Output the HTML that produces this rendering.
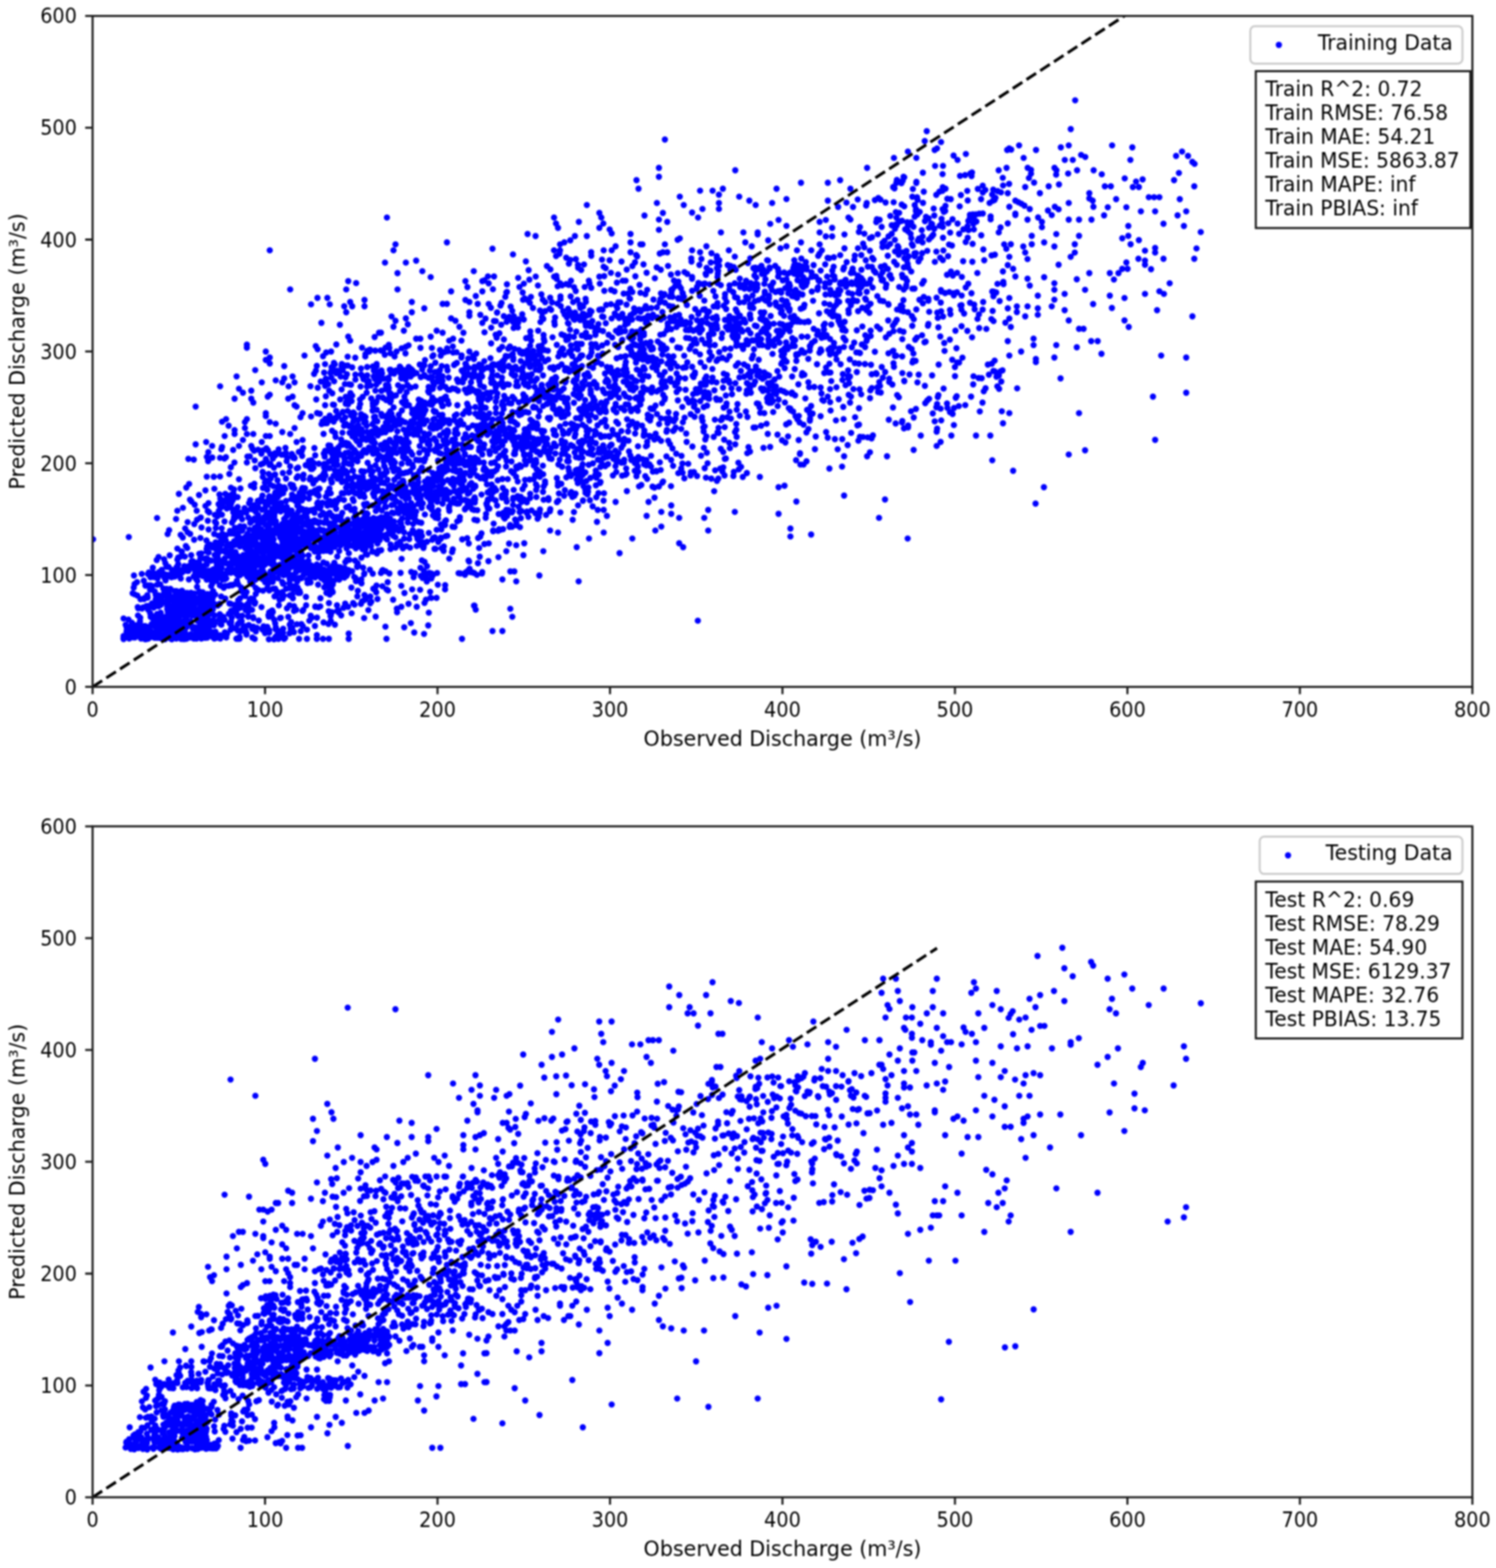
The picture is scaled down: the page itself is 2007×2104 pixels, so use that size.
<!DOCTYPE html>
<html lang="en"><head><meta charset="utf-8"><title>Observed vs Predicted Discharge</title>
<style>html,body{margin:0;padding:0;background:#fff;}body{width:2007px;height:2104px;overflow:hidden;}svg{display:block;filter:blur(0.8px);}text{font-family:"DejaVu Sans","Liberation Sans",sans-serif;font-size:27.65px;fill:#000;}</style></head><body>
<svg width="2007" height="2104" viewBox="0 0 2007 2104">
<defs>
<clipPath id="c0"><rect x="124.20" y="21.40" width="1851.10" height="900.30"/></clipPath>
<clipPath id="c1"><rect x="124.20" y="1108.80" width="1851.10" height="900.30"/></clipPath>
</defs>
<rect width="2007" height="2104" fill="#fff"/>
<g>
<g clip-path="url(#c0)" fill="#0000ff">
<path d="M1442.4 134.6h0M1436.5 173.3h0M1243.3 176h0M892 187.2h0M1240.6 189.3h0M1262.5 190.6h0M1367.2 195.1h0M1433.8 195.1h0M1492 195.1h0M1423.2 197.8h0M1519.1 197.8h0M1257.1 199.1h0M1353.9 199.1h0M1356.6 200.7h0M1253.9 201.3h0M1351.2 201.3h0M1389.9 201.3h0M1218 203.4h0M1585.8 203.4h0M1295.8 206.6h0M1450.4 207.9h0M1279.3 208.7h0M1577.8 209.3h0M1593.8 209.3h0M1456 210.6h0M1199.3 211.9h0M1229.4 211.9h0M1373.3 211.9h0M1284.6 214.6h0M1428.5 214.6h0M1439.2 214.6h0M1516.5 214.6h0M1599.6 217.3h0M1602.6 219.9h0M1254.5 222.6h0M1265.1 222.6h0M884 225.3h0M1163.3 225.3h0M1350.4 225.3h0M1378.7 225.3h0M1414.7 225.3h0M1383.2 227.9h0M986.4 228.5h0M1339.8 228.5h0M1417.3 228.5h0M1445 228.5h0M1467.2 228.5h0M1304 231.5h0M1238.1 231.7h0M1581.6 232.1h0M1301.9 232.8h0M1433 232.9h0M1383.2 233.1h0M1264.5 233.6h0M1478.1 233.9h0M1416.9 234.4h0M1294.8 235h0M1288 236h0M1303.4 236.2h0M884 237.3h0M1212.2 237.3h0M1213.1 237.9h0M1345.3 238.6h0M1380.4 238.9h0M1508.9 239.4h0M1532.9 240.7h0M1203.2 241.4h0M1575.1 241.8h0M853.9 241.8h0M1127.1 241.8h0M1211.1 242.5h0M1524.1 243.6h0M1229.4 244h0M1387.3 245h0M1074.6 245.3h0M1110.6 245.3h0M1202.5 245.5h0M1229.3 245.5h0M1209.4 245.9h0M1353.8 246.8h0M1420.7 247.5h0M1345.7 248.9h0M1318.4 249.1h0M1406.9 250h0M1482.2 250h0M1490.3 250h0M1602.2 250h0M1198.3 251h0M1375.4 251h0M1519.8 251h0M1527.9 251h0M1264.8 251.3h0M1198.3 251.4h0M1200 252.8h0M856.6 253.3h0M969.8 253.3h0M1041.8 253.3h0M1140.9 253.3h0M1268.5 253.3h0M1311.8 253.5h0M1224.7 253.6h0M1332.5 254.5h0M1321.9 254.9h0M939.2 255.9h0M956 255.9h0M1264.4 256h0M1297.7 256.1h0M1338.5 256.5h0M1260.3 257.3h0M1239.3 257.3h0M1342.9 258.1h0M1318.5 258.2h0M1352 259.2h0M1395.1 259.2h0M1461.4 259.2h0M1331.1 261h0M964.5 261.2h0M1256.1 261.5h0M1289.1 261.8h0M912 263.9h0M991.7 263.9h0M1224 264h0M1541.2 264.6h0M1548.3 264.6h0M1555.4 264.6h0M1230.3 264.8h0M1230 265.2h0M1335.5 265.4h0M1178.4 265.6h0M1461.4 266.3h0M1270.9 266.7h0M1055.1 267.1h0M1497.4 267.3h0M1582.8 267.3h0M1275.5 267.3h0M1316.2 267.3h0M1150.7 267.6h0M1181.2 267.9h0M1231 268.2h0M1334.3 268.2h0M1173.7 268.5h0M1298.3 269h0M1005.3 269.2h0M1110.6 269.2h0M1332.2 269.3h0M1362.2 269.3h0M1465.9 269.3h0M1366.3 271.4h0M1198.9 271.4h0M1188.1 271.7h0M1135.6 271.9h0M1238.3 272.3h0M1433.8 272.4h0M1327.6 272.4h0M881.3 272.4h0M964.5 272.4h0M1035.9 272.4h0M1162.8 272.5h0M1370.3 273.4h0M1209.7 274.5h0M787.3 275.1h0M917.3 275.1h0M1013.8 275.1h0M1227.2 275.2h0M1162 275.8h0M1374.4 276h0M1268.4 276.2h0M1213.1 276.9h0M1287.5 276.9h0M1354.1 277.5h0M1415.1 277.5h0M1466.9 277.5h0M1124.4 277.8h0M1144.4 277.8h0M1486.2 278.1h0M1511.1 278.1h0M1252.6 279.9h0M942.4 280.4h0M964.5 280.4h0M1381.5 280.5h0M1264.5 280.6h0M1229 280.8h0M1420.2 280.9h0M1228.7 282.2h0M1405.9 282.5h0M1268.1 283.1h0M1530.6 283.6h0M1549.7 283.6h0M1591.4 283.6h0M1228.8 283.6h0M1233.9 284.4h0M1266.3 284.4h0M1201.8 284.6h0M928.5 285.2h0M1206.3 285.6h0M804.1 285.8h0M889.3 285.8h0M1318.5 286.5h0M1362.2 286.6h0M1313.9 286.7h0M1309.3 287.7h0M1305.1 287.7h0M1230.7 287.8h0M1301.2 288.1h0M1362.2 288.6h0M1411 288.6h0M1481.2 289h0M1579.8 289h0M1253.4 289.2h0M864.6 289.2h0M1194.4 289.7h0M1329 290.5h0M1227.1 290.8h0M1242.3 291h0M1392.7 291.7h0M1301.3 291.9h0M519.1 291.9h0M743.3 291.9h0M806.7 291.9h0M936.5 291.9h0M1138.3 291.9h0M1202.6 292.1h0M1245.8 293h0M1263.2 293.6h0M1277.9 294.2h0M1176.4 294.3h0M1329 294.4h0M884 294.6h0M1140.9 294.6h0M1378.5 294.7h0M1433.8 294.7h0M1447.6 294.7h0M1464.3 294.7h0M1180.1 295h0M1044.5 295.1h0M1107.9 295.1h0M1307.4 295.4h0M1210.1 296.3h0M1299.1 296.5h0M1240.9 296.7h0M1208.1 296.9h0M1309.9 297.2h0M776.6 297.8h0M895.2 297.8h0M1099.6 297.8h0M1397.8 297.8h0M1175.6 298h0M1217.1 298.2h0M1205.3 298.4h0M1222.4 298.4h0M1263.8 298.9h0M1272.2 299.6h0M1352 299.8h0M745.9 299.9h0M809.4 299.9h0M1249.4 300h0M1284.7 300h0M1305.8 300.2h0M1560.9 300.2h0M1033.3 300.4h0M1250.4 300.7h0M1201.5 301.4h0M1196.3 302.3h0M1202.9 302.5h0M1260.6 302.9h0M1218.1 303h0M1055.1 303.1h0M1513.7 303.3h0M1588.3 303.3h0M1298 303.7h0M1225.5 304.3h0M1182.8 304.5h0M1264.8 304.6h0M1153.7 304.7h0M1397.8 304.9h0M1342.3 305.2h0M1246.3 305.6h0M748.6 305.8h0M804.1 305.8h0M1116.4 305.8h0M1253.5 306.8h0M1253.3 307.1h0M1200.7 307.1h0M1292.4 307.7h0M1214.4 307.7h0M1306.5 307.9h0M817.9 307.9h0M884 308.4h0M1299.3 308.9h0M1236.6 308.9h0M1218.1 310.3h0M1152.3 311.2h0M1610.9 311.4h0M1339.9 311.9h0M967.2 311.9h0M997.3 311.9h0M1016.5 311.9h0M1099.6 311.9h0M1274.7 312.1h0M820.6 313.2h0M1159.6 313.6h0M1196.3 313.7h0M1286.8 313.7h0M1221.6 313.7h0M707.8 314h0M845.9 314h0M1417.1 314.1h0M1177.6 314.4h0M1016.5 314.6h0M1132.9 314.6h0M1252 315h0M1316.4 315.7h0M1384.2 316.5h0M1447.6 316.5h0M1513.7 316.5h0M718.5 316.7h0M771.3 316.7h0M787.3 316.7h0M1237.7 317.2h0M1192 317.2h0M1107.9 317.2h0M1116.4 317.2h0M1249.7 317.7h0M1169.8 318.2h0M1265.1 319h0M1298.3 319h0M1222.6 319.6h0M1166.9 319.6h0M1505.6 319.8h0M912 319.9h0M1232.7 320.2h0M1246.2 321.4h0M909.1 321.7h0M1200.5 321.9h0M1527.9 322.2h0M765.1 322.5h0M1030.6 322.5h0M1231.3 323h0M1186.7 323.1h0M1295.6 324.7h0M599.6 325.2h0M757.1 325.2h0M845.9 325.2h0M999.9 325.2h0M1074.6 325.2h0M1400.8 325.2h0M1237.7 325.4h0M1183.9 325.9h0M1157.9 327h0M1304.8 327.3h0M1194.2 327.4h0M1223.3 327.6h0M1356.1 327.7h0M1384.2 327.7h0M1441.9 327.7h0M1516.8 327.7h0M530.6 327.9h0M751.3 327.9h0M859.2 327.9h0M861.9 327.9h0M892 327.9h0M1099.6 327.9h0M1347.2 327.9h0M1273.2 328.1h0M1277.1 329.5h0M1224.6 329.8h0M1204.3 330.3h0M825.9 330.5h0M947.7 330.5h0M1008.5 330.5h0M1055.1 330.5h0M1190.6 330.7h0M1372.8 330.7h0M1414.5 330.7h0M1183.9 331.5h0M1159.6 331.9h0M1205.3 332h0M1549.7 332.8h0M1151 333.1h0M1047.1 333.2h0M1132.9 333.2h0M1605.2 333.4h0M660.7 333.7h0M1350.1 333.9h0M1319.2 334.8h0M361.9 335.9h0M527.9 335.9h0M743.3 335.9h0M751.3 335.9h0M809.9 335.9h0M820.6 335.9h0M928.5 335.9h0M977.8 335.9h0M1069.2 335.9h0M1088.4 335.9h0M1102.6 335.9h0M1265.6 336.1h0M1536.1 336.4h0M1167 336.5h0M1244 336.6h0" stroke="#0000ff" stroke-width="8.40" stroke-linecap="round" fill="none"/>
<path d="M1216.1 336.8h0M1200.8 337.4h0M1256.2 337.6h0M1213 338.4h0M1207.9 338.5h0M793.1 338.5h0M845.9 338.5h0M889.3 338.5h0M895.2 338.5h0M939.2 338.5h0M1375.4 338.9h0M1441.9 338.9h0M1549.7 338.9h0M954.5 339.7h0M1228.7 339.8h0M1237.2 339.8h0M1226.9 339.9h0M885.1 340.2h0M750.5 340.5h0M1099.4 340.5h0M688.2 341.4h0M1334.7 341.7h0M1205.7 341.9h0M1155.5 342.2h0M853.5 342.3h0M1127.2 342.4h0M1330.3 342.7h0M1146.8 342.9h0M1191 343.2h0M793.2 343.3h0M1097.7 343.4h0M961.7 343.6h0M746 343.6h0M1227.1 343.8h0M1271.9 343.8h0M1219 344h0M854.8 344h0M985.8 344.4h0M1354.1 344.6h0M1436.4 344.6h0M1118.7 345.2h0M759.6 345.7h0M1261.3 345.8h0M1170.1 345.9h0M961.7 345.9h0M1110.3 346h0M1112.4 346.5h0M1213.3 346.5h0M1006.5 346.6h0M1234.9 346.6h0M927.4 346.8h0M1075 347h0M1527.3 347.2h0M1560.9 347.2h0M1602.2 347.2h0M941 347.5h0M1378.5 347.6h0M772.5 347.7h0M1171.9 348.1h0M807.6 348.4h0M765 348.7h0M1146.2 348.8h0M1264.9 349h0M1065.6 349.1h0M1029.2 349.1h0M1161.5 349.2h0M1320.4 349.3h0M965 349.3h0M1216.5 349.3h0M817.8 349.3h0M1030.4 349.6h0M1536.1 349.6h0M558.3 349.7h0M1292.1 350.5h0M705.5 350.7h0M1232.3 350.8h0M833.8 351h0M927.7 351.1h0M1304.5 351.2h0M1199.6 351.3h0M1254.2 351.4h0M1081.1 351.7h0M1135.9 351.8h0M961 351.9h0M851.9 352h0M953.5 352.2h0M1511.1 352.3h0M516.5 352.4h0M544.5 352.4h0M1003.4 353h0M763.2 353.7h0M1066.8 354.3h0M1217.7 354.3h0M863.3 354.7h0M1107.1 354.8h0M783.5 354.9h0M1420.2 355.3h0M1536.1 355.3h0M1203.1 355.4h0M775.4 355.5h0M938.3 355.5h0M976.3 355.7h0M1352 355.7h0M1091.5 355.8h0M1071.7 355.9h0M1065.5 355.9h0M1186.8 356.4h0M964.8 356.6h0M1021.5 356.6h0M1040 356.8h0M896.2 356.9h0M980.1 357h0M733.7 357h0M848.4 357h0M1075.1 357.4h0M1164.3 357.8h0M1118.4 357.9h0M809.8 357.9h0M1069.4 358h0M1181.8 358h0M1169.7 358.2h0M1082 358.2h0M984.4 358.5h0M983.7 358.6h0M1212.6 358.7h0M881.1 358.7h0M1032.4 358.9h0M1132.3 358.9h0M1218.5 359h0M775.6 359.3h0M1013.3 359.3h0M1068.4 359.4h0M948 359.4h0M1017.8 359.6h0M961.9 359.7h0M1010.7 359.8h0M1064.3 359.8h0M812.6 359.9h0M981.2 360h0M1017.4 360.1h0M1071.4 360.2h0M1075.6 360.3h0M1143.9 360.4h0M1032.6 360.4h0M1189.7 360.5h0M1043.7 360.6h0M1359.2 360.8h0M1505.6 360.8h0M1512.7 360.8h0M1191.2 360.9h0M1017.4 361.1h0M1544.2 361.2h0M1023.7 361.5h0M1131.4 361.5h0M738.4 361.5h0M1082.1 361.6h0M840.8 361.7h0M987 362h0M1155.7 362h0M886.5 362h0M979.9 362.3h0M779.7 362.4h0M709.2 362.5h0M1013.5 362.7h0M1101 363.1h0M953.2 363.2h0M1116.6 363.3h0M1172.4 363.3h0M963.4 363.5h0M1143 363.6h0M566.6 363.9h0M635.6 363.9h0M1024.3 364.1h0M1075 364.2h0M1345.5 364.3h0M1044.3 364.3h0M1222.5 364.4h0M1028.9 364.4h0M1275.8 364.5h0M918.3 365.1h0M1183.9 365.2h0M1088.7 365.5h0M1060.1 365.6h0M1052 365.7h0M1174.6 365.8h0M1068.4 365.8h0M1144.7 365.8h0M1067 366h0M867.5 366h0M819.6 366.1h0M1284.1 366.1h0M1311.2 366.4h0M1141.6 366.4h0M1461.4 366.5h0M1488.9 366.5h0M1500.5 366.5h0M533.3 366.5h0M909.3 366.6h0M1065.5 367.2h0M946.7 367.3h0M1056.7 367.4h0M963 367.4h0M921.9 367.5h0M1044.9 367.5h0M1022.2 367.6h0M1025.4 367.9h0M829.2 368.4h0M900.1 368.5h0M1210.2 368.6h0M1270.5 368.7h0M947.2 368.8h0M1074.6 368.9h0M1194.2 369h0M1069.7 369.1h0M1150.8 369.7h0M1193.3 369.8h0M1012.2 369.8h0M1117.3 369.8h0M1278.3 369.8h0M1181.3 370.2h0M746.4 370.2h0M810.6 370.5h0M852.4 370.7h0M1152 370.8h0M1092.5 370.9h0M654.6 370.9h0M1119.3 370.9h0M662.8 371h0M1362.2 371h0M1109.6 371.1h0M718.7 371.1h0M1044 371.2h0M743.4 371.2h0M1094.6 371.3h0M804.1 371.3h0M1088.8 371.5h0M1290.4 371.6h0M928.5 371.6h0M962.6 371.8h0M577.8 371.9h0M1400.8 372h0M1210.9 372h0M1077.7 372.1h0M1014.6 372.4h0M695.2 372.9h0M1155.5 373.2h0M878.5 373.4h0M1214.8 373.5h0M1196.1 373.9h0M992.5 373.9h0M928.4 374h0M1378.5 374h0M747 374.4h0M1055.1 374.6h0M1444.6 374.7h0M1026.9 374.8h0M1168 374.9h0M1494.4 375.1h0M1119.9 375.1h0M710.2 375.2h0M1134.5 375.5h0M1184.6 375.5h0M1149.8 375.7h0M1184.4 375.7h0M1077.8 375.8h0M1099.1 376h0M1069.9 376h0M1082.8 376.1h0M1157.7 376.1h0M1133.9 376.1h0M1182.8 376.1h0M649.8 376.2h0M1050.1 376.2h0M1183.6 376.3h0M1076.7 376.5h0M904.2 376.5h0M1098.2 376.5h0M839.3 376.6h0M835.4 376.6h0M790 376.6h0M1001 376.7h0M766 376.7h0M1216.8 377h0M1239.4 377h0M467.2 377.2h0M624.4 377.2h0M647.1 377.2h0M1099.3 377.3h0M910.1 378h0M1346 378.2h0M1131.6 378.2h0M1113.4 378.2h0M1076 378.6h0M1152.4 378.7h0M1081.7 378.7h0M1142.4 378.9h0M1127.6 379h0M1074.9 379.2h0M1037.2 379.2h0M827.6 379.3h0M1082.5 379.3h0M1112.9 379.5h0M937 379.6h0M477.8 379.9h0M1007.2 380h0M1166.5 380h0M962.8 380.1h0M1414.5 380.1h0M1569.2 380.1h0M790.8 380.2h0M655.6 380.2h0M1107.1 380.2h0M985.7 380.3h0M751.6 380.3h0M945.6 380.4h0M1014.2 380.4h0M1237.2 380.6h0M702.8 380.6h0M804.7 380.6h0M938.5 380.7h0M1163.2 380.7h0M1126.9 380.7h0M1299 380.8h0M1057.6 380.8h0M1058.8 380.8h0M1025.4 380.9h0M1338.2 380.9h0M999.5 380.9h0M1137.8 381.1h0M759.6 381.1h0M1143.4 381.1h0M943.3 381.2h0M1132.4 381.2h0M1346.3 381.3h0M1128.4 381.3h0M680.1 381.5h0M952.1 381.6h0M992.5 381.7h0M1016 381.8h0M1158.1 381.8h0M1189.1 381.8h0M944 381.8h0M1150 382h0M999.7 382.1h0M1057.6 382.2h0M858 382.2h0M763.1 382.2h0M992.5 382.5h0M967 382.6h0M1013 382.6h0M754 382.7h0M1081.1 382.8h0M1215.8 382.8h0M1076.1 382.9h0M978.7 383h0M721.7 383.1h0M1381.5 383.2h0M1075.7 383.3h0M1008 383.5h0M1034.7 383.6h0M1059.7 383.7h0M1033.4 383.8h0M911.4 383.9h0M905.7 384.1h0M748.1 384.1h0M1135 384.7h0M935.2 384.8h0M1206.3 385.1h0M696.9 385.1h0M784.4 385.1h0M1077.5 385.2h0M993 385.2h0M627.1 385.2h0M1215.4 385.3h0M1155.3 385.4h0M770.1 385.4h0M1106.8 385.4h0M1097.5 385.5h0M1295.6 385.8h0M1170.7 385.9h0M1188.4 386.1h0M793.2 386.2h0M1015.9 386.4h0M1053.4 386.6h0M1096.8 386.7h0M913.5 386.9h0M1226.9 387.2h0M998.7 387.4h0M845.7 387.4h0M1224 387.4h0M934.6 387.6h0M902.4 387.8h0M1005.5 387.8h0M661.3 388.1h0M389.3 388.4h0M464.5 388.4h0M533.3 388.4h0M1212.4 388.6h0M978.6 388.7h0M1096.8 388.7h0" stroke="#0000ff" stroke-width="8.40" stroke-linecap="round" fill="none"/>
<path d="M1059.3 388.7h0M1124.8 388.8h0M1067.4 388.9h0M900.6 388.9h0M1414.5 388.9h0M1455.7 388.9h0M868.3 388.9h0M1113.9 388.9h0M819.8 389h0M1152.5 389.1h0M1035.5 389.1h0M1262.3 389.2h0M1014.7 389.2h0M1013.1 389.3h0M1127.4 389.7h0M928.5 390.1h0M1046.9 390.2h0M928.6 390.2h0M810.7 390.3h0M957 390.4h0M772.4 390.5h0M1043.9 390.7h0M1555.4 390.9h0M824.4 391h0M605.2 391h0M647.1 391h0M1331.2 391.2h0M1089.1 391.2h0M1026.1 391.4h0M1262.6 391.4h0M1065.7 391.4h0M1333.3 391.5h0M1162.8 391.5h0M983.2 391.6h0M680.1 391.7h0M848.4 391.9h0M1040.5 391.9h0M1273.6 391.9h0M983.8 392.2h0M1283.9 392.3h0M1336.5 392.5h0M701.2 392.5h0M679.3 392.5h0M1333 392.6h0M1048.1 392.7h0M900.8 392.8h0M1138.2 392.9h0M859.2 392.9h0M1151.3 393h0M915.6 393h0M1267.9 393.3h0M1279.6 393.5h0M1303.3 393.5h0M1071.7 393.5h0M886.7 393.6h0M1057.5 393.6h0M1118.7 393.6h0M916 393.7h0M1153.3 393.9h0M1026.1 393.9h0M842.4 393.9h0M836.7 394h0M1143.3 394.4h0M1428.3 394.4h0M1536.1 394.4h0M1561.5 394.4h0M887.5 394.6h0M891.4 394.6h0M972.7 394.8h0M865.8 394.8h0M726.3 395h0M1114.1 395h0M1125.2 395.1h0M1076.5 395.2h0M1107.5 395.2h0M1120.6 396.2h0M1279.6 396.2h0M1009.6 396.4h0M1290.2 396.6h0M1031.7 396.7h0M890 396.8h0M1392.3 396.8h0M1488.9 396.8h0M938.7 397h0M638.3 397.2h0M1062.6 397.2h0M1069.7 397.3h0M1177 397.4h0M1332.7 397.5h0M1065.6 397.7h0M751.9 397.7h0M765.6 397.7h0M959.9 397.8h0M917.1 398.1h0M917.5 398.1h0M898.3 398.1h0M917.4 398.2h0M677.9 398.4h0M1239.3 398.4h0M902.3 398.4h0M712.3 398.4h0M1001.1 398.5h0M986.1 398.7h0M1256.5 399.5h0M738.1 399.5h0M972.5 399.6h0M989.2 399.8h0M425.9 399.8h0M439.2 399.8h0M1354.1 399.9h0M1508.6 399.9h0M910.2 399.9h0M1069.3 399.9h0M1022.9 400.1h0M844.5 400.3h0M704 400.5h0M910.1 400.6h0M1031.6 400.6h0M1160.7 400.6h0M785.6 400.9h0M845.3 400.9h0M1245.5 401h0M1003.8 401.1h0M914.4 401.2h0M751.9 401.4h0M886 401.4h0M876.7 402h0M728.2 402.1h0M1414.5 402.1h0M1144.4 402.2h0M1233.5 402.2h0M1161.8 402.2h0M708.4 402.2h0M701.7 402.3h0M1049 402.4h0M1025.9 402.4h0M489 402.5h0M624.4 402.5h0M707.7 402.5h0M774.6 402.5h0M1017.7 402.6h0M1212 402.8h0M1180.8 403.2h0M944.9 403.4h0M1245.5 403.5h0M1027.6 403.6h0M1090.8 403.6h0M1137.9 403.6h0M1123.6 403.7h0M1145.5 403.8h0M1149.8 403.9h0M1341.1 404h0M1185 404.1h0M1055.2 404.2h0M1012.6 404.3h0M974.7 405.1h0M1125.9 405.1h0M786 405.1h0M469.8 405.2h0M552.5 405.2h0M629.7 405.2h0M1319 405.3h0M998.1 405.4h0M768.9 405.4h0M731.4 405.5h0M884.9 405.7h0M829.5 405.7h0M740.6 405.7h0M832.3 405.8h0M991.8 405.9h0M1262.1 406h0M1040.7 406h0M1301.4 406.2h0M892 406.3h0M710.8 406.4h0M672.8 406.5h0M962.5 406.7h0M1106.1 407.1h0M1238.1 407.1h0M747.9 407.4h0M1167.9 407.6h0M593.8 407.8h0M599.6 407.8h0M640.9 407.8h0M655.6 407.9h0M1191.7 408h0M1466.5 408h0M819.6 408.1h0M1032.6 408.2h0M417.3 408.4h0M442.4 408.4h0M1057.1 408.6h0M1006.2 408.6h0M1113.1 408.7h0M840.6 408.8h0M1306.9 408.8h0M778.3 408.9h0M777.7 408.9h0M1192 408.9h0M1121.9 408.9h0M1008.4 408.9h0M1079.2 409h0M921.5 409.2h0M813.3 409.3h0M1052.9 409.4h0M1290 409.5h0M1141.5 409.5h0M1041.4 409.7h0M1288.4 409.9h0M1208.5 410h0M671.4 410h0M826.8 410.2h0M971 410.3h0M897.7 410.5h0M866.3 410.8h0M752.3 410.8h0M461.8 411h0M472.5 411h0M489 411h0M1364.2 411.1h0M1378.5 411.1h0M1411 411.1h0M1210.5 411.1h0M957.4 411.2h0M782.3 411.3h0M1164.2 411.4h0M685.1 411.4h0M902.7 411.5h0M962.6 411.5h0M1047.4 411.6h0M900.8 411.8h0M1119.2 411.8h0M1045 412.3h0M1078.4 412.3h0M881.3 412.5h0M1006.4 412.6h0M658.6 413h0M1156.8 413h0M1056.9 413.2h0M1076.8 413.3h0M778.6 413.3h0M1491.7 413.3h0M715 413.3h0M1010.6 413.4h0M873.7 413.4h0M850.7 413.6h0M828.3 413.6h0M569.2 413.7h0M1352 413.7h0M1392.3 413.7h0M866.1 413.7h0M868.6 414.1h0M737.5 414.2h0M762.3 414.2h0M1074.2 414.3h0M864.2 414.4h0M974.2 414.8h0M932.7 414.8h0M1059.3 414.8h0M945.5 414.9h0M1307.6 415h0M806.7 415.1h0M1229.3 415.2h0M987.1 415.3h0M857.5 415.4h0M1203.5 415.4h0M943.4 415.5h0M1318.3 415.5h0M808.3 415.6h0M1289.9 415.6h0M804 415.7h0M739.4 415.9h0M1138.3 415.9h0M1274.5 416h0M1162.6 416.2h0M1428.3 416.3h0M1552.3 416.3h0M1208.6 416.6h0M724.5 416.7h0M791.5 416.8h0M1117.3 416.9h0M687.2 417.1h0M1048.8 417.3h0M1059 417.3h0M1331.7 417.3h0M1151.2 417.5h0M731.4 417.5h0M755.5 417.5h0M1109.4 417.6h0M1212.1 417.7h0M1262.6 417.8h0M793.5 417.9h0M951.2 418.1h0M764.2 418.2h0M859.3 418.3h0M1246.6 418.4h0M988.7 418.6h0M1115.1 418.6h0M888.6 418.7h0M1364.2 418.8h0M851.7 419h0M1218 419h0M464.5 419h0M552.5 419h0M629.7 419h0M1025.3 419.1h0M667 419.2h0M1020.6 419.3h0M937.2 419.4h0M1257.4 419.5h0M666.8 419.5h0M771.5 419.5h0M1166.4 419.8h0M727.4 420h0M1047.8 420h0M949.1 420.2h0M1138.6 420.2h0M849.4 420.5h0M1098.8 420.5h0M824.7 420.6h0M1293.4 420.8h0M1113.5 421.2h0M783 421.3h0M781.8 421.3h0M834.9 421.3h0M936.9 421.4h0M1275.1 421.6h0M700.6 421.7h0M1006.2 421.8h0M1313.3 421.9h0M1023.3 422h0M757.5 422h0M791.1 422.2h0M876 422.3h0M1392.3 422.4h0M911 422.5h0M644.4 422.5h0M766.7 422.7h0M826.4 422.9h0M783 423h0M845.8 423h0M1022.8 423.3h0M787.7 423.3h0M1006.1 423.4h0M992.6 423.5h0M869.4 423.7h0M1051.8 423.7h0M1121.3 423.8h0M629.7 423.8h0M1065.3 423.9h0M905.8 423.9h0M1033.9 424h0M675.9 424.2h0M828.2 424.2h0M785.5 424.2h0M1223.4 424.3h0M978.6 424.3h0M774.7 424.4h0M689.4 424.4h0M1117.1 424.5h0M1375.4 424.5h0M1599.7 424.5h0M525.3 424.6h0M961.1 424.7h0M807.8 424.7h0M1124.9 424.8h0M1265.2 424.8h0M683.3 425.1h0M991.1 425.2h0M809.5 425.3h0M870.9 425.3h0M927.8 425.5h0M948 425.7h0M1060.5 425.7h0M727.2 425.7h0M760.5 425.8h0M744.7 425.9h0M882.2 425.9h0M899.1 426h0M771.9 426h0M890.6 426.4h0M844.3 426.4h0M780.8 426.5h0M1258.1 426.6h0M956 426.7h0M874.7 426.8h0M856.3 426.9h0M830.6 426.9h0M769.1 427.2h0M864.2 427.2h0M544.5 427.3h0M605.2 427.3h0M984.6 427.3h0M820.5 427.4h0M838.1 427.5h0M1354.1 427.5h0M651.4 427.5h0M977.8 427.7h0M859.9 427.7h0M1007 427.8h0" stroke="#0000ff" stroke-width="8.40" stroke-linecap="round" fill="none"/>
<path d="M1125.2 427.8h0M1020.1 427.8h0M1311.4 427.9h0M728.9 428h0M1330 428.1h0M962 428.2h0M695.9 428.4h0M913.2 428.4h0M1225.9 428.4h0M1069.3 428.5h0M681 428.6h0M1022.1 428.6h0M702.7 428.7h0M998.1 428.8h0M848 428.8h0M782.7 428.9h0M886.5 428.9h0M770.7 429h0M972.6 429.2h0M692.4 429.2h0M1203.1 429.2h0M686.5 429.3h0M778.3 429.5h0M986.4 429.6h0M935.1 429.6h0M1023.4 429.6h0M1027.3 429.8h0M1125.3 429.9h0M1433.8 430h0M1508.6 430h0M1191.6 430h0M941.7 430.2h0M1124.8 430.3h0M839.1 430.5h0M530.6 430.5h0M611.1 430.5h0M794.6 430.7h0M662.7 430.7h0M903.4 430.8h0M1332.9 430.9h0M665.1 430.9h0M906.2 431h0M899.7 431.1h0M1084.2 431.1h0M1028.4 431.2h0M1069.5 431.5h0M1133.2 431.7h0M679.7 431.8h0M1073.7 431.8h0M743.7 431.8h0M688.1 431.9h0M1084.9 431.9h0M920 432h0M1064 432.1h0M725.1 432.1h0M987.2 432.2h0M868.1 432.3h0M1079.4 432.4h0M941.7 432.7h0M999.8 432.7h0M978.6 432.8h0M921.4 432.8h0M695.2 432.8h0M840.3 432.9h0M1348.8 433h0M1127.1 433h0M1200.8 433h0M431.2 433.2h0M647.1 433.2h0M785.3 433.2h0M925.9 433.2h0M948.7 433.4h0M866.5 433.4h0M788.3 433.5h0M1126.4 433.5h0M1030.5 433.6h0M761.9 433.6h0M992.5 433.7h0M812.7 433.7h0M842.4 433.7h0M895.8 433.9h0M919.7 433.9h0M1027.9 434.1h0M960.5 434.2h0M762.7 434.3h0M1046.3 434.4h0M1106.6 434.4h0M1038 434.4h0M916.3 434.7h0M1245.5 434.7h0M939.4 434.9h0M802.8 434.9h0M912 435h0M1049.6 435.2h0M547.1 435.3h0M919.3 435.3h0M958.7 435.5h0M1115.2 435.5h0M1060.3 435.5h0M744.2 435.7h0M672.4 435.7h0M456 435.8h0M990.5 435.9h0M838.7 436.1h0M953.7 436.2h0M1127.9 436.5h0M1056.1 436.7h0M1105 436.7h0M1012.7 436.9h0M1197.9 436.9h0M953.6 437.1h0M1060.3 437.1h0M1244.9 437.1h0M961.6 437.2h0M785.9 437.2h0M793.5 437.3h0M1223.9 437.3h0M793.6 437.7h0M690.6 437.8h0M791.8 437.8h0M1290 437.8h0M1015.1 437.8h0M896 438h0M1052.3 438h0M1156.9 438.1h0M939.1 438.1h0M1176.7 438.1h0M982.7 438.4h0M527.9 438.5h0M616.4 438.5h0M1031.2 438.5h0M974.1 438.7h0M907.6 438.7h0M1356.1 438.7h0M1514.3 438.7h0M939.9 438.9h0M982.1 438.9h0M1258.9 439.2h0M1030.6 439.3h0M694.8 439.4h0M659 439.6h0M978.8 439.9h0M937 440h0M831.7 440.1h0M689 440.1h0M798.8 440.2h0M1131.4 440.2h0M1313.7 440.3h0M989.1 440.3h0M1028.8 440.3h0M983.6 440.4h0M987.7 440.7h0M925.7 440.9h0M1024.5 441.1h0M962.2 441.1h0M1447.6 441.2h0M1453.7 441.2h0M1091.6 441.2h0M1054 441.3h0M1323.3 441.4h0M1180.6 441.5h0M900.5 441.8h0M860.2 442h0M994.3 442.1h0M1105.4 442.2h0M934.2 442.2h0M976.6 442.2h0M941.8 442.3h0M764.7 442.4h0M1003.6 442.7h0M954.7 442.8h0M803.5 442.8h0M894.7 442.9h0M920.3 442.9h0M1130 442.9h0M924.1 443h0M987.2 443.2h0M1149.5 443.3h0M1045.8 443.4h0M1207.2 443.6h0M1281.8 443.7h0M930.1 443.7h0M722 443.7h0M1168 443.8h0M541.8 443.8h0M585.8 443.8h0M1042.2 443.9h0M826.4 443.9h0M1134.4 443.9h0M1297.8 444h0M987.8 444.1h0M838.6 444.2h0M1097 444.3h0M808.9 444.3h0M1198.7 444.4h0M995.3 444.5h0M1059.5 444.5h0M996 444.8h0M711.4 444.8h0M1021.7 444.8h0M1026.9 444.8h0M847.9 444.8h0M773.2 445h0M798.5 445.2h0M1212.1 445.3h0M853.8 445.4h0M833.2 445.5h0M1021.4 445.5h0M983.4 445.7h0M650 445.9h0M1049.9 446h0M938.8 446.2h0M1028.3 446.3h0M508.5 446.5h0M511.1 446.5h0M593.8 446.5h0M621.7 446.5h0M786.1 446.5h0M863.7 446.6h0M829.7 446.8h0M1028.3 447h0M1006.8 447.2h0M670 447.2h0M968.9 447.4h0M957.2 447.9h0M1193 448h0M890.4 448.2h0M1103.8 448.6h0M753.4 448.7h0M951.1 449h0M664.9 449.1h0M885.9 449.1h0M798.9 449.2h0M1104 449.2h0M816.5 449.3h0M1096.3 449.4h0M1045.1 449.4h0M1047.6 449.5h0M729.2 449.5h0M984.3 449.7h0M1108.9 449.8h0M845.8 449.8h0M863.9 449.8h0M1237 449.9h0M1160.9 449.9h0M858.4 450.1h0M1031.3 450.2h0M1016.6 450.3h0M757 450.3h0M780.5 450.3h0M1107.3 450.5h0M711.5 450.7h0M982.6 450.8h0M1168.1 450.9h0M989.9 451h0M763.8 451.1h0M1045.1 451.4h0M1261.5 451.5h0M467.2 451.8h0M577.8 451.8h0M1075.5 451.8h0M1083.3 451.9h0M1106.7 452.1h0M769.9 452.1h0M849.3 452.2h0M502.6 452.3h0M843.8 452.4h0M791.2 452.4h0M786.3 452.5h0M989.8 452.5h0M1304.1 452.6h0M741.3 452.6h0M951.2 452.7h0M1188.4 452.8h0M1044 452.8h0M821.3 452.9h0M1230.1 452.9h0M983.9 453.1h0M1131.6 453.2h0M1102.2 453.2h0M666.3 453.3h0M845.2 453.3h0M920.5 453.4h0M849.6 453.4h0M846.7 453.5h0M968.1 453.6h0M1062.9 453.7h0M1017.3 453.7h0M705.9 453.8h0M924.7 453.9h0M1386.6 454.4h0M558.3 454.5h0M563.9 454.5h0M607.9 454.5h0M729.5 454.7h0M1113.6 454.9h0M1021.2 455.1h0M1210.5 455.1h0M932.5 455.2h0M1030.9 455.2h0M1040 455.4h0M762.2 455.4h0M847.4 455.5h0M858.9 455.5h0M676 455.5h0M941.5 455.6h0M1227.9 455.7h0M1163 455.8h0M1274.3 455.8h0M834.8 455.9h0M1066.8 456.3h0M901.8 456.4h0M759.8 456.4h0M1001.7 456.5h0M1008.9 456.7h0M1134.3 456.7h0M1011.3 456.8h0M712.7 457h0M469.8 457.1h0M602.6 457.1h0M619.1 457.1h0M1093.1 457.4h0M951.7 457.4h0M1162.5 457.5h0M834.3 457.6h0M930.7 457.7h0M1352 457.8h0M1463.9 457.8h0M1472.6 457.8h0M730.4 458h0M1017.6 458h0M882.4 458.1h0M987.9 458.2h0M1036.9 458.4h0M1035.2 458.4h0M1241.8 458.5h0M1031.3 458.7h0M872.7 458.9h0M1240.3 459.3h0M1054.6 459.5h0M1146 459.8h0M1045.8 459.9h0M814.5 460h0M1089.2 460.2h0M1118.8 460.2h0M1266.8 460.2h0M866.5 460.3h0M1064 460.5h0M658.9 460.7h0M934.4 460.8h0M945.9 461h0M1020.1 461.1h0M860.9 461.3h0M773.2 461.3h0M1017.6 461.4h0M886.2 461.4h0M777.4 461.5h0M780.4 461.5h0M793.3 461.6h0M850.7 461.8h0M799 461.9h0M793.7 462h0M1003.5 462.1h0M451.2 462.2h0M1156.2 462.2h0M1031.7 462.4h0M331.2 462.5h0M521.6 462.6h0M747 462.7h0M825.3 462.8h0M852 462.8h0M998.9 462.9h0M959 463h0M1018.3 463h0M1386.6 463.1h0M1417.1 463.1h0M1022.8 463.1h0M853.8 463.2h0M548.1 463.4h0M765.9 463.5h0M889.5 463.5h0M807.9 463.5h0M1038.6 463.7h0M952.2 463.8h0M993.8 463.8h0M711.2 463.9h0M927.5 463.9h0M726.5 464h0M987.7 464h0M1055.7 464.2h0M871 464.2h0M1086.6 464.3h0M1066.2 464.4h0M423.6 464.4h0M846.9 464.5h0M1062.2 464.6h0M1029.4 464.8h0M722.6 464.8h0M684.1 464.9h0M607.5 464.9h0" stroke="#0000ff" stroke-width="8.40" stroke-linecap="round" fill="none"/>
<path d="M1086.8 465.3h0M673.7 465.4h0M1118.9 465.5h0M1219.1 465.5h0M544.3 465.5h0M1030.5 465.6h0M1132.2 465.6h0M1160.6 465.7h0M829.4 465.8h0M1142.8 466h0M1444.6 466h0M862 466.2h0M908.6 466.2h0M875.2 466.2h0M859 466.3h0M517.2 466.4h0M331.2 466.5h0M485.7 466.5h0M802 466.6h0M842.8 466.6h0M564.1 466.7h0M911.4 466.9h0M579.4 466.9h0M683.1 467h0M1114.3 467h0M522.3 467h0M912.3 467h0M1053 467.3h0M1283.2 467.3h0M538.8 467.4h0M754.4 467.4h0M599.8 467.5h0M793.7 467.5h0M1126.2 467.6h0M773.4 467.7h0M980.1 467.7h0M894.2 467.8h0M681.9 467.8h0M886.8 468h0M690.3 468.1h0M925.2 468.2h0M1223 468.2h0M996.9 468.2h0M875.9 468.3h0M972.3 468.3h0M755.4 468.3h0M1056.7 468.5h0M1011.5 468.6h0M426.1 468.6h0M775.2 468.7h0M1101 468.8h0M669.9 469h0M892.2 469.1h0M873.6 469.1h0M1051.1 469.2h0M496.4 469.2h0M863.6 469.2h0M1111.5 469.3h0M727.6 469.6h0M696.3 469.6h0M730.6 469.6h0M1115.7 469.8h0M590.3 469.8h0M723.5 469.9h0M1075.5 469.9h0M752.9 470h0M766.2 470h0M510.7 470.2h0M707.4 470.2h0M503.4 470.5h0M1086.4 470.5h0M735 470.6h0M1198.5 470.6h0M492.9 470.8h0M1101.9 470.8h0M1267.2 470.9h0M599.5 470.9h0M715.4 470.9h0M1048.2 471h0M846.9 471h0M513.7 471h0M764.7 471.1h0M1197.6 471.1h0M600.9 471.3h0M933 471.5h0M1125.2 471.6h0M1369.9 471.7h0M444.2 471.7h0M629.7 471.7h0M1113.3 471.7h0M532 471.8h0M356.6 471.8h0M495.5 471.9h0M847.1 471.9h0M1173.7 472h0M699.6 472.1h0M763.4 472.1h0M712.9 472.2h0M952 472.2h0M701.7 472.3h0M596.3 472.5h0M964.9 472.5h0M698.4 472.5h0M612.5 472.6h0M860.7 472.6h0M793.6 472.7h0M712.2 472.8h0M858.2 472.8h0M1148.9 472.9h0M437.6 473h0M1152.5 473.1h0M750.8 473.1h0M607.9 473.1h0M1099.4 473.2h0M697.9 473.2h0M1079.3 473.3h0M1078.3 473.4h0M1153.7 473.8h0M523.9 474h0M1191.9 474.1h0M544 474.2h0M765.1 474.2h0M1225.4 474.4h0M638.9 474.5h0M808.6 474.5h0M1477.7 474.7h0M1051.9 474.8h0M700.6 474.9h0M687.9 474.9h0M1036.4 474.9h0M724.2 475h0M1071.3 475h0M1069.8 475.1h0M490.3 475.3h0M706.3 475.3h0M864.8 475.4h0M1121.1 475.5h0M1068.2 475.5h0M1113.5 475.6h0M939.1 475.6h0M888.5 475.8h0M516.2 476h0M851.5 476.3h0M847.2 476.3h0M757 476.4h0M719.7 476.6h0M581.4 476.7h0M850.9 476.7h0M686.3 476.7h0M1010.3 476.9h0M779.9 476.9h0M619.3 477h0M781.1 477h0M792.1 477.1h0M408.5 477.1h0M1354.1 477.1h0M1557.8 477.1h0M1068.4 477.2h0M1202.4 477.2h0M779.1 477.3h0M591.3 477.3h0M917.9 477.4h0M802.3 477.5h0M634.8 477.5h0M978.8 477.5h0M1048.7 477.6h0M804.6 477.6h0M896.3 477.6h0M767.7 477.7h0M678.4 477.7h0M1200.6 477.8h0M839.5 477.9h0M433.4 478h0M954.9 478.1h0M680.9 478.1h0M903.5 478.1h0M838.5 478.2h0M580.1 478.3h0M1210.4 478.3h0M529.4 478.4h0M749.1 478.4h0M490.1 478.4h0M466.4 478.6h0M713.5 478.6h0M634.6 478.8h0M832.7 479h0M790.1 479.1h0M854.5 479.4h0M875.5 479.5h0M1414.5 479.8h0M1591.4 479.8h0M361.9 479.8h0M862.4 479.8h0M870.2 479.8h0M619 479.8h0M1291.2 479.9h0M851.8 479.9h0M726.9 480h0M476.6 480h0M688.6 480.1h0M708.7 480.2h0M868 480.3h0M969.1 480.3h0M658 480.6h0M777.3 480.7h0M713.6 480.8h0M717.3 480.8h0M827.3 480.8h0M1008.7 481h0M628.2 481.1h0M858.5 481.1h0M1084.4 481.5h0M708.5 481.5h0M635.8 481.8h0M1389.7 481.8h0M1052.2 481.9h0M963.4 482h0M1140.1 482.2h0M880.6 482.3h0M735.5 482.4h0M1122.3 482.4h0M862.4 482.6h0M974.9 482.6h0M951.5 482.7h0M1277.5 482.7h0M1017.9 482.7h0M676.5 482.8h0M356.6 483h0M570.2 483.1h0M688.6 483.1h0M898.6 483.1h0M772.8 483.6h0M1225.1 483.7h0M1334.4 483.9h0M1068.4 484.2h0M1228.3 484.3h0M961.3 484.4h0M698.7 484.5h0M649.7 484.6h0M875.9 484.7h0M718.7 484.7h0M731.2 484.9h0M869.2 484.9h0M887.3 484.9h0M722.4 485.1h0M1055.2 485.4h0M673.6 485.5h0M901.9 485.6h0M801.7 485.7h0M839.6 485.8h0M1389.7 485.9h0M922.1 486.3h0M1284.2 486.4h0M1224.1 486.4h0M939.9 486.4h0M1286.7 486.5h0M1049.3 486.5h0M853.2 486.5h0M584.1 486.7h0M897.3 486.8h0M448 486.9h0M798.9 486.9h0M709.9 487h0M612.9 487h0M1146.7 487.2h0M904.4 487.2h0M674.8 487.3h0M990.3 487.4h0M706.3 487.4h0M1198.7 487.4h0M704.4 487.6h0M361.9 487.8h0M1330.7 488h0M1152.3 488h0M895.4 488h0M624.4 488.1h0M1112.7 488.1h0M669.7 488.2h0M879.3 488.2h0M1048.2 488.4h0M458.6 488.5h0M505.3 488.5h0M1160.4 488.5h0M610.5 488.5h0M625.2 488.6h0M436.1 488.6h0M661.9 488.6h0M806.9 488.6h0M568.6 488.7h0M717.9 488.8h0M1127.7 488.8h0M1096.1 488.8h0M877.9 488.9h0M449.2 488.9h0M768 488.9h0M998.2 489h0M753.4 489h0M716.4 489.1h0M660.7 489.1h0M642.9 489.2h0M1259.3 489.3h0M1325.3 489.3h0M563.1 489.3h0M1168.5 489.5h0M665.5 489.7h0M609.2 489.7h0M660.2 489.8h0M838.8 490.1h0M712.2 490.1h0M569.2 490.3h0M882.4 490.4h0M724.8 490.4h0M466.4 490.5h0M462.7 490.7h0M645.7 490.8h0M987.3 490.9h0M671.2 491h0M682.5 491h0M425 491h0M790.6 491h0M780.7 491.1h0M592.6 491.1h0M458.3 491.2h0M381.3 491.3h0M772.1 491.4h0M505.2 491.4h0M577.9 491.5h0M659.7 491.7h0M710.5 491.7h0M1003 491.7h0M1014.1 491.8h0M500.3 491.8h0M682.3 491.8h0M908.7 491.9h0M536.4 492h0M599.5 492.1h0M636.5 492.1h0M919.5 492.3h0M748.9 492.3h0M928.6 492.3h0M1199.3 492.3h0M691.7 492.3h0M945.3 492.4h0M548.3 492.4h0M1182.9 492.5h0M1281.1 492.5h0M492.6 492.5h0M814.3 492.5h0M711.2 492.6h0M676 492.7h0M742.3 492.8h0M444.7 492.8h0M863.4 492.8h0M875.1 492.9h0M659.5 493h0M472.5 493h0M920 493.1h0M656.9 493.1h0M701.3 493.1h0M1108.2 493.1h0M653.7 493.3h0M537.3 493.3h0M819.2 493.3h0M643.9 493.4h0M446 493.4h0M738.2 493.4h0M774.7 493.5h0M916.3 493.5h0M795.6 493.6h0M724.5 493.6h0M899.6 493.6h0M671.9 493.7h0M628.6 493.7h0M1052.7 494h0M687.9 494h0M816.7 494h0M758.7 494h0M624.4 494.2h0M899.9 494.2h0M725.3 494.2h0M484.3 494.5h0M777.3 494.5h0M670.8 494.6h0M761.6 494.7h0M955.7 495.1h0M549.5 495.2h0M816.2 495.2h0M1066.2 495.3h0M840 495.3h0M551.5 495.3h0M864.9 495.6h0M743 495.8h0M837.3 495.8h0M694.4 495.8h0M648.3 495.8h0M854.3 495.9h0M566.4 495.9h0M636.4 495.9h0M687.2 496h0M538.1 496h0" stroke="#0000ff" stroke-width="8.40" stroke-linecap="round" fill="none"/>
<path d="M718.7 496.1h0M699 496.1h0M524 496.1h0M769.7 496.2h0M523 496.3h0M501.9 496.3h0M646 496.5h0M836.2 496.6h0M457.4 496.6h0M342.4 496.6h0M880.9 496.7h0M542.3 496.7h0M590.2 496.8h0M1013.1 496.8h0M447.7 496.8h0M459.8 496.9h0M723.4 496.9h0M828.5 496.9h0M1137.8 497h0M1344.9 497h0M687.2 497h0M1014.5 497h0M600.4 497h0M531 497.1h0M511.7 497.1h0M758.1 497.1h0M766.4 497.2h0M539.9 497.2h0M501.5 497.2h0M619.4 497.3h0M452.1 497.4h0M589.2 497.4h0M675 497.4h0M423.7 497.5h0M576.7 497.5h0M553.8 497.5h0M858.3 497.6h0M816.9 497.7h0M993.9 497.8h0M548.6 497.8h0M1332.7 497.8h0M1018.5 497.9h0M660.3 497.9h0M1043 497.9h0M1342.3 498.1h0M1334.3 498.2h0M1006.5 498.3h0M763.6 498.7h0M454.7 498.7h0M443.9 498.9h0M822.4 498.9h0M858.9 499h0M507.5 499.1h0M891.8 499.1h0M583.5 499.2h0M1187.5 499.2h0M1149.5 499.3h0M528.1 499.4h0M701.1 499.5h0M1025.3 499.6h0M621.5 499.6h0M1111.6 499.7h0M932.3 499.8h0M841 499.9h0M1114.1 499.9h0M1007.5 500h0M434.9 500h0M841.1 500h0M1025.6 500.1h0M1017.9 500.1h0M774.7 500.2h0M1340.3 500.4h0M554.7 500.4h0M1105.8 500.5h0M635.8 500.5h0M537.2 500.5h0M558.8 500.6h0M1210.6 500.6h0M1076.4 500.6h0M1175.3 500.6h0M443.3 500.6h0M524.8 500.7h0M788.4 500.8h0M588.7 500.8h0M451.1 500.9h0M821.1 500.9h0M512.5 501h0M528.8 501.2h0M539.4 501.2h0M907.8 501.3h0M811.6 501.3h0M971 501.4h0M539.1 501.6h0M628.1 501.6h0M686.4 501.7h0M1176 501.7h0M421.4 501.8h0M1130.7 502h0M932.2 502.1h0M541 502.1h0M554.5 502.1h0M645.2 502.1h0M713.2 502.2h0M465.4 502.3h0M1169.5 502.3h0M484.5 502.4h0M1220.2 502.5h0M858.9 502.7h0M1003.5 502.7h0M476.8 502.7h0M1232.5 502.7h0M544.2 502.7h0M1326.7 502.8h0M1079.1 502.9h0M1029.9 503h0M830.7 503h0M784.1 503.1h0M975.2 503.1h0M837.4 503.2h0M569.2 503.2h0M885.1 503.3h0M829.4 503.3h0M708 503.4h0M492.6 503.6h0M667.2 503.6h0M1075.8 503.7h0M625.7 503.7h0M506.5 503.7h0M1250.5 503.8h0M728.5 503.8h0M691.3 503.8h0M625.7 503.8h0M660.3 503.8h0M1015.8 503.9h0M1031.8 504h0M888.3 504h0M1340 504h0M638.3 504h0M865.5 504.2h0M929.3 504.2h0M774.3 504.4h0M544.8 504.4h0M689.6 504.4h0M700.7 504.6h0M1281.2 504.8h0M1137.5 504.8h0M570.7 504.9h0M1306 504.9h0M790.5 505h0M593.7 505h0M486.9 505h0M870 505.1h0M317.4 505.1h0M392.5 505.1h0M623 505.2h0M457 505.2h0M840.8 505.2h0M550.9 505.2h0M1062.7 505.3h0M501.3 505.3h0M1140.3 505.3h0M646.8 505.3h0M947.6 505.3h0M486.7 505.4h0M632.8 505.4h0M1045.4 505.4h0M998.3 505.5h0M705.9 505.5h0M1336.9 505.5h0M635.1 505.6h0M544.1 505.6h0M592.1 505.6h0M579.6 505.6h0M930.5 506h0M745.4 506h0M824.2 506h0M564.5 506h0M1019.9 506.1h0M1026.1 506.1h0M463.6 506.2h0M847.2 506.3h0M577.1 506.3h0M1006.6 506.3h0M512 506.5h0M992 506.5h0M587.3 506.6h0M538.3 506.6h0M955.9 506.7h0M444.5 506.7h0M601.9 506.8h0M1184.4 506.8h0M699.7 506.8h0M673.4 506.8h0M746.1 506.9h0M911.6 507h0M521 507h0M575.1 507.1h0M505.8 507.2h0M711.2 507.2h0M704 507.3h0M1312.9 507.3h0M1317 507.5h0M1138.5 507.6h0M1422.8 507.7h0M658.8 507.7h0M919.2 507.7h0M381.3 507.8h0M538.4 507.8h0M622 507.8h0M623.2 507.9h0M1138.1 507.9h0M899.3 508h0M519.3 508h0M514.6 508.1h0M1193 508.1h0M899.3 508.1h0M437.1 508.2h0M720.2 508.3h0M1023.1 508.3h0M909.8 508.4h0M945.6 508.7h0M975.1 508.8h0M487.7 508.9h0M503.3 508.9h0M660.2 509h0M740.6 509h0M503.7 509.1h0M642.7 509.1h0M613.2 509.2h0M814.1 509.2h0M521.6 509.3h0M773.5 509.3h0M1039.1 509.3h0M544.2 509.3h0M476.8 509.4h0M825.4 509.5h0M909.8 509.6h0M1130.2 509.9h0M770.4 510.1h0M861.7 510.3h0M852 510.4h0M369.9 510.4h0M975.9 510.5h0M784.4 510.6h0M977.8 510.6h0M593.6 510.9h0M970.7 510.9h0M1213.1 510.9h0M815.7 511h0M744.8 511h0M717.7 511.1h0M620.2 511.3h0M712.4 511.3h0M1115.2 511.4h0M853.9 511.5h0M437.4 511.5h0M888.1 511.5h0M494.7 511.5h0M948.3 511.6h0M507.7 511.6h0M1213.2 511.6h0M759.1 511.6h0M448.3 511.6h0M892.4 511.7h0M643.2 511.7h0M614.5 511.8h0M693.3 511.9h0M756.8 511.9h0M430.3 512h0M1013 512h0M1343.3 512h0M580.8 512h0M739.3 512.1h0M586.7 512.1h0M816.3 512.1h0M769.4 512.1h0M836.6 512.1h0M899.9 512.1h0M841 512.2h0M812.3 512.3h0M508.5 512.4h0M954.8 512.4h0M797.1 512.4h0M614.6 512.5h0M660.4 512.6h0M673.3 512.6h0M1179.6 512.6h0M1192.9 512.6h0M492.8 512.7h0M659.4 512.8h0M435.9 512.9h0M1084.5 512.9h0M620.8 513h0M758.3 513h0M631.9 513h0M961.2 513.1h0M1230.8 513.1h0M351.2 513.1h0M378.7 513.1h0M395.2 513.1h0M907.7 513.2h0M1034.9 513.2h0M978.7 513.6h0M659.2 513.7h0M662.9 513.7h0M908.8 513.9h0M702.6 513.9h0M740.2 513.9h0M781 514h0M1002 514h0M1030.2 514.2h0M986.6 514.2h0M1139.2 514.3h0M887.5 514.3h0M592.8 514.4h0M940.2 514.8h0M906.1 514.8h0M795.6 514.9h0M846.1 515.1h0M670.6 515.2h0M706.9 515.2h0M462.7 515.4h0M440.4 515.5h0M468.2 515.6h0M1305.6 515.7h0M1071.1 515.7h0M680.5 515.7h0M1004.2 515.8h0M1011.2 516h0M1197.2 516h0M746 516.1h0M800.2 516.1h0M504.9 516.1h0M682.7 516.1h0M825.1 516.2h0M944.7 516.2h0M790.4 516.3h0M470.9 516.3h0M946.9 516.3h0M735.6 516.3h0M726.8 516.4h0M546.6 516.5h0M704.6 516.6h0M847.6 516.7h0M582 516.7h0M841.9 516.7h0M644.2 516.8h0M517.8 516.8h0M520.7 516.9h0M534.1 516.9h0M1134.4 516.9h0M772.9 517h0M520 517.3h0M905.9 517.4h0M497.5 517.4h0M547.2 517.5h0M745.6 517.5h0M744.7 517.7h0M692.4 517.7h0M824.3 517.7h0M436.2 517.8h0M1240.8 517.8h0M783.1 517.8h0M1180.6 517.9h0M726.5 518.1h0M695 518.1h0M416.5 518.2h0M1038.6 518.3h0M1032.7 518.4h0M1338 518.4h0M844.7 518.4h0M817.1 518.4h0M295.3 518.4h0M387.2 518.4h0M1040.9 518.5h0M557.5 518.6h0M483.7 518.6h0M709.1 518.8h0M492.4 518.8h0M818.2 518.9h0M717.2 519.1h0M597.6 519.2h0M664.9 519.3h0M575.1 519.3h0M893.2 519.3h0M675.3 519.3h0M1092.4 519.3h0M540.1 519.4h0M1085.5 519.5h0M649.2 519.5h0M1122.2 519.6h0M1177.1 519.8h0M862.8 519.8h0M550 519.8h0M874.9 519.9h0M665.3 519.9h0M1100.9 520h0M629.8 520.2h0M800.8 520.2h0M426.3 520.3h0" stroke="#0000ff" stroke-width="8.40" stroke-linecap="round" fill="none"/>
<path d="M970 520.3h0M737.5 520.3h0M853.1 520.3h0M590.3 520.4h0M551.3 520.4h0M847.6 520.5h0M521.6 520.6h0M1169.6 520.6h0M1322.2 521h0M538.8 521.1h0M1364.6 521.1h0M981.4 521.1h0M777.2 521.2h0M1006.1 521.2h0M1021.1 521.3h0M938.6 521.3h0M607 521.3h0M828.6 521.4h0M1265.9 521.4h0M756.2 521.4h0M887.6 521.5h0M781.1 521.5h0M632.8 521.6h0M745.8 521.6h0M320.6 521.6h0M1340.4 521.7h0M580.7 521.7h0M1024.7 521.8h0M632.5 521.9h0M991.3 521.9h0M611.1 522h0M739 522h0M1113.6 522.1h0M771.8 522.1h0M911.2 522.1h0M1144.9 522.1h0M845.4 522.3h0M933.6 522.3h0M827.5 522.4h0M516.9 522.4h0M1153.2 522.5h0M1023.3 522.6h0M458.3 522.6h0M728.5 522.7h0M868 522.8h0M829.6 522.8h0M623.6 522.8h0M808.7 522.8h0M601 522.9h0M792.3 522.9h0M742.4 522.9h0M919.8 523h0M603.6 523.1h0M883.9 523.4h0M1039.6 523.6h0M824.2 523.7h0M726.8 523.7h0M1023.3 523.7h0M958.4 523.7h0M1047.4 523.7h0M849.5 523.8h0M1167.6 523.9h0M721.4 523.9h0M1002.1 524h0M503.6 524.1h0M1030 524.2h0M636 524.2h0M753 524.2h0M614.4 524.3h0M441.6 524.3h0M337.1 524.3h0M1037.9 524.4h0M1023.5 524.5h0M511.7 524.5h0M536.6 524.6h0M874.5 524.9h0M664.5 524.9h0M640.1 525h0M1319.8 525.1h0M574.5 525.2h0M1051.6 525.3h0M881.2 525.3h0M630 525.5h0M642.6 525.5h0M720.5 525.6h0M945.6 525.7h0M938.5 525.7h0M809.8 525.8h0M907.8 526h0M1178 526h0M792.6 526h0M545.6 526.3h0M522.3 526.4h0M874 526.5h0M731 526.5h0M826.6 526.6h0M1062.5 526.6h0M658.6 526.7h0M575.5 526.7h0M730.9 526.8h0M1181.6 526.8h0M1007.3 527h0M1591.4 527h0M325.9 527h0M626.2 527h0M491.9 527h0M653.4 527h0M950.3 527.1h0M1054.8 527.1h0M859.9 527.3h0M935.2 527.4h0M470.1 527.4h0M862 527.4h0M777.4 527.5h0M639.7 527.6h0M949.3 527.6h0M818 527.7h0M811.8 527.7h0M445.8 527.8h0M1102.1 528h0M667.3 528.1h0M522.5 528.2h0M734.2 528.3h0M837.1 528.3h0M1062 528.3h0M1001.4 528.4h0M524.4 528.5h0M724.9 528.6h0M1041.2 528.7h0M792.5 528.7h0M749.2 528.8h0M769.5 528.8h0M929.9 528.9h0M945 529h0M982 529h0M1155.4 529.1h0M649 529.1h0M825.5 529.3h0M702.1 529.3h0M951.2 529.4h0M720.8 529.5h0M361.9 529.6h0M655.9 529.6h0M1138.6 529.7h0M889.6 529.7h0M748.3 529.9h0M1203.6 530.1h0M1258.9 530.3h0M531.2 530.5h0M1066.7 530.5h0M735 530.6h0M973.8 530.7h0M648.3 530.8h0M779.2 530.9h0M472.5 530.9h0M1033.8 531.2h0M676.4 531.3h0M773.7 531.4h0M527.7 531.5h0M718.3 531.5h0M1283.5 531.6h0M738.1 531.7h0M437.2 531.8h0M839.5 531.9h0M859.5 532h0M724.4 532h0M1141.7 532.1h0M819.9 532.2h0M598.1 532.2h0M542.6 532.2h0M1546.8 532.3h0M1302.8 532.3h0M359.2 532.3h0M392.5 532.3h0M1110.5 532.3h0M687.6 532.5h0M522.8 532.5h0M463.8 532.5h0M746.7 532.5h0M736.1 532.5h0M486.6 532.5h0M467.5 532.6h0M705.1 532.6h0M1030.1 532.6h0M944.4 532.7h0M703.1 532.7h0M1258.1 532.8h0M507.8 532.9h0M741.5 532.9h0M666.4 533h0M818.8 533.1h0M1205.9 533.1h0M730.8 533.2h0M465.1 533.2h0M854.5 533.2h0M860.3 533.3h0M795.8 533.4h0M645.6 533.4h0M756.3 533.5h0M580.1 533.5h0M513.5 533.5h0M1282.2 533.7h0M752.7 533.7h0M892 533.8h0M830.4 533.8h0M642.4 533.9h0M657.7 533.9h0M595.9 534h0M514 534.1h0M844.5 534.1h0M1167.2 534.2h0M852.7 534.3h0M776.8 534.3h0M950.1 534.5h0M761.7 534.5h0M1029.1 534.5h0M1080.4 534.6h0M960.7 534.7h0M498.1 534.8h0M597 534.9h0M314.7 535h0M337.1 535h0M386.7 535h0M1035.1 535h0M677.8 535.1h0M1246.5 535.1h0M951.4 535.1h0M921.2 535.3h0M690.1 535.4h0M736.5 535.6h0M713.2 535.6h0M680.3 535.6h0M716.6 535.6h0M1125.2 535.7h0M591.2 536h0M456.4 536h0M424.3 536h0M483 536.1h0M891.6 536.1h0M860.9 536.2h0M654.4 536.2h0M1044.6 536.3h0M561.8 536.3h0M646.4 536.3h0M961.5 536.5h0M745.1 536.5h0M966.2 536.5h0M469.1 536.6h0M520.7 536.6h0M1103.2 536.6h0M518 536.8h0M642.6 536.9h0M785 536.9h0M929.1 537.3h0M909.4 537.3h0M797.8 537.5h0M701.7 537.5h0M1244 537.5h0M584.4 537.8h0M584.3 537.8h0M600.5 537.8h0M524.3 537.8h0M1104.9 537.9h0M565.3 538h0M544.4 538.1h0M939.5 538.2h0M813.5 538.2h0M738.2 538.2h0M1036.9 538.2h0M471.7 538.3h0M723.1 538.3h0M708.1 538.3h0M931.4 538.5h0M796 538.6h0M704.3 538.7h0M505.2 538.8h0M665.2 538.8h0M858.2 538.9h0M580.5 539h0M577.7 539.2h0M566 539.2h0M674.2 539.3h0M1029.8 539.3h0M464.5 539.4h0M539.3 539.6h0M1113.7 539.6h0M758 539.8h0M523.5 539.8h0M813.6 539.9h0M696.1 539.9h0M924.1 540h0M1053 540.1h0M1034.9 540.2h0M569.9 540.3h0M339.8 540.3h0M1140.4 540.3h0M1318.1 540.3h0M565.2 540.4h0M806.5 540.4h0M770 540.5h0M591.9 540.5h0M1031.9 540.6h0M682.9 540.7h0M504.2 540.8h0M682.9 540.9h0M1241.3 541h0M888.2 541.1h0M500.1 541.1h0M580.5 541.3h0M1015.4 541.4h0M686 541.4h0M645 541.5h0M974.7 541.5h0M1270.5 541.5h0M626.7 541.6h0M463.8 541.7h0M541.6 541.7h0M760.8 541.8h0M733.5 541.9h0M1017.5 541.9h0M826 541.9h0M734.2 542h0M483.2 542.1h0M1257.2 542.1h0M601.9 542.1h0M575.7 542.2h0M811.9 542.3h0M989.4 542.3h0M467 542.5h0M839.4 542.7h0M673.4 542.9h0M859.2 542.9h0M446.6 542.9h0M842.9 542.9h0M579.3 543h0M791.5 543.1h0M673.3 543.1h0M448.1 543.2h0M561.9 543.2h0M931.6 543.5h0M1295 543.6h0M613.6 543.7h0M436.2 543.8h0M395.2 543.8h0M548.6 543.8h0M741.9 543.9h0M783.8 543.9h0M627.6 544h0M561.6 544.1h0M800 544.1h0M948.6 544.2h0M675.6 544.3h0M879.4 544.3h0M544.5 544.3h0M594.2 544.7h0M566.1 544.8h0M761.4 544.8h0M1088.2 544.8h0M728.6 544.9h0M1286.3 544.9h0M1043.3 544.9h0M825.9 544.9h0M500.3 545h0M646.1 545.1h0M593.4 545.1h0M974.2 545.1h0M811.2 545.3h0M715.8 545.6h0M262.5 545.6h0M397.9 545.6h0M931 545.7h0M564.5 545.7h0M801.1 545.8h0M784.2 545.9h0M568.9 545.9h0M1131.3 546h0M809.8 546h0M562 546h0M915.4 546.1h0M637.7 546.2h0M944.1 546.2h0M1256.2 546.5h0M761.6 546.6h0M528.1 546.6h0M1019 546.6h0M854.7 546.7h0M715.3 546.7h0M1198 546.8h0M1019.6 546.8h0M798.1 546.8h0M718.8 546.9h0M481.9 547h0M970.9 547h0M649.8 547h0M651.6 547.2h0M665.2 547.3h0M629.5 547.3h0M783.8 547.4h0M1271.1 547.4h0M833 547.5h0" stroke="#0000ff" stroke-width="8.40" stroke-linecap="round" fill="none"/>
<path d="M1279.9 547.5h0M801.1 547.5h0M1058.2 547.6h0M1152.4 547.8h0M559.3 547.8h0M872.7 548h0M741.7 548.1h0M1060.2 548.2h0M852.4 548.3h0M1261.9 548.4h0M845.9 548.5h0M778.6 548.5h0M761.6 548.6h0M697.4 548.7h0M876.6 548.7h0M794.5 548.7h0M1228.8 548.8h0M564.5 548.8h0M750.7 548.8h0M873.9 548.8h0M675.6 548.9h0M823.1 549h0M777.3 549h0M644.9 549.3h0M743.9 549.5h0M1085.1 549.6h0M553.1 549.6h0M988.4 549.8h0M803.5 549.9h0M788 549.9h0M505.5 550h0M1082.8 550h0M570.9 550.1h0M823.5 550.4h0M1060.7 550.5h0M812.4 550.6h0M627.3 550.6h0M837.7 550.6h0M803 550.7h0M627.2 550.7h0M783.3 550.7h0M539.2 550.8h0M1114.3 550.9h0M499.8 551h0M935.7 551h0M581.8 551.2h0M625.3 551.3h0M855.6 551.3h0M808 551.3h0M466.3 551.4h0M724 551.4h0M451 551.5h0M779.3 551.6h0M846.7 551.7h0M624.5 551.7h0M753.2 551.9h0M1344 551.9h0M1222.2 551.9h0M805.2 551.9h0M523.5 552h0M1314.5 552.1h0M563.7 552.1h0M1064 552.2h0M1000.7 552.2h0M754.6 552.3h0M554.5 552.4h0M584.5 552.4h0M978.7 552.4h0M569.5 552.5h0M782.6 552.5h0M460 552.6h0M812.8 552.7h0M566.3 552.7h0M700.2 552.7h0M553.8 552.7h0M705 552.8h0M565.4 552.8h0M1037.3 552.9h0M583 552.9h0M687.5 553h0M1274.4 553.1h0M896.8 553.3h0M459.6 553.4h0M693.8 553.4h0M826.9 553.4h0M805 553.5h0M474.1 553.5h0M709 553.6h0M695.6 553.8h0M629.4 553.8h0M1019.9 553.9h0M665.3 554.2h0M425.4 554.3h0M1025.3 554.4h0M1354.1 554.4h0M1447.6 554.4h0M356.6 554.4h0M405.9 554.4h0M470.5 554.5h0M552.8 554.6h0M1251.4 554.7h0M557.4 554.9h0M656.5 554.9h0M1090.2 555h0M521.7 555h0M525.2 555.1h0M673.3 555.1h0M637.7 555.1h0M429.1 555.2h0M762.1 555.3h0M511.6 555.4h0M746.6 555.4h0M475.6 555.4h0M1086.7 555.4h0M907 555.5h0M1278 555.5h0M642.1 555.5h0M881.4 555.6h0M926.6 555.7h0M699.5 555.7h0M621.2 555.8h0M648.3 555.8h0M484.4 555.8h0M785.7 555.9h0M612.5 556.1h0M751.5 556.2h0M567.9 556.3h0M562 556.3h0M869 556.4h0M535.1 556.5h0M593.5 556.7h0M793 556.7h0M521.1 556.8h0M589.2 557h0M696.7 557.1h0M454.4 557.2h0M470.9 557.2h0M654.7 557.5h0M791.5 557.5h0M442.3 557.6h0M566.7 557.7h0M992.5 557.8h0M610.1 557.9h0M788 558h0M1071.7 558.1h0M488.6 558.1h0M518.1 558.1h0M686.3 558.2h0M512.4 558.2h0M356.6 558.4h0M1100.9 558.5h0M517.7 558.6h0M1067.3 558.6h0M453.1 558.8h0M641.3 558.8h0M417.3 558.9h0M517.4 559h0M722.5 559h0M757.1 559h0M683.8 559h0M503.3 559.2h0M931.8 559.2h0M873.5 559.2h0M559.1 559.4h0M941.7 559.4h0M524 559.5h0M1002.8 559.5h0M490.4 559.6h0M753.3 559.7h0M778.8 559.7h0M403.2 559.8h0M501.8 559.8h0M473.7 559.8h0M645 559.9h0M1147.2 559.9h0M975.8 560h0M799.2 560.1h0M463.1 560.1h0M1225.8 560.2h0M450.7 560.3h0M969.3 560.3h0M918.5 560.4h0M527.1 560.5h0M484.2 560.5h0M738.1 560.8h0M941.4 560.9h0M735.1 560.9h0M556.2 561h0M522.4 561.1h0M653.8 561.1h0M772.8 561.1h0M475 561.2h0M450.8 561.3h0M488.5 561.4h0M886.7 561.4h0M897.9 561.5h0M869.3 561.7h0M980.5 561.7h0M448.1 561.7h0M906.2 561.7h0M651.7 561.7h0M1086.7 561.7h0M671 561.8h0M670.4 561.8h0M436.3 561.9h0M893.3 561.9h0M593.6 561.9h0M582.8 561.9h0M778.5 562h0M535.4 562.1h0M1086.7 562.1h0M651.1 562.2h0M592.3 562.3h0M1131.7 562.4h0M563.7 562.4h0M303.3 562.4h0M331.2 562.4h0M1069.7 562.5h0M841.3 562.6h0M737.2 562.7h0M668.4 562.8h0M581.3 562.9h0M661 562.9h0M672.7 563h0M968.3 563h0M959 563.1h0M811.7 563.1h0M711.6 563.1h0M1192.4 563.3h0M670 563.4h0M527.3 563.5h0M523.6 563.5h0M597.7 563.6h0M480.6 563.6h0M443.7 563.6h0M459.3 563.7h0M534.4 563.8h0M609.5 563.8h0M967.2 563.9h0M602.4 564h0M1262.7 564.1h0M1121.5 564.1h0M535.6 564.2h0M502.6 564.2h0M572.7 564.3h0M569.5 564.3h0M617.7 564.3h0M532.6 564.3h0M649 564.4h0M872.1 564.4h0M539.2 564.4h0M1086.5 564.6h0M790.6 564.6h0M593 564.9h0M942.5 565h0M1210.5 565h0M684.8 565h0M897.6 565.1h0M811.3 565.3h0M506.2 565.3h0M551.6 565.4h0M904 565.4h0M432.7 565.4h0M1254 565.4h0M688.8 565.6h0M589 565.6h0M447.7 565.7h0M714.6 565.7h0M473.8 565.9h0M297.9 565.9h0M826.8 565.9h0M848.2 565.9h0M490.6 566.3h0M328.6 566.4h0M361.9 566.4h0M543.5 566.6h0M806.7 566.6h0M916.1 566.6h0M1072.6 566.7h0M1210.1 566.8h0M563 567h0M565.4 567.1h0M691 567.1h0M517.7 567.1h0M488.5 567.2h0M1058.7 567.3h0M437.8 567.4h0M674.2 567.4h0M552.9 567.4h0M528.8 567.5h0M555.9 567.6h0M530 567.6h0M438.7 567.8h0M436.1 567.9h0M520.3 567.9h0M1345.6 568h0M720.1 568h0M613.6 568.1h0M594.5 568.1h0M895.5 568.1h0M848.4 568.3h0M1201.6 568.3h0M530.1 568.4h0M650.1 568.4h0M766.4 568.4h0M602.7 568.4h0M369.9 568.6h0M854.7 568.6h0M464.1 568.6h0M1028.5 568.6h0M829.2 568.6h0M758.6 568.6h0M569 568.7h0M658.8 568.8h0M713.9 568.8h0M987.8 568.9h0M551 569h0M884.2 569.1h0M431.4 569.1h0M499.7 569.2h0M536.3 569.4h0M621.7 569.5h0M1054.7 569.5h0M694 569.7h0M551.1 569.7h0M769.4 569.7h0M1152.4 569.8h0M579.2 569.8h0M1078 569.9h0M781.5 569.9h0M562 569.9h0M584.9 570.1h0M657.6 570.1h0M644.8 570.2h0M589.7 570.3h0M1279.7 570.4h0M615.4 570.4h0M721 570.5h0M480.6 570.6h0M1150.3 570.7h0M530.8 570.7h0M530.9 570.8h0M801.6 570.8h0M1218.3 570.9h0M470.2 570.9h0M634.2 570.9h0M843.7 571.1h0M861.4 571.2h0M1021.1 571.2h0M306.7 571.2h0M461.6 571.4h0M491.9 571.4h0M720.7 571.5h0M527.8 571.6h0M639.2 571.7h0M674.5 571.7h0M468.5 572h0M774.7 572h0M945.4 572.1h0M751.2 572.2h0M645.5 572.2h0M579.9 572.2h0M650.1 572.2h0M647.2 572.3h0M813.6 572.3h0M710.9 572.4h0M661.2 572.4h0M471.4 572.4h0M657.9 572.4h0M720.4 572.5h0M590.6 572.6h0M549.3 572.7h0M785.8 572.9h0M514.4 573.1h0M972.2 573.1h0M478 573.2h0M577.3 573.5h0M1218.2 573.6h0M1013.4 573.6h0M906.5 573.6h0M943.5 573.6h0M1011 573.7h0M853.4 573.9h0M562.7 574h0M670.2 574h0M714.4 574.1h0M964 574.1h0M503.6 574.3h0M524.6 574.3h0M328.6 574.4h0M395.2 574.4h0M517.7 574.4h0M628.2 574.4h0M586 574.5h0M683.1 574.5h0M1212.7 574.7h0M768.5 574.7h0M553.8 574.7h0M560.3 574.9h0M1257.2 575.2h0" stroke="#0000ff" stroke-width="8.40" stroke-linecap="round" fill="none"/>
<path d="M652.4 575.3h0M548.6 575.3h0M720.2 575.3h0M581.2 575.4h0M484.6 575.6h0M707.4 575.6h0M913.9 575.6h0M1084.6 575.6h0M524.9 575.7h0M706.3 576h0M523.2 576.2h0M485 576.2h0M676.5 576.3h0M703.9 576.3h0M611.8 576.3h0M541.4 576.4h0M677.7 576.4h0M505.8 576.6h0M689.3 576.6h0M772.4 576.6h0M640.3 576.6h0M642 576.6h0M987.8 576.7h0M687.6 576.7h0M790.8 576.9h0M610.8 576.9h0M482.2 577h0M821.6 577h0M894.8 577h0M314.7 577.1h0M904.4 577.1h0M563.3 577.2h0M742.3 577.2h0M652.7 577.4h0M673.8 577.5h0M600 577.5h0M473.5 577.6h0M744 577.6h0M508.7 577.6h0M545.4 577.6h0M505.4 577.8h0M864.4 577.8h0M764.3 577.8h0M726.1 577.9h0M727 577.9h0M689.8 577.9h0M559.9 578h0M445.5 578h0M601 578.1h0M798.1 578.1h0M754.9 578.3h0M903.1 578.3h0M544.7 578.4h0M557.6 578.4h0M833.6 578.4h0M644.9 578.4h0M729.9 578.5h0M787.2 578.6h0M533.1 578.7h0M666 578.8h0M498.7 578.9h0M944 579h0M842.6 579h0M1256.6 579.2h0M657.9 579.3h0M485.3 579.4h0M799.2 579.4h0M894.2 579.4h0M492.2 579.5h0M378.7 579.7h0M1108.3 579.8h0M986.1 579.8h0M517.1 580h0M547.9 580h0M486.2 580h0M642.5 580h0M595.4 580.1h0M727.1 580.2h0M708.8 580.2h0M1081.9 580.3h0M666.1 580.3h0M962.6 580.3h0M475 580.3h0M669.3 580.4h0M601.3 580.5h0M512.4 580.6h0M459.4 580.6h0M484.7 580.7h0M469 580.7h0M556.3 580.7h0M1141.9 580.9h0M479.9 580.9h0M449.4 581h0M684.9 581.1h0M499.5 581.1h0M964.1 581.1h0M756.6 581.2h0M506.9 581.2h0M762.4 581.3h0M677.6 581.4h0M610.3 581.5h0M560.5 581.7h0M788.3 581.7h0M920.6 581.7h0M569.2 581.8h0M549.1 581.8h0M852.1 581.8h0M655.4 581.8h0M687.2 581.9h0M879.6 581.9h0M614 582.1h0M434.1 582.2h0M575.8 582.3h0M822.9 582.3h0M1030 582.3h0M653.1 582.3h0M544.8 582.4h0M314.7 582.4h0M331.2 582.4h0M339.8 582.4h0M389.3 582.4h0M611.2 582.4h0M703.3 582.5h0M772 582.6h0M865 582.6h0M755.7 582.6h0M863.8 582.7h0M624.5 582.8h0M642.7 582.8h0M743.4 583.1h0M798.1 583.2h0M555.2 583.3h0M1043.1 583.3h0M560.3 583.4h0M495.5 583.5h0M499.1 583.5h0M805.1 583.6h0M677.8 583.6h0M653.9 583.6h0M827.8 583.7h0M704.3 583.9h0M678.5 583.9h0M746 584h0M645.1 584h0M484.5 584.1h0M590.2 584.2h0M1171.1 584.2h0M506.9 584.3h0M633.4 584.3h0M663.5 584.5h0M572.8 584.5h0M1235.3 584.5h0M1276.3 584.5h0M1309.4 584.5h0M1328.6 584.5h0M829.1 584.8h0M871.3 584.9h0M863.6 584.9h0M786.9 585h0M663.9 585h0M669.8 585.1h0M301.4 585.1h0M356.6 585.1h0M361.9 585.1h0M599.1 585.1h0M816.8 585.1h0M679.5 585.2h0M476.4 585.4h0M811.5 585.4h0M637.5 585.5h0M472.8 585.5h0M1057.2 585.6h0M640.2 585.6h0M947.7 585.6h0M872.8 585.7h0M1094.4 585.7h0M485.7 585.9h0M817.8 586h0M771 586.1h0M988.3 586.2h0M663.1 586.2h0M450.2 586.3h0M1153.6 586.3h0M710.6 586.3h0M957.5 586.3h0M1157.8 586.4h0M806.3 586.5h0M696.2 586.6h0M728.4 586.8h0M493.6 586.9h0M487 586.9h0M1164.1 586.9h0M627.3 587.1h0M531.5 587.2h0M684.4 587.2h0M1110.5 587.3h0M692 587.3h0M701.8 587.3h0M882.9 588.1h0M493.8 588.3h0M1169.3 588.3h0M582.6 588.3h0M637.8 588.4h0M689.5 588.4h0M715.6 588.4h0M624.1 588.4h0M621.9 588.4h0M733.9 588.5h0M537.2 588.6h0M545.1 588.7h0M565.6 588.8h0M640.2 588.9h0M664 588.9h0M792.9 589h0M837.5 589h0M707.7 589.1h0M477.1 589.2h0M610.4 589.2h0M1129.9 589.2h0M1120.1 589.3h0M721.8 589.4h0M567.7 589.5h0M946.2 589.7h0M877.9 589.7h0M830.7 589.8h0M457.7 589.8h0M971.5 590h0M485.2 590.1h0M668.4 590.1h0M491.4 590.2h0M606.7 590.2h0M522.9 590.2h0M568.4 590.2h0M701.4 590.2h0M500.8 590.2h0M640.6 590.2h0M1549.7 590.2h0M533 590.3h0M325.9 590.4h0M405.9 590.4h0M793 590.4h0M1071.5 590.5h0M598 590.6h0M729 590.8h0M1049.1 590.8h0M640.6 590.9h0M753.5 590.9h0M594.9 591h0M576.5 591.1h0M687.9 591.2h0M781.1 591.3h0M896.4 591.4h0M843.2 591.4h0M1151.6 591.4h0M535.5 591.4h0M677.3 591.4h0M886.9 591.6h0M565.9 591.6h0M784.9 591.6h0M671.4 591.7h0M522.6 591.8h0M478.8 591.9h0M585.1 591.9h0M781.1 592h0M641.6 592h0M660.4 592h0M498.1 592.1h0M606.4 592.1h0M792 592.5h0M643.6 592.6h0M707.8 592.6h0M868.3 592.7h0M690.4 592.8h0M794.7 592.9h0M545.3 592.9h0M921.2 593h0M1261.9 593h0M276.6 593.1h0M351.2 593.1h0M397.9 593.1h0M837 593.2h0M776.7 593.2h0M530.2 593.3h0M665.6 593.4h0M758.3 593.5h0M1053.7 593.7h0M516.8 593.8h0M715.7 593.8h0M529.7 593.8h0M548.3 593.9h0M689.7 593.9h0M539.5 594.1h0M978.3 594.1h0M464 594.2h0M598.5 594.3h0M502.9 594.4h0M698.4 594.4h0M527.3 594.5h0M531 594.5h0M799.3 594.7h0M600.3 594.8h0M722.7 594.8h0M781.2 594.9h0M731.9 595.1h0M753.5 595.2h0M743.4 595.2h0M467.1 595.2h0M778.9 595.3h0M501.7 595.4h0M673.3 595.5h0M515.3 595.5h0M574.6 595.6h0M573.9 595.8h0M734.1 595.9h0M898.8 595.9h0M719.9 596h0M613.2 596.1h0M596.7 596.1h0M262.5 596.3h0M986.4 596.3h0M620 596.4h0M836.1 596.5h0M649.6 596.5h0M702.2 596.6h0M457.3 596.6h0M459.5 596.7h0M820.5 596.7h0M482.6 596.7h0M756.8 596.7h0M819.8 596.8h0M531.2 597.1h0M718.1 597.1h0M702.4 597.1h0M468.7 597.2h0M765.9 597.2h0M791 597.2h0M1137.2 597.3h0M510.9 597.3h0M576.3 597.3h0M674 597.4h0M627.4 597.5h0M868 597.7h0M809.2 597.8h0M690.3 597.8h0M440.7 597.8h0M586.9 597.8h0M443.1 597.9h0M519 597.9h0M709.9 598.2h0M465.8 598.3h0M1256.6 598.4h0M284.6 598.4h0M320.6 598.4h0M337.1 598.4h0M563.1 598.5h0M609.6 598.6h0M768.7 598.7h0M745.9 598.8h0M695.4 598.8h0M866.6 598.9h0M855.9 598.9h0M817.8 599h0M590.7 599.1h0M928.9 599.3h0M661.7 599.4h0M706.3 599.5h0M297.9 599.7h0M631.7 599.7h0M716.9 599.8h0M1033.2 599.8h0M628.9 599.9h0M1004.2 600h0M779.2 600.1h0M501.8 600.2h0M730.5 600.2h0M453.9 600.4h0M471.7 600.4h0M495 600.5h0M624.4 600.5h0M541.6 600.6h0M545 600.7h0M643.2 600.7h0M520.6 600.7h0M833.6 600.8h0M542.9 600.8h0M944.3 600.9h0M529.6 600.9h0M669.1 600.9h0M383 601h0M1024.3 601h0M739.6 601.1h0M406.6 601.1h0M421.8 601.2h0M979.2 601.4h0M357.3 601.4h0M547.4 601.4h0M648.9 601.6h0M443.3 601.6h0M761 601.7h0M902.2 601.8h0" stroke="#0000ff" stroke-width="8.40" stroke-linecap="round" fill="none"/>
<path d="M338.6 602h0M794.8 602.1h0M967 602.3h0M453.8 602.3h0M803.6 602.3h0M528.4 602.4h0M774.6 602.4h0M755.4 602.5h0M793 602.6h0M537.4 602.7h0M806.7 602.7h0M1093.3 602.7h0M620.9 602.7h0M523.3 602.8h0M297 602.9h0M1123.8 602.9h0M496.9 602.9h0M810.6 603h0M599.1 603h0M373.8 603h0M584.2 603.2h0M513.9 603.3h0M569.1 603.4h0M346.2 603.4h0M576 603.5h0M691.7 603.5h0M583.4 603.5h0M701 603.5h0M447.8 603.5h0M584.7 603.6h0M738 603.6h0M443.6 603.6h0M1225.7 603.7h0M808.3 603.7h0M312.8 603.8h0M506 603.8h0M488.4 603.9h0M497.4 603.9h0M475.6 604h0M713.7 604.1h0M359.4 604.2h0M1455.7 604.2h0M352.5 604.4h0M585.8 604.5h0M607 604.6h0M825.5 604.6h0M642.7 604.6h0M436.2 604.9h0M340.9 604.9h0M404.9 605h0M729.3 605h0M677.8 605h0M664.7 605.2h0M438.2 605.2h0M583.7 605.2h0M690.8 605.4h0M523.4 605.4h0M656.4 605.4h0M782 605.7h0M451.1 605.8h0M843.9 605.8h0M521.5 605.9h0M731.9 605.9h0M1006.2 606h0M721.2 606h0M539.2 606.2h0M656.9 606.3h0M811 606.3h0M732.1 606.3h0M720 606.3h0M400.9 606.4h0M550.9 606.5h0M543.3 606.6h0M970.3 606.6h0M486.5 606.8h0M279.5 606.8h0M528.7 606.8h0M1167.1 606.9h0M817.1 607.1h0M467.3 607.1h0M771 607.1h0M491.6 607.2h0M603 607.2h0M802.8 607.3h0M736.9 607.4h0M948.3 607.5h0M562.5 607.6h0M542.8 607.6h0M478.3 607.6h0M521.6 607.6h0M805.2 607.6h0M724.7 607.6h0M780.3 607.7h0M589.2 607.7h0M383.5 607.7h0M675.6 607.8h0M444.5 607.8h0M532.2 607.8h0M829.8 607.9h0M463.5 607.9h0M818.8 608h0M788.7 608h0M1002.5 608.1h0M818.7 608.1h0M368.8 608.2h0M374.3 608.2h0M454.8 608.2h0M1073.3 608.3h0M599.1 608.3h0M613.7 608.4h0M745 608.5h0M500.3 608.5h0M793.1 608.6h0M591.5 608.6h0M600.9 608.6h0M472.9 608.6h0M606.4 608.6h0M758.3 608.7h0M500.9 608.7h0M434.4 608.8h0M350.7 608.8h0M520.6 608.8h0M907.2 608.8h0M623.6 609h0M792.1 609.1h0M391.5 609.1h0M689.6 609.2h0M657.1 609.2h0M753.6 609.3h0M690.9 609.3h0M703 609.3h0M523.7 609.3h0M1073.1 609.3h0M362.6 609.3h0M573.2 609.6h0M647 609.7h0M1433.8 609.9h0M447.6 609.9h0M553.1 610h0M377.6 610.1h0M379.1 610.1h0M710 610.1h0M724.6 610.1h0M704.5 610.2h0M623.7 610.2h0M507.8 610.3h0M795.6 610.4h0M541.2 610.4h0M454.2 610.5h0M435.5 610.9h0M600.5 610.9h0M422.9 611h0M459.8 611h0M703.2 611h0M524.1 611.2h0M711.1 611.2h0M845.6 611.3h0M366.1 611.3h0M369 611.3h0M609.5 611.4h0M670.9 611.4h0M940.5 611.5h0M736.2 611.5h0M873.5 611.6h0M452.5 611.7h0M827.8 611.7h0M914.3 611.8h0M405.3 611.8h0M484.7 611.9h0M608 612h0M446.7 612.1h0M1132.4 612.2h0M1163.3 612.2h0M1190 612.2h0M540.7 612.2h0M520.1 612.4h0M894.1 612.5h0M335.2 612.5h0M331.9 612.6h0M394 612.7h0M613.5 612.7h0M613.9 612.7h0M541 612.8h0M511.1 612.8h0M762.4 612.8h0M435.6 612.9h0M815.3 612.9h0M615.7 613.1h0M277.5 613.1h0M856.4 613.2h0M470.5 613.2h0M480.3 613.2h0M517.1 613.3h0M823.6 613.3h0M604 613.3h0M450.3 613.4h0M772.7 613.4h0M678.1 613.5h0M303.1 613.5h0M540.8 613.6h0M469.8 613.7h0M637.5 614h0M630.8 614h0M284.8 614h0M461.9 614.2h0M810.6 614.2h0M385.3 614.2h0M777 614.3h0M393.3 614.3h0M781.2 614.4h0M295.2 614.4h0M668.5 614.5h0M597.3 614.7h0M395.2 614.8h0M809.2 614.9h0M543.2 615h0M737.2 615.1h0M973.8 615.2h0M366.1 615.2h0M545.3 615.2h0M301.1 615.4h0M634.1 615.5h0M570.4 615.5h0M822.8 615.6h0M445.9 615.6h0M740 615.7h0M602.1 615.8h0M252.7 615.8h0M972.4 615.8h0M477.3 615.9h0M827.3 615.9h0M634.8 615.9h0M356.7 616h0M639.5 616.2h0M862.2 616.2h0M518.9 616.4h0M851.3 616.5h0M641.1 616.5h0M606.7 616.5h0M751 616.6h0M802.2 616.7h0M260 616.8h0M462.4 616.9h0M506.3 616.9h0M614.7 617h0M837.4 617h0M558.3 617h0M719 617.1h0M620.9 617.1h0M479.1 617.1h0M867.2 617.1h0M900.4 617.2h0M473.7 617.2h0M846.9 617.2h0M564.3 617.4h0M451.7 617.5h0M561.9 617.5h0M1068 617.5h0M605.9 617.5h0M451.4 617.6h0M1331.2 617.6h0M417.7 617.6h0M805 617.7h0M710.4 617.7h0M704.3 617.8h0M713.7 617.8h0M527.6 617.9h0M341.7 617.9h0M587.7 618h0M855 618.3h0M679.8 618.4h0M414.4 618.5h0M446.1 618.7h0M279.2 618.8h0M761 618.8h0M636.5 618.8h0M384.6 618.9h0M357.7 618.9h0M1082 619h0M569 619h0M762.9 619h0M549 619h0M620.7 619.1h0M523.6 619.1h0M479.6 619.1h0M686.2 619.2h0M836.4 619.3h0M830.3 619.4h0M827.1 619.5h0M441 619.5h0M626.2 619.6h0M514.7 619.6h0M606.3 619.7h0M598.5 619.9h0M663.7 620.2h0M643 620.2h0M605.1 620.2h0M885.2 620.4h0M837 620.5h0M529.8 620.6h0M314.5 620.6h0M331.2 620.6h0M663.6 620.7h0M833.6 620.7h0M617.4 620.7h0M618 620.8h0M649 620.8h0M602.2 620.8h0M990.6 620.9h0M493.2 621h0M632.9 621h0M851.8 621.1h0M719.5 621.1h0M420.8 621.2h0M851.7 621.2h0M659 621.4h0M619.4 621.4h0M547.6 621.4h0M613.1 621.5h0M949.3 621.6h0M598.6 621.6h0M716.4 621.6h0M795.5 621.7h0M615.7 621.7h0M353.1 621.8h0M461.4 621.9h0M915.5 622h0M525 622.1h0M467.6 622.2h0M427.7 622.2h0M538.8 622.3h0M923.3 622.4h0M435.1 622.4h0M632.3 622.6h0M448.8 622.6h0M362.8 622.7h0M815.7 622.8h0M808 622.9h0M781.6 623h0M864.1 623h0M705.4 623.1h0M871.3 623.1h0M629 623.2h0M471.6 623.2h0M608.1 623.2h0M349.8 623.3h0M749.2 623.3h0M1073.8 623.4h0M1078 623.4h0M374.4 623.5h0M448.1 623.6h0M789.8 623.7h0M553.3 623.7h0M636.1 623.7h0M452.9 623.8h0M716.3 623.8h0M361.5 623.8h0M608.1 623.9h0M697.3 624.2h0M410.1 624.2h0M628.5 624.2h0M623.9 624.3h0M503.8 624.4h0M867.1 624.6h0M715.8 624.6h0M436.5 624.9h0M728.3 624.9h0M903 625.1h0M855.4 625.3h0M515.4 625.3h0M812 625.5h0M825.7 625.6h0M526.6 625.7h0M389.3 625.7h0M668.2 625.8h0M414.7 625.9h0M515.9 625.9h0M678.9 626h0M873.4 626.1h0M1129.7 626.1h0M609.5 626.1h0M592.6 626.1h0M698.9 626.2h0M692.5 626.3h0M754.1 626.3h0M994.2 626.4h0M855.7 626.4h0M805.5 626.5h0M496.7 626.7h0M554 626.8h0M309.7 627h0M434.7 627h0M599.6 627h0M970.3 627.1h0M780.5 627.1h0M565.9 627.4h0M367.5 627.5h0M399.9 627.5h0M420.6 627.6h0M649.7 627.6h0" stroke="#0000ff" stroke-width="8.40" stroke-linecap="round" fill="none"/>
<path d="M779.7 627.8h0M529.8 627.9h0M565.9 627.9h0M526.1 627.9h0M762.6 627.9h0M459.8 628h0M945.4 628.2h0M694.1 628.2h0M442.1 628.3h0M342.5 628.3h0M589.4 628.3h0M650.4 628.4h0M599.2 628.4h0M840.1 628.6h0M398.2 628.6h0M966.3 628.7h0M1112.7 628.8h0M913.9 628.8h0M418.9 629.3h0M417.2 629.3h0M719.8 629.4h0M636.6 629.6h0M991.2 629.8h0M611 629.9h0M593.7 629.9h0M507.7 630h0M774.2 630.1h0M534.8 630.2h0M517.8 630.2h0M666.2 630.4h0M574.5 630.4h0M648.7 630.5h0M886.4 630.6h0M632.2 630.6h0M600.9 630.6h0M631.5 631h0M772.5 631h0M617.3 631.1h0M959.4 631.1h0M449.2 631.1h0M472.9 631.2h0M495.8 631.3h0M652.8 631.3h0M607.6 631.4h0M799.3 631.5h0M563.1 631.6h0M722 631.6h0M473.6 631.7h0M1359.2 631.7h0M851.6 631.7h0M566.9 631.8h0M463.8 631.9h0M780.4 631.9h0M880.2 631.9h0M763.4 632h0M685.7 632.2h0M617 632.3h0M550.1 632.3h0M484.8 632.3h0M500.1 632.4h0M455.1 632.4h0M528.3 632.4h0M663.4 632.5h0M880.8 632.6h0M782 632.6h0M597 632.7h0M488.7 632.7h0M612.1 632.7h0M780.4 632.7h0M780.9 632.8h0M969.2 632.9h0M435.5 632.9h0M875.8 632.9h0M856.3 633.1h0M352.3 633.1h0M724.2 633.3h0M659.4 633.3h0M984.5 633.3h0M826.8 633.4h0M518.9 633.4h0M460.9 633.4h0M931 633.4h0M689.3 633.5h0M926.8 633.7h0M388.1 633.7h0M545.1 633.9h0M546.8 633.9h0M785.4 633.9h0M352.7 634h0M588 634.1h0M635.5 634.1h0M465.8 634.2h0M915.7 634.4h0M624.3 634.7h0M379.4 634.7h0M580.4 634.8h0M1002 634.8h0M688.4 634.8h0M588.7 634.9h0M910 634.9h0M542.5 634.9h0M541.6 635h0M539.2 635.3h0M772.1 635.3h0M464.7 635.5h0M840.6 635.8h0M434.1 635.9h0M360.5 636h0M307.7 636h0M514.9 636h0M560.2 636.2h0M510.7 636.2h0M653.4 636.2h0M765.6 636.2h0M535.8 636.3h0M451.9 636.4h0M728.7 636.4h0M765.1 636.5h0M510.4 636.5h0M782.3 636.6h0M803.3 636.7h0M775.2 636.7h0M777.8 636.8h0M369.1 636.8h0M516 636.9h0M407.2 636.9h0M592.6 637h0M798.7 637.1h0M839.1 637.1h0M622 637.2h0M368.3 637.2h0M719.4 637.2h0M433.5 637.3h0M763.6 637.3h0M775 637.5h0M718 637.5h0M498.1 637.6h0M780.9 637.7h0M555.2 637.7h0M972 638h0M822.3 638h0M584.9 638.1h0M436.7 638.1h0M926.4 638.1h0M834.6 638.2h0M630.8 638.4h0M657.1 638.4h0M617.5 638.4h0M447.4 638.4h0M659.4 638.4h0M718.4 638.7h0M983.9 638.7h0M765.9 638.7h0M935.2 638.8h0M640.3 638.8h0M512.5 638.8h0M399.6 638.9h0M798.3 638.9h0M865.7 639h0M853.9 639h0M585 639.2h0M457.5 639.3h0M621.4 639.4h0M295.2 639.4h0M621 639.4h0M475.9 639.5h0M533.1 639.6h0M277.4 639.6h0M534.5 639.6h0M648.2 639.7h0M430.7 639.7h0M692.4 639.7h0M286.7 639.7h0M724.2 639.8h0M286.9 639.8h0M486.6 639.9h0M996.5 640h0M1019.4 640h0M432.9 640.1h0M352.5 640.1h0M616.6 640.2h0M617.2 640.2h0M466.9 640.5h0M759.8 640.5h0M416.5 640.6h0M587.5 640.7h0M481.2 640.8h0M555.6 640.8h0M429.2 640.8h0M947.1 640.9h0M800 641h0M560.9 641.1h0M398 641.2h0M792.1 641.2h0M747.1 641.5h0M502.2 641.6h0M644.5 641.8h0M918.1 641.9h0M560.5 642h0M963.7 642.1h0M503.3 642.1h0M607.6 642.1h0M954.3 642.2h0M452.8 642.2h0M471.7 642.2h0M383.7 642.2h0M363 642.4h0M649.4 642.4h0M778.5 642.6h0M406.8 642.6h0M868.2 642.6h0M673.9 642.7h0M579.6 642.7h0M574.1 642.8h0M470.4 642.9h0M681.2 642.9h0M716 643h0M651 643.1h0M500 643.1h0M320.6 643.1h0M775.7 643.1h0M434.4 643.1h0M415.5 643.2h0M443.8 643.2h0M773.8 643.3h0M504.2 643.4h0M510.2 643.4h0M710.6 643.5h0M506.2 643.5h0M457.7 643.5h0M434.3 643.6h0M610.4 643.7h0M529 643.8h0M519.8 643.8h0M704.4 643.9h0M423.7 644h0M600.5 644.2h0M592.4 644.3h0M578 644.4h0M573.3 644.5h0M372.3 644.5h0M667.7 644.5h0M577.5 644.6h0M503.2 644.7h0M622.3 644.7h0M588.1 644.7h0M487.6 644.8h0M502.1 644.8h0M357.7 644.9h0M575.1 644.9h0M540.7 645h0M605.8 645.1h0M961.8 645.3h0M584.4 645.3h0M464.4 645.3h0M786.6 645.5h0M580.3 645.7h0M614.4 645.9h0M497.5 645.9h0M484.3 646h0M731.2 646h0M694.6 646.1h0M570.1 646.1h0M889.6 646.1h0M580.1 646.4h0M611.8 646.4h0M494.8 646.6h0M805.6 646.8h0M539.9 646.8h0M594.5 646.8h0M572 646.8h0M458.7 646.9h0M561.3 647h0M481.6 647.2h0M494.5 647.3h0M541.4 647.3h0M445.3 647.3h0M513 647.3h0M540.9 647.4h0M355.4 647.5h0M888.6 647.5h0M782.8 647.5h0M444.9 647.6h0M748.6 647.7h0M511.4 647.9h0M805.1 648h0M594.2 648.1h0M632.4 648.1h0M492.5 648.2h0M515.7 648.3h0M605.1 648.3h0M489.1 648.4h0M775.2 648.4h0M472.9 648.6h0M494 648.8h0M420.3 648.8h0M536.2 648.8h0M617.5 648.9h0M501.4 649h0M341.2 649.1h0M731.3 649.1h0M560.7 649.1h0M551.1 649.2h0M753 649.2h0M554.7 649.3h0M253.7 649.4h0M496.5 649.4h0M495.8 649.4h0M571.8 649.5h0M541.3 649.7h0M499 649.7h0M489.8 649.7h0M719.1 649.9h0M653.3 649.9h0M389.8 650.1h0M659.6 650.2h0M536.4 650.2h0M487.1 650.3h0M362.8 650.4h0M630.1 650.4h0M620 650.7h0M860.4 650.7h0M484.7 650.8h0M580.7 651.1h0M466 651.1h0M799.5 651.2h0M393 651.3h0M492.6 651.3h0M500.1 651.3h0M477.8 651.3h0M523.3 651.4h0M703.9 651.4h0M482.8 651.6h0M1052.5 651.7h0M748.4 651.7h0M336.6 651.7h0M339.5 651.8h0M524.8 651.8h0M637.5 651.8h0M573.9 651.8h0M527 651.9h0M374.1 652h0M608.6 652.1h0M534 652.2h0M502.9 652.2h0M581.4 652.3h0M366.8 652.4h0M782.8 652.4h0M900.2 652.4h0M580.6 652.5h0M729.4 652.6h0M857.3 652.6h0M470.2 652.6h0M477.7 652.6h0M884 652.7h0M720.5 652.7h0M375.5 652.8h0M637.8 652.8h0M588.5 653h0M525.6 653h0M875.4 653h0M501.4 653.1h0M505.7 653.2h0M521.6 653.2h0M591.6 653.6h0M372.3 653.7h0M543.8 653.7h0M1044.5 653.8h0M1400.5 653.8h0M555.1 653.8h0M568.5 653.9h0M381.4 654h0M391.7 654.1h0M789.4 654.1h0M490.3 654.1h0M877.9 654.2h0M249.9 654.3h0M568.4 654.3h0M309.8 654.4h0M557.6 654.4h0M340.9 654.4h0M355.9 654.4h0M591.7 654.5h0M464.3 654.5h0M405.8 654.6h0M663.4 654.6h0M674.5 654.7h0M494.6 654.7h0M352.7 654.7h0M554.9 654.8h0M502.2 654.9h0M554.9 654.9h0M378.4 655h0M485.1 655.1h0M409.2 655.2h0M408.1 655.2h0M625.9 655.3h0M565.5 655.5h0M322.6 655.5h0M394.9 655.6h0" stroke="#0000ff" stroke-width="8.40" stroke-linecap="round" fill="none"/>
<path d="M484.2 655.6h0M428.6 655.7h0M537.4 655.7h0M482.3 655.8h0M634.9 655.8h0M442 655.8h0M529.7 655.9h0M287.6 655.9h0M426.6 656.2h0M590.1 656.2h0M529 656.2h0M533.8 656.2h0M701.1 656.3h0M382.5 656.3h0M405.4 656.3h0M570.7 656.3h0M491.9 656.4h0M378.8 656.5h0M379.9 656.5h0M623 656.6h0M530 656.6h0M571.7 656.7h0M313.9 656.7h0M404.7 656.9h0M506.9 657.1h0M534.2 657.1h0M598.3 657.2h0M358.5 657.3h0M689.1 657.4h0M534.5 657.4h0M785.3 657.4h0M616.5 657.5h0M659.6 657.5h0M719.3 657.5h0M624.7 657.6h0M473 657.6h0M521 657.6h0M757.8 657.8h0M665.7 657.9h0M275.6 658h0M657.6 658h0M577.5 658.1h0M422.3 658.2h0M560.6 658.2h0M508.1 658.3h0M544.2 658.4h0M609.6 658.7h0M619.8 658.7h0M513.4 658.9h0M543 659h0M841 659h0M958.1 659.1h0M555.5 659.4h0M472.3 659.5h0M678.8 659.5h0M677.7 659.5h0M584.8 659.6h0M504.2 659.8h0M788.9 659.8h0M728.5 660h0M661.9 660h0M602.4 660.1h0M533.6 660.2h0M372.2 660.3h0M766.4 660.3h0M597.8 660.3h0M407.4 660.5h0M501.7 660.5h0M369.5 660.6h0M654.3 660.7h0M416.6 660.7h0M439.5 660.8h0M546.4 660.8h0M519.7 660.8h0M549.9 660.9h0M562.3 661h0M629.8 661h0M603.8 661h0M483.9 661.1h0M467.9 661.1h0M595.8 661.2h0M475.9 661.3h0M557.5 661.4h0M785.5 661.4h0M401.9 661.4h0M458.6 661.7h0M802.8 661.7h0M417.1 661.7h0M414.8 661.8h0M613.5 661.8h0M461.5 661.9h0M405.4 661.9h0M379.9 661.9h0M810.3 661.9h0M443.7 661.9h0M374.8 661.9h0M749.8 662.1h0M477.5 662.1h0M772.1 662.4h0M614 662.4h0M313.2 662.5h0M500.5 662.5h0M627.6 662.5h0M765.1 662.5h0M535.7 662.5h0M369 662.5h0M372.1 662.6h0M440.6 662.6h0M711.3 662.6h0M544 662.7h0M240 662.7h0M375.7 662.8h0M556.4 662.8h0M302.3 662.8h0M424.3 662.9h0M487.6 663.1h0M571 663.1h0M678.5 663.1h0M426.4 663.3h0M311.4 663.3h0M576.6 663.4h0M788 663.4h0M294.4 663.5h0M677.5 663.6h0M375.8 663.6h0M646 663.6h0M391.8 663.7h0M598.7 663.7h0M598.1 663.8h0M589.5 663.8h0M595.6 664.2h0M267 664.3h0M579.7 664.6h0M516.6 664.7h0M514 664.7h0M673.4 664.7h0M352.1 665h0M1132.4 665h0M524.4 665.1h0M583.5 665.2h0M540.8 665.2h0M756.8 665.2h0M306.2 665.2h0M770.5 665.3h0M501.8 665.4h0M564.9 665.4h0M514.1 665.5h0M694.4 665.6h0M369.3 665.6h0M427.6 665.6h0M482.9 665.7h0M361.4 665.9h0M401.4 665.9h0M502 666h0M539.4 666h0M616.5 666.2h0M437.2 666.5h0M659.3 666.5h0M584.9 666.7h0M767.9 666.7h0M315.1 666.7h0M597.1 666.8h0M698.6 666.8h0M615.6 666.9h0M719.6 666.9h0M573.3 666.9h0M396.3 666.9h0M528.9 667h0M488.9 667h0M407.4 667h0M318.8 667.1h0M372.8 667.1h0M693.1 667.1h0M360.8 667.1h0M800 667.2h0M599.4 667.3h0M636.8 667.5h0M878.1 667.7h0M673.4 667.8h0M688.5 668h0M559.4 668h0M407.5 668.1h0M711.1 668.3h0M548.4 668.4h0M511.7 668.4h0M735.7 668.4h0M525.9 668.6h0M454.9 668.7h0M414.4 669h0M660 669.1h0M369.6 669.1h0M295.6 669.2h0M608.7 669.2h0M678.7 669.2h0M392.3 669.3h0M456.1 669.5h0M544.2 669.5h0M350.2 669.6h0M390.9 669.6h0M600.2 669.6h0M576.2 669.6h0M473.2 669.7h0M635.6 669.7h0M312.9 669.8h0M582.2 669.9h0M595.5 669.9h0M586.7 669.9h0M516.5 669.9h0M696.6 670h0M654.6 670.2h0M363.2 670.2h0M703.2 670.2h0M564.2 670.2h0M688.3 670.2h0M517.8 670.2h0M637.4 670.2h0M1187.3 670.3h0M254.9 670.5h0M729.3 670.6h0M735.9 670.7h0M308.8 670.7h0M623.9 670.7h0M302.8 670.7h0M461.4 670.9h0M335.7 671.1h0M700.7 671.1h0M791.4 671.3h0M782.2 671.4h0M619.4 671.4h0M664.8 671.5h0M405 671.5h0M749.2 671.6h0M366.3 671.7h0M809.7 671.8h0M782 672h0M311.8 672h0M449.6 672h0M345.8 672.1h0M627.7 672.1h0M396.1 672.1h0M451.7 672.2h0M442.7 672.2h0M506.4 672.3h0M347.5 672.3h0M383.8 672.3h0M359.3 672.3h0M474.4 672.4h0M301.8 672.4h0M311.3 672.5h0M654.2 672.5h0M531.7 672.5h0M353.3 672.6h0M256.7 672.7h0M400.2 672.9h0M452 673h0M1068.4 673h0M679.8 673.1h0M516 673.2h0M586.7 673.2h0M363.2 673.3h0M368.2 673.4h0M631.7 673.5h0M825.9 673.5h0M870.1 673.5h0M699.7 673.6h0M348 673.7h0M747.2 673.7h0M627.1 673.8h0M578 673.9h0M706.8 674.1h0M399.7 674.1h0M508.8 674.2h0M637 674.2h0M426.5 674.3h0M536.4 674.6h0M432.5 674.6h0M605.2 674.8h0M610 674.9h0M612.7 674.9h0M367.4 675h0M377.3 675h0M279.7 675.1h0M438.2 675.1h0M334.2 675.2h0M578.3 675.2h0M551.7 675.3h0M374.6 675.5h0M567.2 675.5h0M355.7 675.5h0M616 675.6h0M425.6 675.6h0M1389.3 675.7h0M375.4 675.7h0M299 675.8h0M593.8 675.8h0M613.2 675.9h0M561 676h0M450.6 676h0M652.6 676h0M492.2 676h0M310 676.1h0M369.3 676.1h0M359.7 676.3h0M293.7 676.3h0M627.6 676.4h0M293.3 676.5h0M488.4 676.6h0M377.3 676.8h0M528.4 677h0M358.8 677.2h0M537.9 677.3h0M307.1 677.3h0M261.2 677.3h0M544.8 677.6h0M445 677.6h0M688.3 677.6h0M525.4 677.7h0M340.7 677.9h0M653.2 678h0M500 678.1h0M775.5 678.1h0M900.5 678.3h0M666.9 678.4h0M400.2 678.4h0M439.4 678.4h0M439.3 678.5h0M398.9 678.6h0M275.6 678.9h0M630.7 679h0M489.5 679h0M602.6 679.2h0M554.9 679.2h0M298.8 679.3h0M468.1 679.3h0M579.3 679.4h0M795.1 679.5h0M430.3 679.7h0M375.2 679.8h0M695.8 680h0M549.6 680h0M384.7 680.1h0M516.5 680.1h0M517.9 680.2h0M507.1 680.3h0M575.8 680.3h0M295.3 680.3h0M318.8 680.4h0M346.5 680.7h0M464.6 680.7h0M401.5 681h0M296.1 681.2h0M425.3 681.3h0M245.4 681.4h0M309.8 681.4h0M625.5 681.5h0M565.7 681.6h0M367.1 681.8h0M355.7 681.8h0M602.3 681.8h0M328.1 682h0M379.5 682.1h0M429.1 682.2h0M654.5 682.2h0M304.3 682.3h0M383.8 682.3h0M624.2 682.4h0M533.6 682.5h0M656.5 682.5h0M342.9 682.7h0M540 682.7h0M365 682.8h0M373.5 682.8h0M475.7 682.8h0M451 682.8h0M405.6 682.9h0M316.9 682.9h0M738.2 683.1h0M366 683.1h0M336.3 683.1h0M633.4 683.3h0M623.7 683.5h0M339 683.6h0M421.3 683.7h0M579.2 683.7h0M386.3 683.8h0M724.4 683.8h0M313.4 684h0M351.5 684h0M410.9 684.1h0M636 684.2h0M801.9 684.2h0M809.9 684.2h0M950.1 684.2h0M679.2 684.3h0M471 684.3h0M418.4 684.4h0M544.3 684.4h0M682.1 684.4h0M640.4 684.6h0M329.7 684.8h0" stroke="#0000ff" stroke-width="8.40" stroke-linecap="round" fill="none"/>
<path d="M713.1 684.9h0M587.9 684.9h0M535.2 685h0M415.7 685h0M512.3 685.1h0M407.2 685.1h0M391.3 685.3h0M237.9 685.4h0M366.7 685.4h0M263.9 685.4h0M602.8 685.5h0M504.2 685.5h0M687.8 685.7h0M389.2 685.7h0M699.6 685.7h0M293.5 685.7h0M420.4 685.8h0M278.7 685.8h0M544.6 685.9h0M737.7 686h0M376.5 686.1h0M554.6 686.1h0M400.4 686.3h0M376.5 686.4h0M555.6 686.4h0M558.3 686.4h0M706.9 686.5h0M384.4 686.5h0M343.1 686.7h0M316.7 686.7h0M887.2 686.9h0M985.8 686.9h0M486.8 686.9h0M770 687.1h0M680.8 687.1h0M697.1 687.1h0M412.5 687.3h0M686.8 687.5h0M280.6 687.5h0M549.7 687.5h0M322.6 687.6h0M313 687.6h0M526 687.6h0M751.8 687.6h0M330.4 687.8h0M359.6 687.9h0M421.9 688h0M442.2 688h0M293.6 688h0M723.9 688h0M433.3 688.1h0M459.2 688.1h0M363.3 688.2h0M583.2 688.2h0M675 688.3h0M542.8 688.4h0M368.6 688.5h0M528.2 688.5h0M534.8 688.6h0M706.9 688.6h0M718.2 688.7h0M492 688.7h0M357.7 689h0M476.9 689.1h0M440.5 689.1h0M409.3 689.1h0M545.9 689.5h0M359.9 689.5h0M900.5 689.5h0M1044.5 689.5h0M493 689.6h0M652.1 689.6h0M669 689.7h0M519 689.9h0M387.7 690h0M570 690.4h0M323.3 690.5h0M297.7 690.6h0M587.7 690.8h0M396.3 690.8h0M394.8 690.8h0M288.3 690.9h0M732.6 691h0M346.4 691.2h0M361.3 691.3h0M556.9 691.5h0M580.8 691.6h0M430 691.6h0M549.9 691.8h0M445.6 692h0M385.2 692h0M814.2 692.2h0M867.5 692.2h0M457.3 692.2h0M680.4 692.3h0M318.8 692.6h0M408.4 692.6h0M384.4 692.7h0M291.7 692.8h0M368 692.9h0M437.6 693.1h0M446.2 693.3h0M451.7 693.4h0M722.7 693.5h0M708.9 693.6h0M314 693.7h0M354.5 693.7h0M675.6 693.8h0M552.8 693.8h0M365.9 693.8h0M489.2 693.9h0M616.9 694h0M411.5 694.2h0M511.2 694.2h0M404.8 694.2h0M517.1 694.5h0M269.4 694.5h0M402 694.5h0M333.2 694.5h0M584 694.6h0M651.6 694.7h0M268.9 694.7h0M474.9 694.8h0M513.9 694.8h0M911.2 694.9h0M944.8 694.9h0M1179.3 694.9h0M501 695.1h0M210.7 695.1h0M478.3 695.2h0M698.7 695.2h0M315.1 695.2h0M450.5 695.3h0M517.9 695.3h0M360.2 695.6h0M587.7 695.6h0M508.5 695.7h0M547 695.7h0M677.1 695.8h0M523.2 695.8h0M539.4 695.8h0M341.4 695.8h0M721.2 696.1h0M381.2 696.4h0M236.2 696.4h0M504.2 696.5h0M392.9 696.5h0M324.8 696.8h0M556.8 696.9h0M365 696.9h0M495.2 697h0M354.7 697h0M691.1 697.1h0M437.5 697.1h0M404.5 697.1h0M350.5 697.3h0M486.3 697.3h0M395 697.4h0M636.5 697.4h0M264.3 697.5h0M768.3 697.5h0M466.4 697.5h0M507.8 697.6h0M616.6 697.7h0M313.3 697.7h0M506 697.8h0M456.3 697.9h0M391.6 697.9h0M488.9 698h0M422 698.1h0M598.3 698.2h0M368.9 698.3h0M640.2 698.3h0M413.2 698.7h0M509 698.7h0M482.6 698.8h0M278.8 698.8h0M347.5 698.8h0M499.7 698.8h0M394.3 698.9h0M338.5 699h0M458.5 699h0M597.2 699.1h0M476.1 699.1h0M465.9 699.1h0M493 699.1h0M512.8 699.3h0M522.9 699.3h0M370.1 699.4h0M613.4 699.6h0M528.5 699.7h0M424.9 699.7h0M418.7 699.7h0M390.5 699.8h0M449.3 699.8h0M301.2 699.8h0M536.6 699.9h0M288.4 700h0M383.7 700.1h0M345.8 700.2h0M362.3 700.2h0M800.9 700.2h0M420 700.4h0M476 700.6h0M429.5 700.6h0M251.7 700.6h0M561.5 700.6h0M364.6 700.7h0M421.7 700.7h0M490.5 700.7h0M399.9 700.7h0M692.7 700.9h0M497 700.9h0M406.2 701.1h0M466.1 701.1h0M547.1 701.1h0M518.6 701.2h0M311.2 701.2h0M350.7 701.3h0M384.2 701.4h0M527.7 701.4h0M565.2 701.5h0M434.9 701.5h0M352.9 701.5h0M335.8 701.5h0M418.1 701.6h0M365.7 701.6h0M489.7 701.8h0M595.9 701.9h0M518.8 702.1h0M516.6 702.1h0M427.1 702.1h0M447 702.2h0M505.7 702.2h0M538 702.2h0M290 702.3h0M442.7 702.4h0M662.3 702.6h0M416.2 702.6h0M472.5 702.7h0M411.8 702.8h0M378.7 702.9h0M478.3 702.9h0M494.5 702.9h0M462 703h0M507.4 703h0M554.2 703.1h0M260.6 703.2h0M523 703.3h0M441.5 703.6h0M504.3 703.7h0M591.5 703.7h0M393.9 703.8h0M484.3 704.1h0M370.9 704.2h0M478.3 704.2h0M356.4 704.3h0M406.7 704.3h0M346.2 704.4h0M488.5 704.4h0M467.3 704.5h0M514.8 704.5h0M684.4 704.5h0M597.1 704.6h0M384.8 704.6h0M411.4 704.6h0M370.8 704.6h0M386.6 704.8h0M515.5 704.8h0M467 704.9h0M693.2 704.9h0M500.2 705h0M370.2 705.1h0M377.5 705.2h0M505.9 705.2h0M482.4 705.4h0M483.7 705.4h0M361.1 705.4h0M396.1 705.6h0M360.2 705.7h0M493.8 705.9h0M475.8 706h0M513.4 706.1h0M393.6 706.1h0M397.9 706.2h0M521.1 706.2h0M322.2 706.2h0M414.2 706.2h0M374.7 706.3h0M327.6 706.4h0M379.8 706.4h0M531.1 706.5h0M481.4 706.6h0M887.2 706.6h0M466.1 706.7h0M607.1 706.7h0M392.8 706.7h0M528.7 706.7h0M687 706.9h0M683.7 707.1h0M609.8 707.1h0M322.9 707.3h0M452.5 707.4h0M697.6 707.4h0M492.3 707.5h0M539.8 707.7h0M496.4 707.7h0M483.1 707.7h0M270.3 707.8h0M467.4 707.9h0M342 707.9h0M509.7 707.9h0M384.8 708h0M360.3 708.1h0M389.7 708.2h0M322.8 708.3h0M360.6 708.3h0M315 708.4h0M520.9 708.5h0M400.6 708.5h0M317.2 708.6h0M289.4 708.6h0M527.1 708.7h0M504.7 708.7h0M418.7 708.8h0M497.8 708.9h0M323.9 708.9h0M297.4 708.9h0M509.2 708.9h0M443.4 709h0M459.2 709h0M248.4 709.1h0M416.8 709.1h0M325.1 709.2h0M1060.4 709.3h0M492.8 709.7h0M448.4 709.7h0M479.7 709.8h0M511.7 709.8h0M490.8 709.9h0M674.9 710h0M669.5 710.1h0M376.8 710.2h0M429.2 710.2h0M467.7 710.2h0M350.5 710.2h0M395.4 710.3h0M481.8 710.3h0M535.4 710.3h0M359.9 710.4h0M396.1 710.4h0M381.5 710.4h0M346.2 710.5h0M399.6 710.5h0M279.9 710.5h0M592.1 710.6h0M334.7 710.6h0M522.6 710.6h0M509.7 710.7h0M380.3 710.7h0M342.5 710.8h0M585.8 710.9h0M474.8 710.9h0M367.1 711.1h0M325.4 711.1h0M392.3 711.1h0M670.9 711.1h0M374 711.2h0M510.1 711.3h0M226.9 711.4h0M434 711.5h0M478.2 711.5h0M553.7 711.5h0M465.4 711.5h0M369.1 711.6h0M358.2 711.6h0M360.1 711.6h0M661.7 711.6h0M426.3 711.6h0M461.2 711.7h0M469.1 711.8h0M440.8 711.8h0M360.9 711.8h0M404.7 711.8h0M392.9 711.8h0M378.6 711.8h0M457.7 711.9h0M738 711.9h0M879.2 711.9h0M950.1 711.9h0M422.2 712.1h0M504.1 712.1h0M350.7 712.1h0M360.6 712.2h0M506.5 712.3h0M668.2 712.3h0M527.7 712.3h0M432 712.3h0M324.6 712.3h0M502.5 712.4h0" stroke="#0000ff" stroke-width="8.40" stroke-linecap="round" fill="none"/>
<path d="M341.2 712.4h0M308.6 712.5h0M535 712.5h0M340.9 712.5h0M661.6 712.7h0M397.9 712.8h0M523.4 712.8h0M406.4 712.9h0M345.5 712.9h0M414.4 713.1h0M437.9 713.2h0M386.3 713.3h0M496.6 713.3h0M493.8 713.4h0M562 713.4h0M409.3 713.4h0M504.8 713.4h0M492.5 713.5h0M444.2 713.6h0M375.3 713.7h0M386.3 713.7h0M489.3 713.8h0M438.5 713.8h0M310.6 713.9h0M389.4 713.9h0M449.5 713.9h0M564.8 714h0M382.9 714h0M251.6 714.1h0M399.1 714.1h0M384.6 714.2h0M400 714.2h0M542.1 714.2h0M363.5 714.2h0M362.4 714.3h0M526.9 714.5h0M748.6 714.6h0M809.9 714.6h0M362.1 714.6h0M469.1 714.7h0M481.8 714.7h0M387.6 714.8h0M482.6 714.8h0M457.5 714.8h0M446.4 714.9h0M470 714.9h0M424.9 715.1h0M575.3 715.1h0M376.4 715.1h0M406.7 715.2h0M382.7 715.2h0M490.1 715.2h0M415.4 715.3h0M556.7 715.4h0M497.7 715.4h0M373.9 715.4h0M313.9 715.5h0M471.5 715.6h0M409 715.7h0M418.3 715.7h0M309.5 715.8h0M383.9 715.8h0M645.9 715.8h0M357 715.8h0M524.2 715.9h0M341 715.9h0M520.7 715.9h0M365.5 716h0M313.5 716h0M347.3 716h0M319.2 716h0M298.3 716.1h0M420.8 716.1h0M494.5 716.2h0M417.1 716.2h0M380.1 716.3h0M467.1 716.3h0M390.1 716.4h0M287.4 716.5h0M462.9 716.5h0M255.1 716.5h0M332 716.5h0M375.3 716.6h0M224.9 716.6h0M360.4 716.6h0M396.6 716.7h0M418 716.7h0M557.6 716.7h0M480.6 716.7h0M393.9 716.7h0M549.8 716.7h0M390.9 716.7h0M423.5 716.8h0M366.9 716.9h0M519.5 717h0M419.1 717h0M500.7 717.1h0M510.6 717.1h0M382.7 717.2h0M395.4 717.2h0M1088.2 717.2h0M374.4 717.3h0M408.7 717.4h0M496 717.5h0M357.1 717.5h0M465.5 717.5h0M486.9 717.6h0M469.1 717.6h0M242.4 717.7h0M507.3 717.7h0M348.3 717.8h0M446.4 717.9h0M462 717.9h0M436.8 717.9h0M414.5 718h0M353.9 718h0M391 718.1h0M303.4 718.1h0M448.2 718.1h0M406.2 718.2h0M441.9 718.3h0M515.8 718.4h0M460.9 718.4h0M461.5 718.4h0M482.2 718.5h0M334.6 718.7h0M475.8 718.7h0M486.7 718.8h0M318.9 718.8h0M484.4 718.8h0M293.1 718.9h0M394.3 718.9h0M527.4 718.9h0M600.1 718.9h0M412.2 719h0M498.1 719.1h0M364.5 719.1h0M497.2 719.2h0M566.1 719.2h0M437.4 719.2h0M342.7 719.2h0M514.2 719.2h0M426.7 719.4h0M414.6 719.4h0M495.1 719.4h0M499.7 719.5h0M488 719.5h0M415 719.6h0M597.7 719.6h0M466.6 719.6h0M349.2 719.7h0M1060.4 719.9h0M350.4 719.9h0M301.3 719.9h0M344.2 720h0M460.9 720.1h0M644.3 720.1h0M362.7 720.1h0M460.7 720.1h0M344.8 720.1h0M412.5 720.1h0M385.7 720.3h0M454.5 720.3h0M329.2 720.5h0M504.2 720.5h0M559.6 720.5h0M172.8 720.6h0M642.6 720.9h0M530.5 720.9h0M296.7 721h0M583.2 721h0M490.8 721h0M375.7 721h0M507.7 721h0M444.9 721.1h0M341.4 721.2h0M378.9 721.2h0M467.9 721.3h0M245.2 721.3h0M396.7 721.3h0M487.3 721.3h0M491.2 721.3h0M377.2 721.3h0M456.9 721.5h0M405.6 721.5h0M471.2 721.5h0M433.6 721.5h0M591.4 721.5h0M432.6 721.6h0M321.7 721.6h0M361.2 721.6h0M458.2 721.7h0M458.5 721.8h0M350.9 721.9h0M581.1 721.9h0M268.9 721.9h0M360.3 721.9h0M641.4 722h0M358.1 722h0M365.4 722.1h0M407.5 722.1h0M381.6 722.1h0M477 722.1h0M463.6 722.3h0M429.4 722.3h0M327.6 722.3h0M626.8 722.3h0M343.8 722.3h0M390.7 722.3h0M362.4 722.4h0M474.3 722.4h0M440.8 722.4h0M366.5 722.4h0M426.5 722.5h0M447.7 722.5h0M422 722.5h0M517.9 722.5h0M790.2 722.6h0M848.3 722.6h0M1217.7 722.6h0M333.7 722.6h0M382.1 722.6h0M336.9 722.7h0M542.2 722.8h0M343.1 722.8h0M320.8 723h0M560 723h0M484 723.1h0M591.3 723.1h0M415.9 723.2h0M471.6 723.2h0M431.9 723.3h0M400.4 723.3h0M549 723.4h0M483.2 723.4h0M467.1 723.5h0M506.2 723.6h0M499.6 723.6h0M421.4 723.6h0M124.9 723.6h0M403.1 723.6h0M489.9 723.7h0M484.8 723.7h0M488.7 723.7h0M473.8 723.7h0M390.2 723.7h0M497.8 723.7h0M519.3 723.7h0M488 723.8h0M469.3 723.8h0M620.1 723.8h0M336.3 723.8h0M482 723.8h0M367 723.9h0M298.4 723.9h0M431.3 724h0M362.4 724h0M317.6 724h0M445.6 724h0M392.5 724.1h0M456.9 724.1h0M456.2 724.2h0M328.6 724.2h0M260.4 724.3h0M500.8 724.3h0M466.8 724.3h0M442 724.3h0M355.3 724.3h0M329.4 724.4h0M425.9 724.4h0M579.9 724.4h0M561.3 724.5h0M493 724.6h0M445.8 724.6h0M430.9 724.7h0M434.6 724.7h0M509.4 724.7h0M400 724.8h0M364.8 724.9h0M335.9 724.9h0M406.9 725.1h0M415 725.1h0M302.9 725.3h0M277 725.3h0M458.8 725.4h0M504.9 725.6h0M355.6 725.6h0M460.3 725.8h0M378.5 725.8h0M429.2 725.9h0M448.1 726h0M322.7 726h0M437.4 726.1h0M314.3 726.1h0M436.1 726.1h0M443.3 726.2h0M441 726.4h0M430 726.5h0M382.8 726.5h0M295.7 726.6h0M390.4 726.6h0M495.5 726.9h0M536.8 727h0M572.8 727h0M397.9 727h0M323.2 727h0M325.9 727h0M352.5 727.1h0M445.6 727.1h0M498.4 727.1h0M588 727.2h0M392.6 727.2h0M363.5 727.3h0M362.4 727.4h0M409.5 727.4h0M453.1 727.4h0M393.2 727.4h0M486.5 727.4h0M359.3 727.6h0M355.4 727.7h0M567.1 727.7h0M289.3 727.8h0M467.1 728h0M400 728.1h0M399.4 728.1h0M332.6 728.4h0M366.3 728.4h0M388.6 728.5h0M411.4 728.6h0M319.4 728.6h0M460.5 728.8h0M438.9 728.9h0M366.1 728.9h0M337.8 728.9h0M703.3 729h0M911.2 729h0M314.8 729h0M449.5 729h0M488.9 729.1h0M655.7 729.1h0M355.9 729.1h0M392 729.1h0M628.9 729.2h0M355 729.2h0M312.1 729.2h0M430.8 729.2h0M435.6 729.2h0M389.5 729.2h0M395 729.2h0M460.7 729.3h0M344.4 729.4h0M506.5 729.4h0M683 729.5h0M477.4 729.6h0M532.6 729.8h0M404.2 729.9h0M445 730h0M649.8 730h0M441.4 730h0M309 730.2h0M452.8 730.2h0M289 730.3h0M294.2 730.4h0M297.1 730.4h0M397.8 730.6h0M378.8 730.7h0M434.1 730.7h0M384.2 730.7h0M281.8 730.7h0M524 730.8h0M363 730.8h0M454.5 730.9h0M395.7 731h0M474.4 731.1h0M490.6 731.1h0M467.2 731.1h0M360.2 731.2h0M364.7 731.2h0M314.9 731.2h0M534.4 731.2h0M563.5 731.3h0M479.9 731.3h0M294 731.3h0M538 731.4h0M403.8 731.4h0M305.5 731.4h0M340.2 731.4h0M340.1 731.4h0M692.6 731.6h0M448.9 731.6h0M334.4 731.8h0M388.2 731.8h0M347.8 731.9h0M412.5 731.9h0M485 732h0M416.4 732h0M456.7 732h0M415.6 732.2h0M440.7 732.2h0M388.2 732.2h0" stroke="#0000ff" stroke-width="8.40" stroke-linecap="round" fill="none"/>
<path d="M472.1 732.3h0M395 732.4h0M409.2 732.4h0M422.7 732.5h0M370.4 732.5h0M559 732.6h0M356.8 732.6h0M249.3 732.7h0M497.7 732.7h0M545.3 732.8h0M304.2 732.8h0M491.2 732.8h0M568.5 732.9h0M354.7 733h0M369.8 733.1h0M329.4 733.2h0M321.8 733.2h0M278 733.2h0M417.3 733.3h0M595.4 733.3h0M442.3 733.3h0M482.6 733.4h0M343.8 733.6h0M371.7 733.6h0M382.4 733.6h0M477.3 733.7h0M399.1 733.9h0M444.1 733.9h0M448.8 734h0M294.7 734h0M382.5 734h0M383.4 734.1h0M438.5 734.1h0M344.4 734.2h0M773.7 734.3h0M916.5 734.3h0M389.5 734.4h0M329.7 734.5h0M332.5 734.5h0M433.6 734.6h0M348.4 734.6h0M284.7 734.6h0M374.9 734.6h0M422.9 734.8h0M550.1 734.9h0M443 734.9h0M310.2 734.9h0M530.6 734.9h0M465.4 735h0M350 735h0M290.1 735.2h0M385.2 735.2h0M568.1 735.2h0M427.5 735.2h0M424 735.3h0M386.8 735.3h0M642.8 735.4h0M251.2 735.4h0M287.8 735.4h0M429.1 735.4h0M417.1 735.5h0M592.2 735.6h0M335.5 735.7h0M329.1 735.7h0M477.3 735.7h0M464.9 735.8h0M367.8 735.8h0M390.8 735.9h0M540.5 735.9h0M380.6 736h0M237.9 736.1h0M391.9 736.2h0M426.9 736.2h0M420 736.3h0M383.7 736.4h0M346.3 736.5h0M361.1 736.5h0M401.9 736.5h0M584.2 736.5h0M582.9 736.5h0M396.1 736.5h0M277.2 736.6h0M289.7 736.8h0M382.5 736.9h0M523.9 736.9h0M490.2 736.9h0M486.4 737.1h0M365.8 737.1h0M436.5 737.2h0M607.4 737.3h0M364.5 737.3h0M363 737.4h0M392.7 737.9h0M302 738h0M350.2 738.1h0M401.5 738.1h0M336.4 738.1h0M373.7 738.2h0M294.7 738.2h0M511.4 738.2h0M367.7 738.3h0M402 738.3h0M390.6 738.3h0M375.5 738.4h0M395 738.4h0M507.5 738.6h0M438.1 738.9h0M427.6 739.1h0M377.9 739.1h0M374.7 739.3h0M508.5 739.3h0M595.1 739.3h0M294.3 739.4h0M455.1 739.4h0M433.7 739.4h0M299.4 739.4h0M361.3 739.5h0M679.3 739.6h0M728.9 739.6h0M370.9 739.7h0M499.5 739.7h0M342.8 739.7h0M309.4 739.8h0M360.4 739.8h0M355.2 739.9h0M243.6 739.9h0M277.4 740h0M377.4 740h0M422.2 740h0M398.4 740h0M308.5 740.1h0M499.7 740.2h0M244 740.2h0M381.3 740.2h0M443.4 740.3h0M339 740.3h0M332.7 740.5h0M315.9 740.8h0M347.6 740.8h0M606.5 740.9h0M378.1 741h0M302.9 741.1h0M305.2 741.1h0M361.3 741.3h0M380.5 741.4h0M280 741.4h0M293.3 741.5h0M427.4 741.6h0M375.1 741.6h0M385 741.6h0M352.6 741.9h0M334.3 741.9h0M400.6 741.9h0M385.4 742.2h0M404.2 742.2h0M831.2 742.3h0M468 742.4h0M361.5 742.4h0M374.8 742.5h0M270 742.6h0M365.9 742.7h0M363.2 742.8h0M505.7 742.9h0M338.9 743.1h0M267.3 743.1h0M378.7 743.3h0M490.8 743.5h0M375.4 743.5h0M314.5 743.5h0M388.5 743.7h0M388.2 744.1h0M399.1 744.2h0M492.6 744.3h0M377.6 744.4h0M329.7 744.4h0M326.6 744.6h0M288.1 744.7h0M370.4 744.7h0M353.4 744.9h0M702.2 745h0M256.5 745h0M414 745.1h0M373.9 745.3h0M227.7 745.3h0M291.8 745.3h0M353.5 745.4h0M325.9 745.4h0M389.4 745.5h0M308.3 745.7h0M406.1 745.7h0M318.7 745.9h0M333.6 746h0M363.3 746.1h0M373.3 746.2h0M313.7 746.4h0M341.8 746.4h0M309.2 746.7h0M452.5 746.8h0M247.9 746.9h0M643.6 747h0M393.9 747h0M382.5 747h0M241.7 747.1h0M328 747.2h0M212.7 747.4h0M668.7 747.6h0M364.6 747.9h0M403.4 748h0M427.1 748h0M339.3 748h0M328.3 748.1h0M384.7 748.1h0M346.2 748.1h0M239 748.1h0M484.9 748.3h0M378.4 748.5h0M357 748.5h0M292.3 748.8h0M301.5 749.1h0M301.7 749.2h0M276.4 749.2h0M336.7 749.3h0M320 749.3h0M268.8 749.4h0M290.4 749.5h0M602.7 749.6h0M386.6 749.6h0M278.1 749.6h0M341.6 749.7h0M314.8 749.7h0M274.5 749.8h0M367 749.8h0M538.8 749.9h0M381.5 750h0M359.4 750.1h0M326.7 750.3h0M395.2 750.3h0M348.6 750.3h0M333.2 750.5h0M220.2 750.5h0M323.6 750.5h0M349.3 750.7h0M238 750.9h0M359.2 751h0M380.4 751.1h0M277.8 751.1h0M331.5 751.1h0M359.5 751.1h0M465.5 751.2h0M468.6 751.2h0M348.8 751.4h0M210.3 751.5h0M318.5 751.5h0M347.9 751.6h0M299.7 751.7h0M328.5 751.9h0M565.9 751.9h0M402.4 751.9h0M357.2 752h0M476.3 752.2h0M312 752.2h0M628.6 752.3h0M283.1 752.3h0M413.7 752.4h0M324.8 752.7h0M655.3 753h0M291.9 753.1h0M289.9 753.1h0M341.9 753.1h0M334 753.1h0M259 753.2h0M322 753.3h0M256.7 753.5h0M406.4 753.5h0M629.4 753.6h0M403.1 753.9h0M569.6 754h0M353.1 754.1h0M392.8 754.3h0M314.8 754.3h0M463.3 754.3h0M349.8 754.4h0M300.5 754.4h0M410.5 754.6h0M433.9 754.7h0M387.3 754.7h0M267 754.8h0M395.9 754.8h0M264.2 754.9h0M342.5 754.9h0M290.4 755h0M365.9 755.1h0M448.6 755.2h0M299.4 755.2h0M325.2 755.2h0M366.8 755.2h0M348.1 755.4h0M382.5 755.5h0M309.2 755.5h0M479.7 755.6h0M221.8 755.6h0M641.2 755.7h0M260 755.8h0M355.7 755.8h0M318.2 755.9h0M315.5 755.9h0M303.3 755.9h0M347.8 756h0M342.2 756h0M307.2 756.1h0M362.8 756.1h0M306.8 756.1h0M324.6 756.2h0M314.6 756.3h0M382.6 756.3h0M341.2 756.4h0M390.1 756.4h0M328.6 756.4h0M309.9 756.4h0M438.4 756.5h0M330.3 756.5h0M397.3 756.6h0M344.9 756.6h0M383.3 756.7h0M335.9 756.8h0M306.9 756.8h0M239.1 757h0M383.9 757h0M343.8 757h0M319.3 757.2h0M425.1 757.4h0M355.9 757.4h0M277.4 757.5h0M334.4 757.5h0M388 757.6h0M375.8 757.7h0M347.6 757.8h0M329.5 757.8h0M348.5 757.9h0M401 757.9h0M276 757.9h0M346.3 758.2h0M333.2 758.2h0M324.7 758.3h0M318.5 758.4h0M382.2 758.4h0M381.7 758.5h0M344.1 758.5h0M292.1 758.5h0M424.8 758.7h0M417.6 758.8h0M449.5 758.8h0M381.3 759h0M480.7 759.1h0M376.8 759.1h0M408.4 759.1h0M371.9 759.2h0M446.4 759.3h0M330.1 759.4h0M273.5 759.5h0M350.7 759.5h0M479.2 759.6h0M572.9 759.7h0M247.3 759.7h0M238.2 759.8h0M253 759.8h0M384.3 759.8h0M429.3 759.8h0M309.2 759.8h0M290.8 759.9h0M366.7 759.9h0M426.1 760h0M385 760h0M394 760h0M342.3 760h0M367.7 760.2h0M425.3 760.2h0M308.2 760.4h0M393.4 760.4h0M223.3 760.5h0M352.8 760.6h0M226.2 760.6h0M448 760.6h0M413 760.7h0M479.2 760.8h0M421.2 760.8h0M237 760.9h0M404 760.9h0M406.6 760.9h0M451.4 761h0M454.2 761h0M387 761h0M398.1 761.1h0M448.5 761.2h0M422.3 761.2h0M271.5 761.2h0M268.6 761.2h0M410.3 761.3h0M323.6 761.3h0M338 761.5h0" stroke="#0000ff" stroke-width="8.40" stroke-linecap="round" fill="none"/>
<path d="M457 761.5h0M264.3 761.6h0M403.1 761.6h0M412.8 761.6h0M324.3 761.7h0M487.1 761.7h0M329.6 761.7h0M205 761.8h0M564.1 761.9h0M293.7 762h0M421.8 762.2h0M297.4 762.2h0M462.4 762.3h0M384.1 762.3h0M336.6 762.3h0M322.7 762.3h0M257.5 762.4h0M384.5 762.7h0M442.6 762.7h0M377.1 762.9h0M388 763.1h0M630 763.3h0M411.6 763.3h0M338.2 763.3h0M378.7 763.3h0M428.3 763.4h0M310.9 763.5h0M262.7 763.5h0M376.9 763.5h0M296.1 763.6h0M406.1 763.7h0M288.7 763.8h0M383.5 763.8h0M376.6 764h0M434.4 764.1h0M430.1 764.2h0M285.8 764.2h0M421 764.2h0M236 764.3h0M369.8 764.5h0M341.3 764.5h0M247.4 764.5h0M496.2 764.5h0M309.5 764.5h0M230.6 764.6h0M456.5 764.6h0M217 764.6h0M250.7 764.6h0M316 764.8h0M467.6 764.9h0M513.5 765h0M432.6 765h0M305.2 765h0M451.2 765.1h0M401.7 765.1h0M449.4 765.2h0M243.4 765.3h0M439.1 765.4h0M242.8 765.4h0M350.5 765.5h0M410.5 765.7h0M270.8 765.8h0M512.6 765.8h0M280.5 765.9h0M423.9 765.9h0M294.5 765.9h0M266.6 766h0M242 766h0M252.8 766h0M418.8 766h0M251.3 766h0M277.3 766.1h0M414.3 766.1h0M568.7 766.1h0M627.3 766.3h0M472.4 766.5h0M327.5 766.5h0M517.4 766.6h0M462.2 766.7h0M287.9 766.7h0M363 766.7h0M339.1 766.7h0M397.3 766.8h0M312.6 766.8h0M684.6 766.8h0M690 766.8h0M308.1 766.9h0M416.4 766.9h0M275.4 767h0M456.4 767h0M348.5 767.1h0M453.2 767.1h0M325 767.2h0M327.8 767.2h0M216.9 767.2h0M430.4 767.3h0M296.5 767.3h0M353.4 767.3h0M312.2 767.3h0M456 767.3h0M304.9 767.3h0M428 767.4h0M379.4 767.5h0M630.5 767.5h0M551.7 767.5h0M419.7 767.5h0M330.2 767.5h0M334.2 767.6h0M369.6 767.6h0M646.9 767.6h0M313.9 767.7h0M439.7 767.8h0M213.2 767.8h0M397.2 767.8h0M397 767.9h0M244.7 767.9h0M459 768.1h0M281 768.2h0M262.1 768.2h0M624.6 768.3h0M416.8 768.3h0M634.4 768.3h0M233.4 768.3h0M199.6 768.3h0M214.9 768.4h0M213 768.4h0M321.7 768.5h0M205.7 768.6h0M268.9 768.6h0M309.6 768.6h0M441.5 768.6h0M443.1 768.6h0M328.3 768.7h0M381.1 768.7h0M575.9 768.7h0M426.2 768.7h0M414.7 768.7h0M537.4 768.8h0M636.2 768.9h0M511.1 768.9h0M586.5 768.9h0M442 768.9h0M231.4 769h0M374.4 769h0M417.3 769h0M556.5 769h0M410.8 769h0M415.5 769h0M424.7 769h0M297.3 769.1h0M218.7 769.1h0M615.2 769.1h0M434.7 769.1h0M458.1 769.2h0M447.3 769.2h0M451.9 769.2h0M488.8 769.4h0M384.3 769.4h0M335.2 769.4h0M617.6 769.5h0M522.4 769.5h0M263.6 769.5h0M464.7 769.5h0M646.6 769.5h0M461.7 769.6h0M579.1 769.6h0M438.5 769.7h0M275.7 769.7h0M500.1 769.8h0M340.9 770h0M317.4 770h0M190.2 770.1h0M362.8 770.2h0M198.6 770.3h0M466.3 770.3h0M423.2 770.4h0M488.5 770.5h0M291.8 770.5h0M303 770.6h0M352.6 770.6h0M212.7 770.6h0M351.8 770.8h0M353.6 770.8h0M337.8 770.8h0M436.1 770.9h0M323.2 770.9h0M217.4 770.9h0M388.8 771h0M318.3 771h0M233.7 771.1h0M223 771.1h0M382.3 771.1h0M271 771.1h0M623.8 771.2h0M216.6 771.2h0M322.1 771.2h0M356.8 771.3h0M284.3 771.3h0M234.7 771.3h0M346.4 771.4h0M238.7 771.4h0M639.8 771.4h0M407.2 771.4h0M226.5 771.4h0M209.4 771.4h0M428.5 771.4h0M459 771.5h0M238.9 771.5h0M268.6 771.5h0M337.8 771.5h0M450.7 771.6h0M330.8 771.6h0M380.4 771.7h0M300.8 771.7h0M390.9 771.8h0M568.9 771.8h0M241.3 771.8h0M301.9 771.8h0M321.6 772h0M580.6 772.1h0M723.6 772.2h0M342.2 772.2h0M179.7 772.2h0M457.1 772.4h0M418 772.5h0M336.3 772.6h0M428 772.6h0M301.8 772.6h0M335.1 772.7h0M281.8 772.7h0M234.7 772.7h0M564.5 772.8h0M454.2 772.8h0M271.7 772.8h0M416.2 772.9h0M295.9 772.9h0M220.6 772.9h0M464.8 772.9h0M300.3 773.3h0M274.2 773.4h0M353.5 773.4h0M259.9 773.4h0M336.8 773.5h0M234.7 773.6h0M228.5 773.8h0M571.4 773.8h0M262.2 773.8h0M332.1 773.9h0M420.3 773.9h0M416.7 774h0M475.2 774.1h0M229 774.1h0M230.8 774.2h0M291.5 774.3h0M461.4 774.3h0M206.4 774.4h0M201.8 774.5h0M229.8 774.5h0M417 774.5h0M299.8 774.6h0M554.9 774.6h0M422.8 774.7h0M333.2 774.7h0M301.2 774.7h0M288.5 774.7h0M221.4 774.7h0M283.6 774.9h0M452.5 774.9h0M442.2 774.9h0M396.1 775h0M367.2 775h0M220.5 775h0M462 775.1h0M453.7 775.2h0M263.6 775.2h0M263.3 775.4h0M401.6 775.4h0M476.8 775.5h0M284.1 775.5h0M566.9 775.6h0M404.4 775.7h0M372.9 775.8h0M430.9 775.9h0M303.6 776.1h0M388.5 776.2h0M578.7 776.2h0M211.3 776.3h0M242.5 776.3h0M437.8 776.4h0M363.8 776.4h0M394.9 776.5h0M262.8 776.5h0M263.4 776.7h0M351.7 776.8h0M301.8 777.4h0M253.4 777.5h0M674 777.5h0M484.7 777.5h0M358.3 777.8h0M277.3 777.8h0M342.7 777.9h0M455 777.9h0M298.5 777.9h0M412.3 778h0M283.1 778.5h0M388.9 778.6h0M435.1 778.7h0M222.1 778.9h0M443.2 779h0M290.3 779h0M448.2 779.1h0M479.6 779.2h0M289.5 779.2h0M317.9 779.2h0M192.9 779.3h0M365.8 779.5h0M264.9 779.6h0M436.9 779.6h0M483.1 779.8h0M477.5 779.9h0M692.6 780.1h0M776.3 780.1h0M398.9 780.2h0M572.6 780.4h0M335.7 780.5h0M365.8 780.8h0M378.7 780.9h0M183.8 781.1h0M443.7 781.2h0M520.1 781.3h0M355.7 781.3h0M416.6 781.5h0M442.4 782.1h0M412.6 782.4h0M485 782.7h0M388.3 782.7h0M284.8 783h0M380.2 783.1h0M438.9 783.1h0M379.6 783.4h0M319.3 783.8h0M180.6 783.8h0M359.4 783.8h0M338.7 783.8h0M212.2 783.8h0M214.9 784.1h0M314 784.1h0M446.5 784.2h0M426.8 784.5h0M587.4 784.6h0M210.7 784.6h0M309.7 785h0M597.2 785.2h0M310.6 785.3h0M294.8 785.3h0M445.1 785.4h0M311.6 785.4h0M201.8 785.4h0M198.6 785.5h0M505.1 785.6h0M195.1 785.8h0M306.8 786h0M538.4 786.1h0M296.5 786.1h0M203.7 786.2h0M302.1 786.4h0M283.3 786.5h0M513 786.6h0M394.3 786.6h0M436.4 786.7h0M444.4 787h0M391.6 787.4h0M264.4 787.5h0M443 787.8h0M435 788.1h0M203.6 788.4h0M471.4 788.5h0M179.4 788.5h0M399.3 788.5h0M323.7 788.5h0M300.2 788.8h0M343.1 789h0M358.6 789.2h0M388.7 789.4h0M219.1 789.7h0M369.2 789.9h0M383.8 790h0M500.8 790h0M228.6 790.1h0M366.1 790.1h0M442.5 790.3h0M223.5 790.3h0M444.7 790.5h0M398.7 790.6h0M552.9 790.9h0M518.6 790.9h0M597.1 790.9h0M394 791h0M503 791.3h0M563.6 791.4h0" stroke="#0000ff" stroke-width="8.40" stroke-linecap="round" fill="none"/>
<path d="M201.4 791.4h0M346.7 791.8h0M361.2 792.4h0M520.6 792.4h0M352.9 792.6h0M244.2 792.7h0M401.7 792.8h0M480.1 792.8h0M323.8 793h0M236.8 793.1h0M285.9 793.1h0M234.4 793.2h0M445.8 793.5h0M267.5 793.6h0M242.2 793.6h0M329.3 793.6h0M207.6 793.7h0M371.7 794h0M577.1 794.1h0M330.7 794.5h0M378.9 794.5h0M446.4 794.6h0M271.9 794.7h0M504.7 794.7h0M244.3 794.8h0M244.9 795.4h0M439.4 795.4h0M327.5 795.4h0M437.9 795.5h0M220.2 795.5h0M256.2 795.5h0M402.6 795.5h0M399.9 795.5h0M542.6 795.7h0M251.1 795.8h0M249.2 795.9h0M177.9 796.1h0M269.3 796.4h0M260.8 796.4h0M226.7 796.5h0M242 796.7h0M283.4 796.8h0M343.1 797h0M274.4 797.1h0M278.5 797.1h0M268.9 797.3h0M180.4 797.4h0M256 797.4h0M242.4 797.4h0M392 797.7h0M239.5 797.7h0M249.5 797.8h0M288.7 797.8h0M442.4 797.8h0M275.4 798.1h0M255.5 798.2h0M208.9 798.2h0M219.6 798.3h0M370.8 798.3h0M327.5 798.4h0M489 798.4h0M254.7 798.6h0M197.6 798.6h0M378.5 798.6h0M243.7 798.6h0M275.6 798.7h0M268.9 798.9h0M213 798.9h0M388.7 799h0M184.3 799.1h0M248 799.2h0M380.7 799.3h0M222.2 799.3h0M329 799.7h0M246.5 799.7h0M242.6 799.8h0M250.7 800.1h0M479.4 800.2h0M368.3 800.3h0M496.8 800.4h0M278.2 800.4h0M296.7 800.5h0M233.5 800.7h0M242 800.8h0M410.5 801h0M230.3 801.2h0M198.1 801.7h0M557.1 801.7h0M283.3 802h0M577.6 802.1h0M261.7 802.3h0M585.7 802.3h0M578.6 802.4h0M275.2 802.5h0M193.9 802.5h0M285.3 802.7h0M429.9 802.7h0M392.9 802.8h0M238.7 802.9h0M254.6 803h0M322.1 803h0M379.1 803.1h0M233.2 803.1h0M302.3 803.1h0M336.7 803.2h0M274.8 803.3h0M339.8 803.5h0M269.9 803.7h0M506.4 803.8h0M193.3 803.8h0M490.6 804h0M188.5 804h0M208.9 804.1h0M281 804.1h0M273.5 804.1h0M280 804.3h0M243.5 804.3h0M227.8 804.3h0M264.1 804.4h0M262.7 804.4h0M279.3 804.4h0M216 804.5h0M212.4 804.5h0M375.1 804.7h0M251 804.7h0M527.4 804.7h0M571.4 804.7h0M263.1 804.8h0M248.6 804.9h0M245.8 805h0M263.2 805h0M241.7 805h0M335.1 805.2h0M319.6 805.4h0M252.4 805.4h0M488.5 805.4h0M240.3 805.4h0M283.4 805.5h0M236.7 805.6h0M235.3 805.7h0M227.3 805.7h0M259.6 806h0M270.9 806h0M226.2 806.1h0M248.1 806.3h0M246.5 806.3h0M247.6 806.6h0M268.6 806.6h0M241.3 806.8h0M246 806.8h0M245.4 806.9h0M485.7 807h0M219.9 807.1h0M221.9 807.2h0M498.1 807.4h0M256.3 807.5h0M263.3 807.5h0M234.4 807.6h0M240 807.7h0M273 807.8h0M221.2 807.9h0M285.1 808h0M285.4 808.3h0M245.8 808.4h0M342.3 808.5h0M250 808.8h0M273 809.1h0M569.5 809.1h0M441.3 809.2h0M473.8 809.2h0M333.6 809.3h0M279.8 809.4h0M203.9 809.6h0M496.7 809.6h0M307.8 809.7h0M256 809.8h0M463.1 809.9h0M258.4 809.9h0M239.1 809.9h0M257.1 810.1h0M341.8 810.1h0M234.1 810.2h0M320.3 810.3h0M548.1 810.3h0M484.3 810.3h0M294.8 810.3h0M309.4 810.3h0M237 810.5h0M243.3 810.5h0M214.7 810.5h0M268.7 810.7h0M209.8 810.9h0M331.8 811h0M323 811.3h0M475.6 811.4h0M290.1 811.4h0M215.8 811.5h0M236 811.6h0M314.8 811.7h0M410.7 812.2h0M388.4 812.3h0M260.8 812.3h0M374.1 812.3h0M452.1 812.3h0M292.2 812.5h0M254 812.6h0M320.6 812.6h0M635.9 812.8h0M636.6 812.8h0M252.2 812.9h0M211.1 813h0M329.3 813h0M198.1 813.1h0M230.2 813.2h0M333.5 813.3h0M224.3 813.3h0M278.6 813.4h0M394.5 813.5h0M213 813.5h0M196.1 813.5h0M202.1 813.5h0M423 813.6h0M429.7 813.6h0M247.5 813.8h0M245.4 813.9h0M260.4 813.9h0M237.3 813.9h0M276.6 814.1h0M197.2 814.3h0M277.2 814.3h0M559.1 814.3h0M423 814.3h0M467 814.3h0M538.4 814.3h0M285.9 814.5h0M184.8 814.6h0M237.2 814.6h0M350.8 814.6h0M270.5 814.8h0M427.2 814.8h0M231.8 815h0M228 815.1h0M191.8 815.2h0M268.7 815.2h0M206.2 815.2h0M460.9 815.5h0M199.1 815.5h0M234.4 815.6h0M321.7 815.9h0M385.2 816.1h0M385 816.2h0M316.4 816.3h0M275.9 816.3h0M185.5 816.4h0M190.5 816.6h0M284.9 816.8h0M532.4 816.8h0M684.6 816.9h0M261.5 817.2h0M248 817.2h0M279 817.5h0M224.4 817.5h0M244.2 817.9h0M285.5 817.9h0M198.7 818h0M231.7 818h0M638.2 818.1h0M397.5 818.2h0M338.2 818.4h0M329.4 818.5h0M406.8 818.5h0M494.2 818.6h0M313.1 818.8h0M227.5 818.8h0M227.4 818.8h0M331.6 819h0M317.2 819h0M239 819.1h0M365.2 819.2h0M267.5 819.2h0M255.9 819.3h0M260.2 819.3h0M454.3 819.3h0M256.3 819.5h0M394.4 819.7h0M255.1 819.7h0M275.1 819.7h0M309.9 819.8h0M405.9 819.9h0M452.2 819.9h0M240.3 820h0M246.2 820h0M441 820.2h0M251.4 820.3h0M262.2 820.6h0M239 820.6h0M316.8 820.7h0M250 820.7h0M362.8 820.8h0M275.1 820.8h0M311.4 820.9h0M228 820.9h0M258.8 821h0M332.8 821.1h0M269.5 821.2h0M366 821.3h0M225.3 821.3h0M245.3 821.4h0M445.1 821.5h0M225.3 821.5h0M361.1 821.6h0M532.7 821.6h0M454.4 821.7h0M235.9 821.7h0M249.3 822h0M575.3 822.1h0M215.5 822.2h0M310.8 822.4h0M232.8 822.4h0M201.4 822.7h0M471.7 822.9h0M248.8 822.9h0M281.6 823.1h0M261.6 823.1h0M276.3 823.5h0M307 823.8h0M261.3 824h0M210.8 824h0M267.8 824.1h0M294.9 824.1h0M263.4 824.3h0M317.9 824.5h0M255.9 824.6h0M270.2 824.9h0M253.4 824.9h0M225.6 825h0M248.7 825.1h0M443.8 825.1h0M261 825.3h0M275.1 825.3h0M245.1 825.3h0M239.5 825.4h0M279.9 825.4h0M263.1 825.5h0M360.2 825.5h0M232 825.6h0M457.7 825.8h0M287.6 825.8h0M185.1 825.9h0M258 826h0M224.7 826.1h0M250.7 826.1h0M416.9 826.2h0M324.9 826.2h0M278.8 826.3h0M203.7 826.5h0M251 826.7h0M443.4 826.7h0M210.3 826.8h0M216.4 826.8h0M332.9 826.9h0M319.4 826.9h0M295.6 827.2h0M202.5 827.3h0M364.6 827.4h0M504 827.5h0M333.1 827.5h0M218.4 827.6h0M299.7 827.6h0M687.3 827.6h0M231.3 827.6h0M360.6 827.6h0M240.9 827.6h0M202.1 827.7h0M263.8 827.8h0M228.8 827.8h0M386.8 827.8h0M339.5 828.1h0M230.7 828.4h0M248.9 828.4h0M204.7 828.5h0M203.4 828.5h0M220.1 828.5h0M209.6 828.6h0M268.9 828.6h0M418.2 828.7h0M425.3 828.7h0M188.1 828.9h0M310.9 828.9h0M376.7 829h0M266.1 829h0M239.2 829h0M488.5 829.4h0M227.7 829.4h0M375.7 829.5h0M339.9 829.5h0M268.3 829.6h0M215.4 829.6h0M214.8 829.7h0M270.1 829.7h0" stroke="#0000ff" stroke-width="8.40" stroke-linecap="round" fill="none"/>
<path d="M165.8 829.9h0M221.4 830.4h0M298.8 830.6h0M249 830.7h0M277.2 830.7h0M237.8 831.1h0M272.9 831.2h0M172.4 831.4h0M276.2 831.5h0M293.9 831.6h0M267.6 831.6h0M301.4 831.8h0M367.9 831.8h0M228.8 831.9h0M285.9 832.2h0M296.1 832.3h0M208.8 832.4h0M347.2 832.7h0M281.7 832.7h0M264.7 832.7h0M936.2 832.9h0M415 832.9h0M443.8 833.1h0M233.6 833.2h0M240 833.4h0M279.6 833.5h0M206.3 833.5h0M234.2 833.5h0M255.5 833.5h0M324.2 833.5h0M215.1 833.6h0M245.6 833.6h0M187.8 833.8h0M238.2 834h0M284 834.1h0M310.1 834.3h0M282.5 834.3h0M273.8 834.3h0M277.4 834.6h0M210.3 834.6h0M390.6 834.7h0M321.4 834.9h0M241.9 834.9h0M232.6 835h0M206 835.1h0M434.1 835.2h0M219.5 835.3h0M268.2 835.3h0M243.4 835.3h0M272.7 835.4h0M271.4 835.4h0M271.5 835.5h0M177 835.7h0M255.5 835.7h0M206.8 835.7h0M222.5 835.9h0M288.1 836.1h0M308 836.1h0M551.2 836.1h0M218.1 836.2h0M243.3 836.3h0M246.8 836.3h0M249.1 836.4h0M369.2 836.5h0M187.3 836.5h0M234.6 836.8h0M232.9 837.1h0M440.7 837.3h0M203.4 837.4h0M219.5 837.4h0M284 837.4h0M404.3 837.5h0M398.3 837.6h0M295.9 837.6h0M319 837.7h0M209.9 837.9h0M237.2 838.1h0M388.7 838.2h0M250 838.3h0M449.3 838.3h0M187.3 838.3h0M226 838.3h0M210.7 838.4h0M297 838.4h0M248.8 838.4h0M168.6 838.5h0M309.9 838.5h0M389.3 838.6h0M254.2 838.6h0M333.8 838.8h0M218.2 838.9h0M184.5 839h0M178.4 839.1h0M287 839.1h0M182.5 839.2h0M268.1 839.2h0M574.5 839.3h0M225.2 839.3h0M232.7 839.6h0M238.9 839.8h0M273 839.8h0M422.5 840h0M406.2 840.1h0M202.6 840.1h0M217.2 840.1h0M194.9 840.2h0M327 840.2h0M280.1 840.2h0M193 840.2h0M207.2 840.3h0M242.7 840.4h0M216.1 840.4h0M353.6 840.4h0M329.5 840.5h0M269.2 840.5h0M275.4 840.8h0M224.6 840.8h0M339.8 840.9h0M517.1 840.9h0M270.4 841h0M280.9 841h0M231.2 841h0M182.7 841.1h0M358.6 841.1h0M183.1 841.1h0M199.5 841.2h0M225.3 841.2h0M173.4 841.3h0M258.7 841.3h0M226 841.4h0M211 841.5h0M175.8 841.5h0M261.6 841.6h0M250.4 841.6h0M370 841.6h0M228.1 841.8h0M542.3 841.8h0M170.1 841.8h0M225.8 842h0M267.1 842.1h0M392 842.4h0M344.6 842.4h0M273.8 842.4h0M187.1 842.5h0M173.4 842.6h0M188 842.7h0M170.1 842.7h0M273 842.7h0M190.6 842.8h0M213.4 842.8h0M191.7 842.8h0M316.3 842.9h0M197.1 843h0M173.3 843h0M236.3 843h0M180.2 843h0M316.5 843.2h0M315.8 843.4h0M390 843.5h0M262.8 843.5h0M379.9 843.6h0M258.7 843.6h0M338.4 843.7h0M223.9 843.9h0M184.8 844h0M369.7 844.2h0M351.7 844.2h0M273.5 844.7h0M263.4 844.8h0M352.1 844.9h0M227.6 844.9h0M411.8 844.9h0M215.7 844.9h0M309.4 845h0M222.9 845h0M240.5 845.1h0M213.3 845.3h0M210.3 845.4h0M179.6 845.6h0M172.3 845.7h0M323.8 845.7h0M361.2 845.8h0M198.9 845.8h0M210.5 845.8h0M272.4 845.8h0M372.4 846h0M238.6 846.1h0M263.2 846.3h0M266.4 846.3h0M329.4 846.3h0M319.3 846.3h0M223.2 846.4h0M279.8 846.4h0M209.3 846.6h0M212.4 846.8h0M660.7 846.8h0M674 846.8h0M247.6 846.8h0M188 846.9h0M323 846.9h0M214 847h0M372.4 847h0M403.5 847h0M267.8 847h0M263.1 847h0M222.1 847h0M197.2 847.1h0M188.6 847.1h0M343.2 847.2h0M169.8 847.3h0M195.3 847.3h0M202.9 847.6h0M188.2 847.6h0M248 847.7h0M186.3 847.8h0M289 847.8h0M224.7 847.8h0M355.2 847.9h0M329.2 847.9h0M267.2 848h0M184.1 848h0M281 848.1h0M284.8 848.1h0M213.3 848.2h0M269.1 848.3h0M202.7 848.3h0M394.3 848.3h0M199.5 848.5h0M211.4 848.5h0M301.7 848.5h0M275.7 848.5h0M269.7 848.6h0M174.1 848.7h0M228.7 848.7h0M174.1 848.7h0M361.1 848.8h0M555.7 848.8h0M202.3 848.8h0M233.2 849h0M207.6 849.1h0M379.8 849.1h0M274.8 849.1h0M241.6 849.4h0M355.6 849.5h0M228.7 849.5h0M285.2 849.6h0M241.4 849.6h0M278.9 849.6h0M388.4 849.7h0M330.7 849.8h0M242.6 850h0M467.8 850.3h0M281.3 850.3h0M211.2 850.4h0M304.7 850.5h0M225.5 850.5h0M194.4 850.6h0M568.9 850.6h0M174.6 850.7h0M177.9 850.8h0M277.1 851h0M255.4 851.2h0M192.8 851.5h0M260.7 851.6h0M188 851.6h0M330.6 851.6h0M265.8 851.8h0M255.7 852h0M190.4 852h0M425.1 852.1h0M189.4 852.2h0M234.1 852.2h0M287.1 852.3h0M221.2 852.3h0M223.9 852.3h0M266 852.3h0M172.7 852.4h0M217 852.5h0M295.1 852.5h0M273.6 852.8h0M376.2 852.8h0M281.3 852.8h0M248.9 852.8h0M273.2 852.9h0M195.4 853h0M189 853h0M297.6 853h0M182.4 853h0M229.1 853.1h0M185.6 853.2h0M217.8 853.2h0M209.1 853.3h0M165.8 853.5h0M291.8 853.5h0M247.4 853.6h0M370.6 853.6h0M249.3 853.6h0M288.4 853.6h0M169.4 853.7h0M173.6 853.8h0M179.5 853.8h0M165.8 853.8h0M269.7 853.9h0M293.5 853.9h0M169.6 853.9h0M278.1 854h0M176.4 854h0M232.7 854.2h0M208.1 854.2h0M204.5 854.2h0M235.8 854.5h0M263 854.5h0M199.7 854.6h0M201 854.6h0M289.8 854.7h0M285.7 854.7h0M296.1 854.7h0M321.4 854.8h0M212.6 854.8h0M285.4 854.8h0M234.3 854.9h0M265.4 854.9h0M269.9 855h0M193.7 855h0M194.7 855h0M188.9 855h0M251.7 855h0M276.3 855h0M205.8 855h0M188.6 855h0M245.4 855.1h0M233.8 855.1h0M288.5 855.1h0M273.5 855.1h0M256.1 855.2h0M171.5 855.2h0M264.9 855.2h0M243.3 855.2h0M239.5 855.2h0M165.8 855.2h0M200.7 855.2h0M226.5 855.3h0M197.8 855.3h0M165.9 855.3h0M200 855.3h0M189.7 855.3h0M269.9 855.3h0M252 855.3h0M303.6 855.4h0M374.8 855.4h0M369.1 855.4h0M295.8 855.4h0M199.2 855.4h0M181.1 855.4h0M179.1 855.4h0M225.6 855.4h0M254.7 855.4h0M199.1 855.5h0M338.6 855.5h0M251.9 855.5h0M258.1 855.5h0M257.9 855.6h0M286.6 855.6h0M193.3 855.6h0M278.1 855.6h0M190.8 855.6h0M252.4 855.7h0M263.7 855.7h0M238.5 855.7h0M275.5 855.8h0M171.8 855.8h0M286.7 855.8h0M210.9 855.8h0M260.4 855.8h0M207.6 855.8h0M290.4 855.9h0M233.7 855.9h0M248.1 855.9h0M244.4 855.9h0M382.5 855.9h0M214.7 856h0M271.7 856.1h0M165.8 856.2h0M216.8 856.2h0M217.2 856.3h0M249.5 856.4h0M228.6 856.6h0M287.5 856.7h0M295.5 856.7h0M173.4 856.7h0M260.1 856.7h0M236.5 856.8h0M270.1 856.9h0M263.7 856.9h0M189.2 856.9h0M199.1 856.9h0M321.4 857h0M317.2 857h0M319.9 857.1h0M250.2 857.1h0" stroke="#0000ff" stroke-width="8.40" stroke-linecap="round" fill="none"/>
<path d="M401.2 857.2h0M411.8 857.2h0M425 857.2h0M433.3 857.2h0M441.2 857.2h0M467.8 857.2h0M518.5 857.2h0M619.8 857.2h0M381.1 857.3h0M243 857.3h0M373.5 857.4h0M244.1 857.4h0M248.2 857.4h0M197.4 857.4h0M341.7 857.4h0M165.8 857.5h0M194.4 857.6h0M246.9 857.6h0M221.3 857.7h0M230.5 857.7h0M360.7 857.7h0M195.2 857.8h0M367.6 857.8h0" stroke="#0000ff" stroke-width="8.40" stroke-linecap="round" fill="none"/>
<line x1="124.20" y1="921.70" x2="1612.02" y2="-46.02" stroke="#000" stroke-width="3.94" stroke-dasharray="15.34 6.64"/>
</g>
<rect x="124.20" y="21.40" width="1851.10" height="900.30" fill="none" stroke="#1c1c1c" stroke-width="2.76"/>
<path d="M124.20 921.70v9.90M355.59 921.70v9.90M586.98 921.70v9.90M818.36 921.70v9.90M1049.75 921.70v9.90M1281.14 921.70v9.90M1512.53 921.70v9.90M1743.91 921.70v9.90M1975.30 921.70v9.90M124.20 921.70h-9.90M124.20 771.65h-9.90M124.20 621.60h-9.90M124.20 471.55h-9.90M124.20 321.50h-9.90M124.20 171.45h-9.90M124.20 21.40h-9.90" stroke="#1c1c1c" stroke-width="2.76" fill="none"/>
<text x="124.20" y="961.70" text-anchor="middle" textLength="16.4" lengthAdjust="spacingAndGlyphs">0</text>
<text x="355.59" y="961.70" text-anchor="middle" textLength="49.3" lengthAdjust="spacingAndGlyphs">100</text>
<text x="586.98" y="961.70" text-anchor="middle" textLength="49.3" lengthAdjust="spacingAndGlyphs">200</text>
<text x="818.36" y="961.70" text-anchor="middle" textLength="49.3" lengthAdjust="spacingAndGlyphs">300</text>
<text x="1049.75" y="961.70" text-anchor="middle" textLength="49.3" lengthAdjust="spacingAndGlyphs">400</text>
<text x="1281.14" y="961.70" text-anchor="middle" textLength="49.3" lengthAdjust="spacingAndGlyphs">500</text>
<text x="1512.53" y="961.70" text-anchor="middle" textLength="49.3" lengthAdjust="spacingAndGlyphs">600</text>
<text x="1743.91" y="961.70" text-anchor="middle" textLength="49.3" lengthAdjust="spacingAndGlyphs">700</text>
<text x="1975.30" y="961.70" text-anchor="middle" textLength="49.3" lengthAdjust="spacingAndGlyphs">800</text>
<text x="103.20" y="931.70" text-anchor="end" textLength="16.4" lengthAdjust="spacingAndGlyphs">0</text>
<text x="103.20" y="781.65" text-anchor="end" textLength="49.3" lengthAdjust="spacingAndGlyphs">100</text>
<text x="103.20" y="631.60" text-anchor="end" textLength="49.3" lengthAdjust="spacingAndGlyphs">200</text>
<text x="103.20" y="481.55" text-anchor="end" textLength="49.3" lengthAdjust="spacingAndGlyphs">300</text>
<text x="103.20" y="331.50" text-anchor="end" textLength="49.3" lengthAdjust="spacingAndGlyphs">400</text>
<text x="103.20" y="181.45" text-anchor="end" textLength="49.3" lengthAdjust="spacingAndGlyphs">500</text>
<text x="103.20" y="31.40" text-anchor="end" textLength="49.3" lengthAdjust="spacingAndGlyphs">600</text>
<text x="1049.75" y="1000.70" text-anchor="middle" textLength="372.8" lengthAdjust="spacingAndGlyphs">Observed Discharge (m³/s)</text>
<text transform="translate(33.00 471.55) rotate(-90)" text-anchor="middle" textLength="370.7" lengthAdjust="spacingAndGlyphs">Predicted Discharge (m³/s)</text>
<rect x="1677.40" y="35.20" width="284.60" height="50.10" rx="6.08" fill="#fff" fill-opacity="0.8" stroke="#cccccc" stroke-width="2.76"/>
<circle cx="1715.70" cy="60.30" r="4.20" fill="#0000ff"/>
<text x="1768.00" y="66.90" textLength="181.0" lengthAdjust="spacingAndGlyphs">Training Data</text>
<rect x="1684.80" y="95.50" width="287.80" height="210.50" fill="#fff" fill-opacity="0.8" stroke="#1a1a1a" stroke-width="2.76"/>
<text x="1697.60" y="129.40" textLength="210.7" lengthAdjust="spacingAndGlyphs">Train R^2: 0.72</text>
<text x="1697.60" y="161.40" textLength="245.1" lengthAdjust="spacingAndGlyphs">Train RMSE: 76.58</text>
<text x="1697.60" y="193.40" textLength="227.9" lengthAdjust="spacingAndGlyphs">Train MAE: 54.21</text>
<text x="1697.60" y="225.40" textLength="260.5" lengthAdjust="spacingAndGlyphs">Train MSE: 5863.87</text>
<text x="1697.60" y="257.40" textLength="201.4" lengthAdjust="spacingAndGlyphs">Train MAPE: inf</text>
<text x="1697.60" y="289.40" textLength="204.6" lengthAdjust="spacingAndGlyphs">Train PBIAS: inf</text>
<g clip-path="url(#c1)" fill="#0000ff">
<path d="M1425.2 1271.8h0M1391.9 1282.8h0M1463.8 1290.8h0M1466.5 1295.8h0M1427.9 1299.3h0M1508.4 1307.6h0M1439.1 1310h0M1184.8 1313.2h0M1201.9 1313.2h0M1256.8 1313.2h0M1486 1313.2h0M955.9 1318h0M1306.6 1318h0M897.8 1323.8h0M1309.3 1326.5h0M1519 1326.5h0M1561.1 1326.5h0M1204.5 1329.7h0M1251.4 1329.7h0M1337.2 1329.7h0M1414 1329.7h0M1182.7 1332.3h0M1303.1 1332.3h0M911.3 1335.3h0M947.3 1335.3h0M1395.4 1335.3h0M1381.2 1340.3h0M1491.8 1340.3h0M980.4 1343.3h0M1207.2 1343.3h0M1427.9 1343.3h0M991.3 1345.9h0M1611 1346.2h0M1190.7 1348.6h0M1331.4 1348.6h0M1541.1 1348.6h0M897.8 1351.5h0M925.2 1351.5h0M1224 1351.5h0M1251.4 1351.5h0M1389.2 1351.5h0M466.5 1352.1h0M1193.3 1353.9h0M530.5 1354.2h0M1342.6 1354.2h0M1488.6 1354.2h0M1358.6 1356.9h0M922.5 1359.8h0M930.5 1359.8h0M953.2 1359.8h0M1243.4 1359.8h0M1265.3 1359.8h0M1312.5 1359.8h0M1497.2 1359.8h0M1355.9 1360.6h0M1016.6 1365.4h0M1188 1365.4h0M1215.4 1365.4h0M1223.4 1365.4h0M1375.9 1365.4h0M1353.2 1365.9h0M748.8 1368.1h0M1367.4 1368.1h0M803.9 1370.7h0M820.5 1370.7h0M1091.2 1370.7h0M1234.6 1373.7h0M936.4 1376.3h0M1395.4 1376.6h0M1401.2 1376.6h0M1292.7 1378.7h0M1212.8 1379.3h0M1256.8 1379.3h0M1320.5 1379.3h0M1135.8 1381.9h0M1214.6 1381.9h0M1383.9 1381.9h0M740.5 1384.6h0M1295.4 1384.6h0M806.6 1387.2h0M963.8 1387.2h0M969.2 1387.2h0M1223.4 1387.2h0M1303.9 1387.2h0M1359.1 1387.8h0M1265.3 1390.4h0M1223.4 1392.6h0M1447.3 1393.1h0M870 1395.8h0M875.9 1395.8h0M883.9 1395.8h0M1058.5 1395.8h0M1160.3 1395.8h0M1179.7 1395.8h0M1180 1395.8h0M1237.3 1395.8h0M809.3 1398.4h0M1022 1398.4h0M1111 1398.4h0M1248.8 1398.4h0M1270.6 1398.4h0M1275.9 1398.4h0M1309.3 1398.4h0M1436.4 1398.4h0M847.9 1401.4h0M859.1 1401.4h0M1083.3 1401.4h0M1290.1 1401.4h0M1248.8 1401.9h0M1436.4 1401.9h0M1342.6 1404h0M1378.6 1404h0M1588.3 1404h0M1063.8 1404.6h0M1121.6 1404.6h0M770.6 1406.7h0M1035.8 1406.7h0M1207.2 1406.7h0M1364.4 1406.7h0M1411.3 1406.7h0M1499.8 1406.7h0M903.3 1409.9h0M1262.6 1409.9h0M1224 1412.3h0M1226.6 1412.3h0M701.9 1415h0M754.1 1415h0M1193.3 1415h0M740.5 1418.2h0M867.4 1418.2h0M1486 1418.2h0M801.3 1420.6h0M1019.8 1420.6h0M422.5 1420.8h0M1111 1420.8h0M1591.2 1420.8h0M1013.7 1423.2h0M1204.5 1423.2h0M1224 1423.2h0M1309.3 1423.2h0M820.5 1426.2h0M873.2 1426.2h0M1254.1 1426.2h0M1331.4 1426.2h0M1533.1 1426.2h0M726.6 1428.8h0M803.9 1428.8h0M1179.7 1428.8h0M1182.7 1428.8h0M1472.4 1428.8h0M961.2 1431.8h0M966.5 1431.8h0M1273.3 1431.8h0M1530.5 1431.8h0M1102.4 1434.4h0M1184.8 1434.4h0M812.5 1437.1h0M837.2 1437.1h0M991.8 1437.1h0M1111 1437.1h0M1121.6 1437.1h0M1212.8 1437.1h0M1229.3 1437.1h0M1347.9 1437.1h0M1079.8 1440h0M1146.4 1440h0M1169.1 1440h0M1386.6 1440h0M574.5 1442.7h0M637.9 1442.7h0M1130.4 1442.7h0M1196 1442.7h0M1375.9 1442.7h0M1395.4 1442.7h0M759.4 1443.3h0M987.6 1443.4h0M1155.3 1444h0M814.3 1444.1h0M1006.8 1444.2h0M746.2 1444.3h0M1070.1 1444.3h0M1036 1444.4h0M1077.8 1444.7h0M1312.5 1445.4h0M1342.6 1445.4h0M1029.6 1445.7h0M1044 1445.9h0M730.2 1446h0M1017.4 1446.1h0M988.3 1446.5h0M1100.7 1446.7h0M1075.2 1446.8h0M1093.1 1447.1h0M1188 1448h0M833 1448.1h0M309.3 1448.6h0M1361.8 1448.6h0M1070.6 1449.2h0M955.1 1449.3h0M1092.5 1449.7h0M1138.4 1450.7h0M1058.8 1450.9h0M1138.2 1451.2h0M1268 1451.2h0M955 1451.2h0M890.9 1452h0M1066 1452.2h0M1037.8 1452.6h0M607.8 1453.9h0M1212.8 1453.9h0M1256.8 1453.9h0M1373.2 1453.9h0M1494.5 1453.9h0M1018.5 1454.2h0M882.4 1454.3h0M950.4 1454.4h0M784.9 1454.9h0M766.9 1456.2h0M1067.1 1456.4h0M643.8 1456.5h0M1190.7 1456.5h0M1243.2 1456.5h0M1574.5 1456.5h0M697.8 1456.7h0M824.7 1456.8h0M1046.9 1457.4h0M1047.9 1457.4h0M1103.8 1457.5h0M1121.6 1457.5h0M959.9 1458h0M1128.9 1458.1h0M1108.3 1458.2h0M1013.8 1458.2h0M1070.7 1459.1h0M956.2 1459.2h0M1212.8 1459.2h0M1220.8 1459.2h0M1015.9 1460.1h0M1013.5 1461.3h0M1142.7 1461.4h0M796.9 1461.8h0M632.6 1462.4h0M665.6 1462.4h0M1265.3 1462.4h0M991.7 1462.8h0M1140.3 1462.9h0M1067.6 1463.9h0M819.7 1464.3h0M1068.4 1464.6h0M1112.5 1464.6h0M1083.3 1464.7h0M910.2 1465h0M1086.3 1465.5h0M913.8 1465.6h0M1148.8 1466h0M854.9 1466.1h0M1116.2 1466.7h0M1085.5 1467.2h0M1188 1467.2h0M1522 1467.5h0M683.4 1468.1h0M746.4 1468.2h0M1113.3 1468.6h0M1036.6 1468.6h0M969.4 1468.8h0M955.3 1469.3h0M1141.6 1470.3h0M1160.1 1470.4h0M342.6 1470.4h0M643.8 1470.4h0M679.7 1470.4h0M1320.5 1470.4h0M1367.4 1470.4h0M1381.2 1470.4h0M1023.8 1470.6h0M1079.7 1470.7h0M939.8 1470.8h0M1097.3 1470.9h0M994.8 1471.3h0M989.8 1471.4h0M1006 1471.4h0M1042.1 1471.5h0M1162 1471.9h0M797.5 1472.1h0M855.3 1472.2h0M1098 1472.3h0M1145 1472.7h0M615.8 1473.1h0M662.9 1473.1h0M1188 1473.1h0M1204.5 1473.1h0M1005.1 1473.3h0M964.5 1473.4h0M1038.6 1473.6h0M1046.2 1473.9h0M1060.8 1474.3h0M1014.3 1474.9h0M949.8 1474.9h0M992.7 1475.1h0M995.4 1475.5h0M1121.8 1475.7h0M1334.1 1475.7h0M1001.7 1477.5h0M881.3 1478.3h0M1188 1478.4h0M1030 1478.5h0M712.1 1480.6h0M439.1 1481.3h0M635.2 1481.3h0M934.6 1481.4h0M1015.3 1481.7h0M1061.3 1482.4h0M777.2 1483.8h0M896.4 1484.1h0M1218.1 1484.5h0M1347.9 1484.5h0M910.7 1484.7h0M1005.7 1485h0M1041.6 1486h0M1059.1 1486.8h0M1210.1 1487.2h0M1522 1487.2h0M1144 1488.1h0M1152.3 1488.2h0M909.6 1488.9h0M902.2 1489h0M1110.5 1489.1h0M1150.2 1489.3h0M907.2 1489.6h0M640.6 1489.9h0M1254.1 1489.9h0M1309.3 1489.9h0M1535.8 1489.9h0M1176.7 1490.1h0M1067 1490.4h0M982.9 1490.7h0M1035.6 1491h0M682.8 1491.6h0M854.8 1491.6h0M974.5 1492.4h0M444.7 1492.5h0M640.6 1492.5h0M1254.1 1492.5h0M1024 1492.6h0M930.1 1492.8h0M1488.6 1492.8h0M784.7 1493.2h0M1072.1 1493.6h0M1166.7 1493.7h0M1163.8 1494h0M981.3 1494.2h0M1075.1 1494.4h0M773.2 1494.5h0M705.5 1494.7h0M1220.8 1495.5h0M1229.3 1495.5h0M1395.4 1495.5h0M1422.5 1495.5h0M1055 1495.9h0M941.7 1496.4h0M1112.5 1496.5h0M848.6 1496.7h0M836.6 1496.9h0M907.5 1497.1h0M1089.2 1497.5h0M1094 1497.6h0M1081 1497.7h0M824.9 1497.7h0M1051.3 1498h0M1284.5 1498.1h0M1331.4 1498.1h0M1378.6 1498.1h0M1129.3 1498.2h0M703.9 1499h0M1035 1500h0M874.1 1500h0M730.4 1500.5h0M1011.5 1500.6h0M1020.5 1500.6h0M742.3 1500.9h0M864.9 1500.9h0M881.6 1501.1h0M1004.8 1501.2h0M419.9 1501.3h0M447.3 1501.3h0M1279.1 1501.3h0M1373.2 1501.3h0M691.9 1501.4h0M1055.7 1501.4h0M779.2 1502.8h0M535.8 1503.7h0M627 1503.7h0M1292.7 1503.7h0M739.6 1503.8h0M722.3 1504h0M993.4 1504.1h0M798.6 1504.3h0M761.4 1504.6h0M1022.7 1504.7h0M963.3 1504.9h0" stroke="#0000ff" stroke-width="8.40" stroke-linecap="round" fill="none"/>
<path d="M793 1505h0M760 1505.6h0M816.8 1505.7h0M903.5 1506.4h0M552.3 1506.7h0M674.4 1506.7h0M679.7 1506.7h0M1196 1506.7h0M1373.2 1506.7h0M1017.3 1507.2h0M975.5 1507.3h0M1149 1507.4h0M819.9 1507.7h0M1057 1507.7h0M1095.1 1508.8h0M963.4 1508.9h0M1138.5 1509h0M876.7 1509.2h0M1184.8 1509.3h0M1232 1509.3h0M798.7 1509.3h0M874 1510.2h0M818.2 1510.4h0M943.8 1510.4h0M834.3 1511.4h0M1347.9 1512h0M1355.9 1512h0M691.3 1512.3h0M1106.2 1512.3h0M784.1 1512.7h0M1119.7 1512.8h0M839.7 1512.9h0M877.7 1513.1h0M682.2 1513.5h0M916.6 1513.9h0M960 1514.3h0M936.4 1514.5h0M585.7 1514.9h0M1063.1 1515.1h0M758.7 1515.1h0M758.3 1515.2h0M1001.8 1515.4h0M684.4 1515.7h0M926.2 1516.6h0M753.8 1517.1h0M425.2 1517.6h0M1508.4 1517.6h0M783.3 1517.7h0M831.4 1518.1h0M774.6 1518.4h0M860.2 1519.2h0M1030.8 1519.7h0M1020.3 1519.9h0M932.6 1519.9h0M893.1 1520.1h0M1023.4 1520.2h0M649.1 1520.5h0M792.4 1520.5h0M1158.4 1520.5h0M861.8 1520.8h0M984.2 1520.9h0M977.6 1521h0M1035.2 1521.4h0M695.2 1521.5h0M919.7 1522.1h0M778.9 1522.3h0M483.8 1523.2h0M621.6 1523.2h0M643.8 1523.2h0M1212.8 1523.2h0M1268 1523.2h0M1386.6 1523.2h0M1450.3 1523.2h0M970.8 1523.5h0M1062.9 1523.6h0M969.3 1523.7h0M935.5 1523.7h0M1069.8 1524.1h0M988.8 1524.5h0M939.7 1524.7h0M853.5 1524.8h0M1050.5 1525.1h0M804.8 1525.8h0M519 1525.8h0M552.3 1525.8h0M574.5 1525.8h0M637.9 1525.8h0M1298.1 1525.8h0M1312.5 1525.8h0M812.9 1526.5h0M942.5 1526.6h0M1112.3 1526.6h0M1024.7 1526.6h0M1070.9 1526.7h0M899.9 1526.8h0M1010.7 1526.8h0M982.7 1526.8h0M959.1 1527.9h0M839.4 1528.4h0M1106.8 1528.5h0M668.3 1528.5h0M1370 1528.5h0M1034.8 1528.5h0M1009.6 1528.6h0M1016.3 1528.6h0M1107.9 1529.1h0M902.8 1530.3h0M804.5 1530.4h0M779.7 1530.4h0M1123.8 1530.5h0M763.2 1530.6h0M891.9 1531h0M419.9 1531.2h0M574.5 1531.2h0M927.3 1531.6h0M998.8 1532.5h0M1076.1 1532.6h0M746.7 1532.6h0M1091.6 1532.7h0M1020.7 1532.9h0M923.4 1533.1h0M731.5 1533.2h0M932.9 1533.6h0M533.1 1533.8h0M1223.4 1533.8h0M851.3 1533.9h0M689.8 1534h0M778.2 1534h0M1089.1 1534.9h0M879.5 1535h0M1048 1535.1h0M621.6 1536.5h0M850.6 1537.8h0M1112.9 1538.5h0M993.8 1539.1h0M933.9 1539.6h0M453.2 1539.7h0M502.5 1539.7h0M1218.1 1539.7h0M1408.7 1539.7h0M1014.3 1540h0M788.4 1540.2h0M846.2 1541h0M985.7 1541.1h0M972.5 1541.3h0M1105.6 1542h0M837.3 1542.3h0M505.2 1542.4h0M621.6 1542.4h0M637.9 1542.4h0M1176.5 1542.6h0M747.6 1542.8h0M920.7 1542.8h0M1057.4 1543.9h0M1023 1544.3h0M1021.3 1544.3h0M909.4 1544.9h0M1149.5 1545.3h0M674.4 1545.3h0M1223.4 1545.3h0M779.2 1545.9h0M930.4 1546.2h0M998.4 1546.5h0M1061.3 1546.6h0M1043.4 1547.2h0M721 1547.4h0M1050.4 1547.5h0M856.2 1547.7h0M981.6 1547.7h0M557.9 1548h0M1290.1 1548h0M1069.6 1548.3h0M963.6 1548.4h0M1148 1548.4h0M819.9 1548.6h0M1121.8 1548.8h0M869.7 1548.9h0M1122.4 1550.1h0M957.6 1550.2h0M439.1 1550.6h0M596.6 1550.6h0M1204.5 1550.6h0M1128.5 1551.6h0M1038 1552.3h0M806.3 1552.7h0M786.1 1553h0M472.4 1553.6h0M547 1553.6h0M582.5 1553.6h0M665.6 1553.6h0M1375.9 1553.6h0M703.3 1553.9h0M692.3 1553.9h0M989.7 1554.6h0M1093.1 1554.6h0M860.9 1554.7h0M757.6 1555.7h0M353.2 1556.2h0M505.2 1556.2h0M732.3 1556.4h0M1014.9 1556.7h0M773 1557.1h0M1146.4 1557.2h0M886 1557.2h0M896 1557.6h0M1018.9 1557.7h0M846.6 1558h0M813.1 1558.3h0M1088.5 1558.4h0M742.9 1558.5h0M1056.1 1558.8h0M883.7 1559.1h0M772.3 1559.1h0M461.2 1559.2h0M483.8 1559.2h0M499.8 1559.2h0M541.1 1559.2h0M588.3 1559.2h0M744.1 1559.4h0M831.3 1559.8h0M689.8 1559.8h0M688.2 1560.2h0M690.1 1560.2h0M695 1560.4h0M866.1 1560.8h0M1132.2 1561h0M718.8 1561.1h0M1149.5 1561.1h0M779.1 1561.1h0M1089.6 1561.2h0M1044.8 1561.8h0M355.9 1561.8h0M668.3 1561.8h0M1212.8 1561.8h0M1223.4 1561.8h0M1043 1561.9h0M854.7 1561.9h0M880.8 1562.5h0M699.6 1562.7h0M964.8 1563.4h0M1054.9 1563.6h0M870.7 1563.8h0M491.8 1564.5h0M527.8 1564.5h0M602.4 1564.5h0M1198.7 1564.5h0M810.9 1564.7h0M686.8 1565h0M682.9 1565.3h0M867 1565.5h0M920.3 1565.6h0M785 1565.7h0M727.8 1566.2h0M892.4 1566.2h0M450.3 1567.2h0M632.6 1567.2h0M1234.6 1567.2h0M1174.4 1567.3h0M884.8 1567.4h0M717.3 1567.9h0M861.2 1568.2h0M834.7 1568.4h0M1141.6 1568.4h0M989.9 1568.6h0M853.9 1568.8h0M1089.8 1569h0M806 1569.3h0M1005.4 1569.7h0M1323.1 1569.8h0M958.1 1570.1h0M800.6 1570.1h0M649.1 1570.4h0M1182.7 1570.4h0M698.2 1570.4h0M818.9 1571.9h0M698.7 1572.7h0M701 1573h0M483.8 1573h0M670.9 1573h0M1089.3 1573.2h0M717.7 1573.4h0M901.9 1573.7h0M947.9 1574.5h0M1015.1 1574.8h0M1065.7 1575.4h0M677.1 1575.7h0M1331.4 1575.7h0M660 1576.9h0M774.7 1576.9h0M670.4 1576.9h0M668.3 1577h0M1041.5 1577.2h0M675 1577.4h0M743 1577.5h0M792.1 1577.9h0M710.4 1578h0M516.7 1578.6h0M570.7 1578.7h0M575 1578.7h0M596.2 1578.7h0M621.2 1578.8h0M585.7 1578.8h0M598.5 1578.9h0M620.8 1578.9h0M749.3 1579h0M913.4 1579h0M553 1579.1h0M779 1579.9h0M557.9 1580h0M815.1 1580.2h0M670 1580.3h0M534.5 1580.5h0M850 1580.9h0M451.9 1581h0M925.9 1581h0M1180 1581h0M679.1 1581.3h0M480.5 1581.4h0M761.5 1581.4h0M770.7 1581.5h0M909 1582h0M444.2 1582.1h0M749.2 1582.3h0M444.3 1582.4h0M1021.4 1582.5h0M861.8 1582.6h0M1069.9 1582.8h0M638.1 1583.1h0M527.5 1583.2h0M577 1583.7h0M509.7 1583.8h0M763.9 1583.8h0M1350.6 1583.9h0M862.1 1584.2h0M557.2 1584.3h0M881.5 1584.4h0M761 1584.4h0M882.5 1584.4h0M560.8 1584.6h0M845.4 1584.7h0M1067 1584.7h0M853.9 1584.8h0M979.2 1584.9h0M710.2 1585h0M713.6 1585.2h0M676.7 1585.3h0M922.8 1585.5h0M639.9 1585.6h0M639.5 1585.7h0M1009 1586.1h0M425.2 1586.6h0M648.3 1586.7h0M530.7 1586.8h0M634.3 1587.1h0M702.1 1587.4h0M546.8 1587.5h0M626.9 1587.8h0M539.1 1587.9h0M1090.6 1587.9h0M542.6 1588.2h0M918.8 1588.4h0M616.9 1588.5h0M700.8 1588.8h0M445.7 1588.8h0M628.8 1588.8h0M808.6 1589h0M1118.9 1589.2h0M648 1589.3h0M654.3 1589.4h0M914.4 1590.1h0M490.3 1590.5h0M708.4 1590.5h0M568.4 1590.7h0M727 1590.9h0M567.7 1590.9h0M1027.9 1590.9h0M725.3 1591.2h0M658.5 1591.2h0M704.9 1591.4h0M673 1591.4h0M843.3 1591.6h0M1003.2 1591.8h0M1182.7 1591.9h0M1268 1591.9h0M568.9 1592h0M615.9 1592h0M847.1 1592.1h0M829.4 1592.4h0M900.6 1592.5h0M654.1 1592.6h0M548.3 1592.8h0M536.3 1593.3h0M644.6 1593.3h0M767.1 1593.3h0M897 1593.5h0M909.1 1593.6h0M626.9 1593.7h0M660.3 1593.9h0M633 1594.1h0M534.1 1594.2h0" stroke="#0000ff" stroke-width="8.40" stroke-linecap="round" fill="none"/>
<path d="M766.1 1594.3h0M468.3 1594.4h0M574.3 1594.6h0M1347.9 1594.6h0M1417.2 1594.6h0M840.6 1594.8h0M483.9 1594.9h0M490.7 1595.1h0M511.4 1595.2h0M870.9 1595.3h0M865.9 1595.9h0M597.9 1595.9h0M1166.8 1596.5h0M1171.1 1597.1h0M1009.3 1597.2h0M497.1 1597.5h0M492.8 1597.6h0M1159.7 1597.7h0M504.7 1597.8h0M386.6 1597.8h0M732.7 1598.1h0M772.5 1598.3h0M1046.2 1598.3h0M813.5 1598.5h0M622.1 1598.6h0M590 1598.8h0M745.1 1599.1h0M515.6 1599.4h0M803.7 1599.5h0M1127.8 1599.6h0M945 1599.7h0M693.6 1599.8h0M391.9 1600.5h0M435.9 1600.5h0M1193.3 1600.5h0M1284.5 1600.5h0M1339.4 1600.5h0M1472.4 1600.5h0M461 1600.5h0M638.8 1600.6h0M517.2 1600.6h0M1027.8 1600.8h0M828.1 1600.8h0M643.7 1601.1h0M705.3 1601.2h0M749 1601.5h0M802.2 1601.7h0M1027.1 1601.8h0M616 1602h0M529.2 1602h0M717.5 1602h0M777.5 1602.5h0M930.1 1602.7h0M796.5 1602.7h0M748.7 1602.7h0M900.2 1602.7h0M822.9 1602.9h0M1012.4 1602.9h0M1136.5 1603.1h0M301.3 1603.1h0M551.5 1603.5h0M736.2 1603.6h0M1116.7 1603.6h0M770.3 1604h0M573.4 1604.1h0M686.7 1604.2h0M958.8 1604.3h0M492.3 1604.7h0M757.1 1604.8h0M634.9 1604.9h0M503.8 1605h0M607.3 1605.1h0M538.3 1605.2h0M488.3 1605.2h0M892.3 1605.4h0M702.5 1605.7h0M446.2 1605.7h0M334.1 1605.8h0M786.4 1605.9h0M973.2 1605.9h0M1010.1 1606.4h0M450.9 1606.4h0M587.7 1606.6h0M525.2 1606.8h0M741.9 1606.8h0M607.2 1607.1h0M527.7 1607.2h0M1064.9 1607.3h0M1166.4 1607.5h0M637.5 1608h0M613.4 1608.4h0M1162.5 1608.4h0M417.2 1608.5h0M532.6 1608.5h0M645.2 1608.9h0M856.7 1609h0M726.3 1609.1h0M674.8 1609.1h0M514.4 1609.2h0M715.3 1609.3h0M987.6 1609.3h0M843.7 1609.4h0M674.5 1609.9h0M1029.6 1610.1h0M937.6 1610.1h0M874.3 1610.1h0M810.2 1610.1h0M957.1 1610.2h0M560.4 1610.4h0M887.4 1610.6h0M824.4 1611h0M714.3 1611.2h0M483.1 1611.5h0M752.2 1611.5h0M784.3 1611.6h0M533.5 1611.7h0M433.2 1611.7h0M1254.1 1611.7h0M1265.3 1611.7h0M1116.4 1612.3h0M661.1 1612.3h0M969.5 1612.3h0M744.2 1612.6h0M610 1612.6h0M780.9 1613h0M837.3 1613h0M1105.1 1613h0M773.4 1613.6h0M642.2 1613.6h0M970.4 1613.7h0M1048.7 1613.9h0M654.5 1614h0M632.4 1614h0M826.9 1614.1h0M1099.1 1614.1h0M1041.2 1614.2h0M370 1614.3h0M373.2 1614.3h0M391.9 1614.3h0M1325.8 1614.3h0M1345.2 1614.3h0M1026.2 1614.6h0M840.7 1615.1h0M653.5 1615.3h0M577.9 1615.6h0M833.7 1615.7h0M1201.9 1616.5h0M725.7 1616.5h0M585 1616.6h0M1153.1 1616.9h0M632.4 1617.2h0M713.8 1617.3h0M673.8 1617.4h0M956.3 1617.8h0M561.4 1617.8h0M733.4 1618.6h0M1015.4 1619h0M518.2 1619.3h0M957.8 1619.4h0M799.5 1619.4h0M450.8 1619.5h0M1337.2 1619.9h0M1591.2 1619.9h0M795.8 1620h0M1057.4 1620.1h0M877.7 1620.3h0M704.3 1620.4h0M526 1620.6h0M802.3 1620.7h0M659.2 1620.8h0M737.4 1621.1h0M746.5 1621.2h0M536.8 1621.3h0M770.2 1621.5h0M543.7 1621.6h0M720.5 1621.7h0M654.5 1621.9h0M702.8 1622h0M753.1 1622.1h0M464.5 1622.3h0M1022.2 1622.5h0M563.9 1622.9h0M726.8 1623h0M696.2 1623h0M347.9 1623.1h0M353.2 1623.1h0M364.4 1623.1h0M825.6 1623.4h0M950.7 1624.2h0M603.7 1624.4h0M752.9 1624.8h0M977 1625h0M502.3 1625.2h0M1009.7 1625.5h0M359.1 1625.8h0M680.8 1625.8h0M746.3 1625.9h0M696 1626.3h0M642.5 1626.4h0M835.8 1626.5h0M497.2 1626.6h0M474.5 1626.7h0M523.7 1626.8h0M565.6 1626.9h0M867 1627h0M723.6 1627h0M791.4 1627.2h0M801.7 1627.3h0M568.4 1627.4h0M590.4 1627.4h0M814.9 1627.6h0M519.9 1627.7h0M929.2 1627.9h0M466.1 1628.1h0M555.2 1628.2h0M1204.5 1628.2h0M591.3 1628.8h0M650 1629h0M634.4 1629.1h0M775.6 1629.3h0M721.4 1629.4h0M684.5 1629.7h0M789.8 1629.8h0M807.9 1629.9h0M589.6 1630h0M554.3 1630h0M797 1630.1h0M849.8 1630.2h0M794.1 1630.6h0M699 1630.7h0M581 1630.7h0M1032.7 1630.8h0M1251.4 1630.9h0M1256.8 1630.9h0M1260 1630.9h0M1290.1 1630.9h0M1355.9 1630.9h0M670.5 1630.9h0M905.9 1630.9h0M484 1631.1h0M574.6 1631.8h0M740.9 1631.8h0M615.5 1632h0M516.9 1632h0M736.4 1632.2h0M664.7 1632.3h0M958.4 1632.9h0M452.9 1633h0M588.2 1633.1h0M1588.3 1633.5h0M827.4 1633.6h0M802.6 1633.7h0M552.6 1633.7h0M892.6 1633.8h0M521.6 1634h0M574 1634.2h0M570.8 1634.3h0M657.2 1634.4h0M603.6 1634.5h0M879.5 1634.6h0M864.4 1634.7h0M829.5 1635.5h0M798.6 1635.8h0M498.4 1635.8h0M660.1 1635.9h0M572.7 1636.2h0M674.6 1636.2h0M442.5 1636.4h0M562.8 1636.5h0M682.9 1636.9h0M623.4 1637.2h0M475.7 1637.3h0M751.2 1637.3h0M618.2 1637.4h0M790.5 1637.4h0M1064.5 1637.9h0M807.6 1638.5h0M928.8 1638.5h0M576.2 1638.6h0M1050 1638.8h0M908.4 1638.8h0M539.7 1638.9h0M353.2 1639.1h0M433.2 1639.1h0M1353.2 1639.1h0M1566.5 1639.1h0M759.6 1639.2h0M632.2 1639.5h0M949.7 1639.7h0M841.4 1639.8h0M745.1 1639.9h0M705 1640.2h0M582.3 1640.2h0M1048.5 1640.6h0M485.5 1640.7h0M504.1 1640.7h0M567.6 1640.9h0M716.5 1641.2h0M590.3 1641.4h0M796.2 1641.6h0M805.4 1641.6h0M919.1 1641.7h0M666.1 1641.9h0M595.9 1642.2h0M521.1 1642.3h0M449.2 1642.3h0M656.5 1642.4h0M556.1 1642.4h0M627.5 1643.1h0M578.7 1643.2h0M620.4 1643.3h0M487.7 1643.5h0M555.9 1643.8h0M642.6 1643.9h0M455.4 1644h0M813 1644.2h0M470.9 1644.2h0M638 1644.3h0M493.4 1644.7h0M378.6 1644.7h0M430.5 1644.7h0M769 1644.7h0M954.9 1644.9h0M479.5 1645h0M638 1645.3h0M746.3 1645.8h0M979.4 1646h0M786.1 1646h0M727.6 1646.3h0M805.4 1646.4h0M465.5 1646.7h0M648.2 1646.7h0M496.7 1647.3h0M1248.8 1647.4h0M1031.5 1647.5h0M488 1648.1h0M588.1 1648.4h0M1019.8 1648.6h0M530 1648.8h0M604.2 1648.9h0M781.6 1649.2h0M563.8 1649.5h0M730.8 1649.7h0M529.2 1649.9h0M981.7 1650.3h0M370 1650.3h0M383.9 1650.3h0M1234.6 1650.3h0M523.6 1650.5h0M558.2 1650.7h0M688.3 1651h0M471.1 1651.2h0M676.8 1651.3h0M596.9 1651.3h0M652.5 1651.5h0M892.4 1651.5h0M651.4 1651.5h0M953.4 1651.6h0M627 1651.6h0M532.7 1651.6h0M463.3 1651.9h0M694.7 1652.3h0M669.6 1652.5h0M639.6 1652.6h0M532 1652.6h0M789.3 1652.7h0M720.8 1652.7h0M320.5 1653h0M325.8 1653h0M1320.5 1653h0M1436.4 1653h0M452.4 1653h0M571.1 1653.1h0M868.4 1653.7h0M1050.1 1653.8h0M937 1653.8h0M489 1654h0M521.7 1654.2h0M514.4 1654.2h0M597.6 1654.6h0M722.7 1654.6h0M545.9 1654.6h0M484.7 1654.9h0M646.1 1655h0M689.8 1655.1h0M509.4 1655.1h0M572.6 1655.4h0M922.6 1655.4h0M342.6 1655.6h0M398.6 1655.6h0M406 1655.6h0M1218.1 1655.6h0M486.6 1655.8h0M586.9 1656.1h0M630.9 1656.2h0M665.7 1656.7h0M505.7 1656.8h0M834.3 1656.9h0M643.7 1656.9h0M596.3 1657h0" stroke="#0000ff" stroke-width="8.40" stroke-linecap="round" fill="none"/>
<path d="M839.2 1657.3h0M672.2 1657.5h0M585.4 1657.5h0M463 1657.5h0M446.3 1657.6h0M876.9 1657.7h0M967.7 1658.4h0M985.6 1658.5h0M550.1 1658.5h0M312.5 1658.6h0M353.2 1658.6h0M417.2 1658.6h0M696.3 1658.7h0M772.4 1659.3h0M1157.3 1659.3h0M861.6 1659.8h0M533.6 1659.8h0M770.6 1660h0M563.1 1660.2h0M752.3 1660.3h0M488 1660.8h0M872.2 1660.9h0M675.8 1661h0M695.2 1661h0M765.9 1661.2h0M889.6 1661.2h0M353.2 1661.2h0M574.9 1661.4h0M518 1661.5h0M525.1 1661.5h0M783 1661.6h0M533.4 1661.6h0M656.1 1661.9h0M743.2 1662.3h0M554.9 1662.3h0M1152.9 1662.5h0M844 1662.8h0M483.9 1662.9h0M1087.6 1663h0M647 1663.1h0M1043.3 1663.1h0M486.6 1663.2h0M534.5 1663.2h0M601.2 1663.3h0M555.2 1663.3h0M692.3 1663.7h0M589.2 1663.9h0M528.5 1663.9h0M662.4 1664h0M891.8 1664.1h0M546.9 1664.2h0M880.5 1664.2h0M723.8 1664.3h0M553.8 1664.4h0M833.7 1664.5h0M650.6 1664.8h0M618.9 1664.8h0M660.5 1665h0M475.5 1665h0M709.5 1665h0M498 1665.1h0M798.3 1665.5h0M643.7 1665.7h0M679.8 1665.8h0M667.4 1665.8h0M805.9 1665.8h0M641.8 1666h0M578.6 1666.1h0M605.7 1666.2h0M1094.5 1666.2h0M1115.8 1666.3h0M676.6 1666.4h0M614.7 1666.5h0M697.6 1666.5h0M568.4 1666.6h0M480.3 1666.7h0M643.4 1666.7h0M602.8 1666.8h0M480 1666.8h0M805.8 1667h0M459.2 1667h0M364.4 1667.1h0M558 1667.2h0M864.3 1667.2h0M1143.7 1667.6h0M675 1667.6h0M547.8 1667.8h0M850.8 1667.9h0M712.5 1667.9h0M843.6 1667.9h0M485.8 1668.1h0M509.8 1668.3h0M953 1668.5h0M670.6 1668.7h0M691.8 1668.8h0M748.6 1669h0M558.9 1669.1h0M898.5 1669.1h0M493.1 1669.2h0M508.6 1669.6h0M617.2 1669.6h0M759.7 1669.7h0M378.6 1669.8h0M825.3 1670h0M481.9 1670.1h0M554.5 1670.3h0M644.9 1670.4h0M1089.7 1670.7h0M670.4 1670.7h0M524.4 1671.1h0M462.8 1671.5h0M693.2 1671.7h0M669.8 1671.8h0M792.2 1672.3h0M648 1672.4h0M514.7 1672.6h0M680.8 1672.7h0M540.5 1672.8h0M1100.9 1673.1h0M587.4 1673.3h0M479.3 1674.4h0M514 1674.6h0M956.8 1674.7h0M496.2 1674.8h0M635 1674.9h0M813.8 1674.9h0M719.1 1675.1h0M317.8 1675.1h0M383.9 1675.1h0M419.9 1675.1h0M777.7 1675.4h0M629.5 1676.1h0M602.9 1676.8h0M529.8 1677.5h0M813.1 1677.5h0M702.3 1677.9h0M499.7 1678h0M611.9 1678.1h0M585.7 1678.2h0M703.5 1679.1h0M707.6 1679.2h0M646.7 1679.2h0M965.4 1679.3h0M817.8 1679.5h0M637.9 1679.9h0M783 1679.9h0M540.5 1680h0M597 1680.2h0M544.3 1680.3h0M1008.7 1680.4h0M355.9 1680.4h0M455.8 1680.6h0M568.1 1680.8h0M478 1680.8h0M670.7 1681.1h0M706.3 1681.2h0M498 1681.3h0M554.6 1681.4h0M729.5 1681.5h0M1148.5 1681.6h0M637.5 1681.7h0M755.4 1681.7h0M655.3 1682h0M463.6 1682.2h0M1088.3 1682.2h0M582 1682.2h0M988.7 1682.2h0M553.3 1682.3h0M970.6 1682.8h0M463.9 1682.8h0M525.6 1682.8h0M656.4 1683.1h0M345.2 1683.1h0M436.7 1683.2h0M564.8 1683.8h0M784.2 1683.9h0M641.6 1684h0M663.2 1684.2h0M517.8 1684.3h0M718 1684.3h0M710.2 1684.4h0M512.3 1684.5h0M545 1684.6h0M771.6 1684.9h0M628.2 1684.9h0M597.5 1684.9h0M706.9 1685.6h0M726.4 1685.7h0M567.8 1685.8h0M633 1686h0M597.5 1686.2h0M303.9 1686.3h0M361.8 1686.3h0M679 1686.3h0M772 1686.5h0M620.4 1686.7h0M449.7 1686.9h0M851.4 1687h0M712.3 1687.1h0M580.6 1687.3h0M458.9 1687.5h0M588.7 1687.6h0M586 1687.7h0M679.2 1687.8h0M631.8 1687.8h0M532.8 1687.9h0M579.2 1688.2h0M730.8 1688.2h0M518.2 1688.4h0M686.8 1688.5h0M565.6 1688.5h0M656.6 1688.6h0M361.8 1689h0M378.6 1689h0M386.6 1689h0M408.7 1689h0M460.3 1689h0M759.3 1689.6h0M804 1689.6h0M1132.2 1689.6h0M480.2 1689.7h0M725.6 1689.8h0M534.1 1689.9h0M465.1 1690h0M444.7 1690.1h0M527.7 1690.1h0M530.2 1690.5h0M549.8 1690.7h0M789.8 1691h0M462.4 1691.1h0M777.1 1691.2h0M764.5 1691.4h0M487.6 1691.4h0M945.5 1691.5h0M339.4 1691.6h0M1246.1 1691.6h0M1281.8 1691.6h0M484.7 1691.9h0M822.2 1692h0M454.2 1692h0M538.2 1692h0M505.6 1692.1h0M537.3 1692.5h0M905.3 1692.6h0M451 1693h0M605.6 1693.2h0M588.8 1693.2h0M691.4 1693.3h0M443.6 1693.4h0M482.9 1693.6h0M851.6 1694h0M475.9 1694.1h0M804.8 1694.2h0M548.2 1694.9h0M517.4 1694.9h0M605.3 1695h0M623.5 1695.1h0M696.5 1695.1h0M776.3 1695.1h0M456 1695.2h0M733.7 1695.4h0M499.2 1695.4h0M800.7 1695.6h0M799.3 1695.8h0M740.5 1695.8h0M742.6 1695.8h0M612.2 1696.2h0M532.2 1696.6h0M621.7 1696.8h0M551.3 1696.8h0M707.4 1696.9h0M517.8 1697h0M490 1697h0M644.9 1697.1h0M705.6 1697.1h0M599.5 1697.2h0M323.1 1697.2h0M395.4 1697.2h0M398.6 1697.2h0M727.8 1697.4h0M677.3 1697.5h0M916.2 1698h0M623.7 1698.2h0M617.6 1698.5h0M464.7 1698.7h0M667 1698.7h0M836.8 1698.9h0M552.5 1699h0M654.8 1699.1h0M1055 1699.3h0M747.3 1699.5h0M279.1 1699.9h0M364.4 1699.9h0M544.9 1700.2h0M887.4 1700.6h0M917.7 1700.9h0M702.3 1701h0M718.1 1701.7h0M447.6 1701.7h0M706.8 1701.7h0M731.5 1702.2h0M460.4 1702.2h0M430.6 1702.2h0M448.1 1702.3h0M582.2 1702.3h0M753.4 1702.3h0M864.4 1702.6h0M799.8 1702.6h0M804.8 1702.7h0M581.5 1702.7h0M712 1702.7h0M455.5 1702.8h0M519.4 1703h0M303.9 1703.1h0M350.6 1703.1h0M383.9 1703.1h0M408.7 1703.1h0M427.9 1703.1h0M827.9 1703.2h0M622.3 1703.3h0M500.3 1704h0M438.1 1704.1h0M484 1704.4h0M467.2 1704.4h0M596.1 1705h0M559.8 1705.2h0M808.7 1705.2h0M602.3 1705.3h0M370 1705.7h0M422.5 1705.7h0M549.5 1705.9h0M846.7 1706h0M609.9 1706h0M531.2 1706.2h0M825.6 1706.5h0M621.2 1706.5h0M841 1706.9h0M636.8 1707.1h0M727.3 1707.3h0M596.4 1707.3h0M443.6 1707.5h0M465 1707.9h0M523.1 1708.1h0M494.8 1708.2h0M580.6 1708.3h0M386.6 1708.4h0M1207.2 1708.4h0M622.3 1708.7h0M686 1708.7h0M638.9 1708.7h0M596.9 1709.1h0M699.9 1709.1h0M675.3 1709.1h0M608.5 1709.5h0M1010.4 1709.6h0M433.3 1710.1h0M862.1 1710.3h0M468.3 1710.3h0M492.2 1710.5h0M675.8 1710.5h0M641.4 1710.6h0M599.3 1710.8h0M1029.5 1711h0M287.1 1711.1h0M588.8 1711.3h0M646.6 1711.4h0M777.5 1711.5h0M616.6 1711.7h0M455.3 1711.8h0M591.1 1711.9h0M524.5 1712.9h0M720.6 1713.1h0M564.2 1713.1h0M663.8 1713.4h0M281.8 1713.7h0M389.2 1713.7h0M717.8 1713.8h0M611 1714h0M970.5 1714.3h0M914.2 1714.5h0M668.4 1714.5h0M764.7 1714.6h0M698.9 1714.7h0M665.2 1715h0M957 1715h0M717.6 1715.2h0M910.7 1715.5h0M685.9 1715.6h0M506.9 1715.7h0M513.2 1715.7h0M773.4 1715.9h0M849.9 1716.2h0M566.3 1716.2h0M590.9 1716.3h0M771.6 1716.5h0M787 1716.5h0M540.7 1716.6h0M517.2 1716.7h0M494.5 1716.8h0M602.4 1716.9h0" stroke="#0000ff" stroke-width="8.40" stroke-linecap="round" fill="none"/>
<path d="M604.3 1717h0M689.5 1717h0M655.4 1717.7h0M855.2 1717.8h0M932.6 1718h0M449.6 1718.2h0M640.4 1718.3h0M556.7 1718.5h0M434.3 1718.6h0M651.4 1718.9h0M284.5 1719.1h0M355.9 1719.1h0M361.8 1719.1h0M381.2 1719.1h0M493.4 1719.1h0M546.4 1719.5h0M611.5 1719.6h0M773.1 1719.7h0M815.3 1719.8h0M591.3 1719.9h0M838.8 1719.9h0M582.6 1720.2h0M522.3 1720.4h0M617.7 1720.4h0M610 1720.8h0M1078.9 1721h0M331.4 1721.7h0M389.2 1721.7h0M422.5 1721.7h0M491.8 1722.4h0M1109.5 1722.4h0M440.9 1722.5h0M585.2 1722.6h0M1089.7 1722.8h0M554.5 1723.1h0M528.6 1723.5h0M994.6 1723.5h0M444.3 1723.7h0M610.6 1723.7h0M575.9 1724h0M774.7 1724.1h0M325.8 1724.4h0M549.3 1724.6h0M642.6 1724.8h0M440.6 1724.8h0M712.7 1725h0M509.9 1725.1h0M604.8 1725.1h0M437.7 1725.1h0M480.4 1725.4h0M461.9 1725.4h0M553.2 1725.5h0M620.5 1725.6h0M644.1 1725.7h0M643.5 1725.8h0M780.2 1726h0M518 1726.1h0M1000.8 1726.2h0M532.9 1726.5h0M491.4 1726.9h0M753.1 1727h0M677.4 1727h0M862 1727h0M323.1 1727.1h0M389.2 1727.1h0M757 1727.3h0M774.4 1727.4h0M720.8 1727.7h0M768.3 1727.7h0M783.7 1728h0M464.2 1728.1h0M782.8 1728.2h0M711.7 1728.3h0M744.8 1728.4h0M589.4 1728.4h0M914.5 1728.5h0M817.5 1729h0M892.7 1729.1h0M490.7 1729.2h0M611.4 1729.2h0M501.1 1729.4h0M582.1 1729.9h0M792 1729.9h0M630.3 1729.9h0M582.6 1729.9h0M756.6 1730h0M1135.6 1730h0M634.2 1730.1h0M587.7 1730.1h0M581.7 1730.3h0M516.7 1730.6h0M507.4 1730.7h0M538.8 1731h0M483.5 1731.2h0M656.7 1731.3h0M670 1731.3h0M699.3 1731.3h0M704.6 1731.3h0M732.6 1731.3h0M779.3 1731.3h0M861.9 1731.3h0M483.8 1731.4h0M510 1731.7h0M410.6 1731.8h0M500.6 1731.9h0M402.5 1732.2h0M591.1 1732.3h0M460.9 1732.9h0M498.7 1733h0M421.9 1733.3h0M495.5 1733.8h0M600.2 1733.8h0M504.2 1734h0M477.2 1734.2h0M493.5 1734.3h0M582.6 1734.4h0M461.1 1735.1h0M485.2 1735.4h0M303.9 1735.6h0M499.9 1735.8h0M583.2 1735.9h0M488.9 1736.4h0M473.1 1736.5h0M488.6 1737h0M366.7 1737.1h0M519.3 1737.1h0M424.3 1737.1h0M485 1737.2h0M611.4 1737.2h0M489 1737.3h0M379.1 1737.4h0M531.8 1737.4h0M465.3 1737.4h0M583.2 1737.6h0M547 1737.6h0M369.6 1737.9h0M699.3 1738h0M554.5 1738h0M536.8 1738.1h0M559 1738.4h0M533.5 1738.5h0M362.2 1738.6h0M440 1738.6h0M514.9 1738.8h0M666 1738.8h0M721.2 1738.8h0M884 1738.8h0M434.5 1738.8h0M500.8 1739.1h0M496 1739.2h0M356.6 1739.4h0M562.9 1739.4h0M532.6 1739.5h0M591.4 1739.6h0M517.3 1739.6h0M577.7 1739.7h0M613.9 1739.8h0M500.1 1739.8h0M539.9 1739.9h0M515.6 1740.2h0M529.3 1740.4h0M604.5 1740.5h0M828.6 1741.2h0M548.6 1741.3h0M514.2 1741.3h0M364.7 1741.4h0M572.3 1741.4h0M543.6 1741.5h0M491 1741.5h0M426.2 1741.6h0M350.2 1742h0M488.6 1742.1h0M555.3 1742.1h0M386.5 1742.1h0M557.3 1742.1h0M627.9 1742.6h0M410.9 1742.6h0M629.4 1742.7h0M356.2 1742.7h0M517.9 1742.9h0M371.1 1743.1h0M674 1743.3h0M407.3 1743.5h0M405.4 1743.6h0M631.9 1743.7h0M458.4 1744.2h0M574.6 1744.2h0M363.7 1744.3h0M511.7 1744.3h0M530 1744.5h0M605.9 1744.8h0M411.8 1745.1h0M521.4 1745.1h0M383.8 1745.7h0M491.2 1745.8h0M588.3 1745.8h0M470.6 1745.9h0M509.7 1746h0M580.5 1746.2h0M464.5 1746.4h0M363.3 1746.5h0M699.3 1746.5h0M773.1 1746.5h0M525.4 1746.7h0M598.8 1747.1h0M1221 1747.1h0M570.2 1747.2h0M399.6 1747.2h0M535 1747.2h0M430.8 1747.5h0M626.5 1747.5h0M631.4 1747.6h0M380.1 1747.9h0M538.1 1748h0M425.5 1748.2h0M377.5 1748.3h0M386.5 1748.3h0M554.9 1748.4h0M553.4 1748.6h0M610.4 1748.7h0M466.8 1748.9h0M751.3 1749.2h0M834.4 1749.2h0M878.4 1749.2h0M569.3 1749.3h0M588.9 1749.5h0M481.1 1749.5h0M507.3 1749.6h0M540.3 1749.9h0M624.3 1749.9h0M404.2 1750h0M494.4 1750.1h0M597.3 1750.2h0M428.5 1750.3h0M308.6 1750.3h0M582.8 1750.4h0M491.8 1750.7h0M496.7 1750.7h0M363.2 1751.1h0M639.4 1751.2h0M593.8 1751.2h0M358.4 1751.2h0M609.9 1751.4h0M311 1751.6h0M366.6 1751.8h0M463.1 1751.8h0M566.4 1752.1h0M682 1752.1h0M694 1752.1h0M751.3 1752.1h0M767.8 1752.1h0M1041.8 1752.1h0M306.9 1752.2h0M438.1 1752.6h0M528.9 1753.1h0M404.6 1753.5h0M450.8 1753.5h0M579.7 1753.6h0M610.6 1753.6h0M625 1753.7h0M266.8 1753.8h0M589.5 1754.1h0M368 1754.7h0M815.2 1754.8h0M1030.6 1754.8h0M615.2 1755.5h0M354 1755.5h0M646.5 1756.1h0M547.7 1756.1h0M323.8 1756.1h0M491.1 1756.2h0M464.4 1756.5h0M572.9 1756.5h0M520.1 1756.6h0M521.2 1756.7h0M558.3 1756.7h0M377.1 1757h0M1386.7 1757h0M381.5 1757.1h0M642.4 1757.2h0M412.8 1757.3h0M589.2 1757.3h0M686 1757.5h0M718.5 1757.5h0M787.3 1757.5h0M848 1757.5h0M360.9 1757.5h0M643.2 1757.7h0M515.5 1757.9h0M532.9 1758.4h0M604.2 1758.5h0M316.2 1758.9h0M380.2 1759h0M357.5 1759.9h0M265.3 1760.4h0M305.5 1760.5h0M359.9 1760.6h0M431 1760.6h0M655.3 1760.7h0M690.5 1760.7h0M400 1760.7h0M552.3 1761.1h0M462.7 1761.6h0M443.1 1761.8h0M550.7 1762h0M353.5 1762.3h0M516.8 1762.3h0M451.2 1762.3h0M405.7 1762.4h0M387 1762.6h0M269.5 1763h0M354.7 1763h0M623.1 1763.2h0M660.7 1763.3h0M674 1763.3h0M704.6 1763.3h0M535.1 1763.5h0M638.1 1763.6h0M276.9 1763.6h0M473.4 1763.6h0M308.4 1763.6h0M607.1 1763.7h0M586 1763.9h0M307.7 1763.9h0M601.2 1764h0M367.1 1764.1h0M513.5 1764.2h0M396 1764.4h0M365.2 1764.6h0M609 1764.9h0M578.5 1764.9h0M399 1765.1h0M319.3 1765.1h0M539.5 1765.5h0M494.4 1765.7h0M345.9 1765.7h0M342.6 1765.9h0M729.4 1766h0M762.5 1766h0M765.1 1766h0M817.9 1766h0M986.4 1766h0M593.9 1766.3h0M437 1766.4h0M415.4 1767.2h0M402.9 1767.3h0M269.9 1767.6h0M405.2 1767.6h0M637.3 1767.9h0M396.7 1767.9h0M436.6 1768h0M735.3 1768.6h0M647.4 1768.7h0M507.1 1768.9h0M620 1769.3h0M310.3 1769.3h0M436.8 1769.3h0M375.4 1769.4h0M558.2 1769.4h0M405.4 1769.4h0M367.6 1769.7h0M425.6 1769.8h0M405.6 1769.8h0M702 1770h0M303 1770.1h0M399.2 1770.2h0M380.1 1770.3h0M309.7 1770.6h0M443.6 1770.7h0M461.5 1770.8h0M696.6 1771.3h0M721.2 1771.3h0M756.6 1771.3h0M884 1771.3h0M514.4 1771.4h0M287.1 1771.5h0M331.8 1771.6h0M362.1 1771.6h0M578.4 1772h0M425.6 1772.1h0M605.8 1772.4h0M448.1 1772.4h0M385.3 1772.6h0M384.6 1772.7h0M594.5 1772.7h0M465.1 1772.7h0M511.2 1772.8h0M361.8 1773h0M373.8 1773.3h0M385.8 1773.4h0M547 1773.5h0M378.2 1773.6h0M568.9 1773.8h0M351.2 1773.8h0M682 1774h0M375.8 1774.2h0M332.3 1774.4h0M528.4 1774.7h0M578 1774.9h0M485.8 1775.1h0" stroke="#0000ff" stroke-width="8.40" stroke-linecap="round" fill="none"/>
<path d="M331.5 1775.2h0M318.3 1775.7h0M576.7 1775.8h0M298.8 1776.2h0M321.6 1776.3h0M553.5 1776.6h0M679.3 1776.6h0M507.8 1776.9h0M528.9 1776.9h0M441.5 1776.9h0M350.7 1777h0M557.4 1777.1h0M776.6 1777.2h0M539.4 1777.2h0M484.7 1778h0M325.9 1778.3h0M422.1 1778.5h0M487.1 1778.6h0M477 1778.7h0M364 1779.1h0M543.7 1779.4h0M568.2 1779.5h0M530.3 1779.5h0M450.3 1779.7h0M668.7 1779.8h0M676.7 1779.8h0M889.3 1779.8h0M256.6 1780h0M526.4 1780h0M358.1 1780h0M398.5 1780.2h0M424.7 1780.6h0M548.2 1780.8h0M417.6 1780.9h0M431.9 1780.9h0M296.6 1781.9h0M380.6 1782.2h0M466.2 1782.3h0M343.4 1782.4h0M900.5 1782.5h0M541.2 1782.9h0M514.1 1783.2h0M370.3 1783.3h0M368.8 1783.4h0M415.3 1783.5h0M395.3 1783.7h0M503.4 1783.7h0M391 1783.7h0M385.6 1783.8h0M283.3 1783.8h0M506.2 1783.8h0M284 1783.9h0M397.6 1784h0M383.2 1784.3h0M384.2 1784.3h0M369.6 1784.3h0M505 1784.5h0M382.1 1784.5h0M404.8 1784.6h0M515.3 1784.6h0M367.9 1784.7h0M404.1 1784.8h0M368.5 1785h0M322.4 1785.1h0M607.5 1785.3h0M471.1 1785.4h0M280.6 1785.4h0M495.5 1785.4h0M679.3 1785.4h0M684.6 1785.4h0M690.5 1785.4h0M804.1 1785.4h0M917.3 1785.4h0M944.5 1785.4h0M396.5 1785.6h0M355.4 1785.6h0M377.7 1786.2h0M480.6 1786.2h0M508.5 1786.5h0M404.1 1786.5h0M390.6 1786.6h0M495.5 1786.7h0M519.5 1786.7h0M408.3 1787.3h0M270.8 1787.4h0M395.3 1787.5h0M232 1788h0M588.2 1788h0M1019.1 1788.1h0M494 1788.3h0M505.4 1788.4h0M468.2 1788.4h0M363.1 1788.5h0M510.9 1788.6h0M442.7 1788.6h0M430.2 1788.6h0M379.7 1788.7h0M267.4 1788.7h0M495.1 1788.8h0M343.6 1788.9h0M414 1788.9h0M349.9 1789h0M489.9 1789h0M429.2 1789.2h0M425.4 1789.3h0M503.6 1789.7h0M392.7 1790.4h0M481.8 1790.6h0M519.6 1790.6h0M440.9 1790.7h0M478.1 1790.8h0M629.5 1791h0M366.7 1791.3h0M513.8 1791.3h0M502.4 1791.3h0M493.6 1791.5h0M433.7 1791.6h0M502.4 1791.8h0M485.6 1792.1h0M507.6 1792.1h0M500.5 1792.2h0M517.9 1792.3h0M518.6 1792.4h0M394.2 1792.5h0M499.7 1792.6h0M340.5 1792.7h0M471.7 1792.8h0M455.5 1793h0M364.2 1793h0M491.1 1793.2h0M530.6 1793.3h0M341.5 1793.4h0M655.3 1793.4h0M676.7 1793.4h0M381.2 1793.4h0M400.3 1793.5h0M379.5 1793.5h0M472.1 1793.6h0M494.4 1793.7h0M522.2 1793.8h0M339.1 1793.9h0M386.8 1794.1h0M502.3 1794.1h0M352.1 1794.3h0M372.8 1794.3h0M389.5 1794.3h0M337.3 1794.4h0M366.3 1794.4h0M398.8 1794.4h0M480.1 1794.4h0M357.6 1794.5h0M360.2 1794.5h0M379.7 1794.6h0M459.5 1794.9h0M381.1 1795.5h0M453.8 1795.8h0M476.6 1795.8h0M390.7 1795.9h0M549.9 1796h0M579.9 1796h0M334.1 1796.2h0M640.5 1796.4h0M358.9 1796.5h0M1055.1 1796.6h0M410 1796.7h0M426.1 1796.9h0M390.9 1796.9h0M487.1 1797.2h0M440.4 1797.2h0M367.1 1797.2h0M510.5 1797.2h0M494 1797.3h0M391.1 1797.4h0M470.1 1797.5h0M375.8 1797.6h0M468.7 1797.6h0M493.9 1797.7h0M346.3 1797.8h0M383.1 1797.8h0M407 1797.8h0M332.1 1797.9h0M369.6 1798h0M470.5 1798.1h0M385.9 1798.4h0M384.3 1798.4h0M393.3 1798.4h0M514.2 1798.5h0M511.1 1798.6h0M350.3 1798.6h0M307.7 1798.6h0M480.8 1798.6h0M354.1 1798.7h0M442.5 1798.7h0M652.7 1798.8h0M502.3 1798.8h0M460.8 1799h0M535.9 1799h0M432.5 1799.1h0M478 1799.2h0M392.6 1799.3h0M423.1 1799.3h0M579.9 1799.3h0M410.2 1799.4h0M432 1799.5h0M491.3 1799.7h0M397.5 1799.7h0M519.3 1799.8h0M338.1 1799.9h0M485.7 1800.1h0M470.5 1800.1h0M405.1 1800.1h0M302.4 1800.2h0M399 1800.2h0M429.6 1800.3h0M472.8 1800.3h0M486 1800.4h0M443.2 1800.4h0M447.8 1800.4h0M389.2 1800.5h0M456.3 1800.5h0M1273 1800.5h0M490.6 1800.7h0M385.2 1801.3h0M491.5 1801.4h0M515.6 1801.6h0M422.2 1801.7h0M511.5 1801.7h0M726.5 1802h0M815.2 1802h0M343.8 1802h0M407.6 1802.1h0M425.9 1802.3h0M486.7 1802.4h0M312.5 1802.6h0M368.8 1802.6h0M462.5 1802.8h0M437 1802.8h0M363.4 1802.8h0M387.4 1802.8h0M367.3 1802.9h0M475.8 1803.5h0M446.7 1803.7h0M510.3 1803.8h0M489.2 1803.8h0M412.6 1804h0M425.1 1804.1h0M443 1804.2h0M442 1804.3h0M470.2 1804.3h0M451.2 1804.4h0M477.7 1804.5h0M381.7 1804.5h0M554.6 1804.6h0M419 1804.6h0M328 1804.7h0M509.4 1804.7h0M522.2 1804.8h0M414.7 1804.8h0M455.4 1804.8h0M298.4 1804.9h0M394.7 1805h0M414.9 1805.1h0M389.1 1805.2h0M362.9 1805.2h0M371.2 1805.3h0M450.3 1805.3h0M361.3 1805.4h0M337.5 1805.5h0M377.1 1805.6h0M466.7 1805.6h0M317.2 1805.7h0M481.6 1805.8h0M356.4 1805.8h0M484.3 1805.8h0M405.5 1805.9h0M344.9 1805.9h0M380.7 1805.9h0M367.1 1806h0M459.3 1806h0M419.4 1806.1h0M425.6 1806.1h0M465 1806.1h0M491.2 1806.2h0M1362.1 1806.5h0M401.7 1806.5h0M319.2 1806.5h0M365.1 1806.6h0M383.5 1806.6h0M329.5 1806.7h0M297.9 1806.7h0M328.1 1807h0M354.7 1807h0M487.6 1807h0M322.4 1807h0M478.7 1807h0M373.4 1807h0M296 1807.1h0M270.6 1807.3h0M552.6 1807.3h0M563.2 1807.3h0M566.6 1807.3h0M588.2 1807.3h0M433.1 1807.4h0M501.9 1807.4h0M497.4 1807.4h0M519.4 1807.6h0M423.1 1807.6h0M327.6 1808h0M397.4 1808h0M1348.2 1808h0M495.5 1808.1h0M343.9 1808.1h0M432.4 1808.1h0M381.9 1808.3h0M464.3 1808.4h0M459 1808.5h0M516.4 1808.5h0M352.9 1808.7h0M468.9 1808.7h0M500.5 1808.8h0M382.7 1808.8h0M327.9 1809h0M403 1809h0M358.7 1809.2h0M465.6 1809.2h0M382.9 1809.3h0M318.9 1809.3h0M323.8 1809.4h0M449.6 1809.4h0M330.7 1809.7h0M465 1809.8h0M483.3 1809.8h0M475 1810h0M360.5 1810.1h0M437 1810.1h0M388.2 1810.1h0M248.6 1810.2h0M501.9 1810.3h0M511.3 1810.4h0M436.3 1810.4h0M382 1810.4h0M431.6 1810.6h0M397.7 1810.7h0M486.8 1810.7h0M512.3 1810.8h0M328.4 1811h0M479.5 1811.1h0M352 1811.1h0M365.7 1811.1h0M385.3 1811.1h0M436.8 1811.2h0M320.4 1811.2h0M490.9 1811.5h0M425.2 1811.7h0M395.5 1811.7h0M368.2 1811.7h0M481.4 1811.9h0M402.7 1811.9h0M368 1811.9h0M361.5 1811.9h0M367.6 1811.9h0M491.1 1812h0M473.9 1812.1h0M436.4 1812.2h0M305.3 1812.3h0M344 1812.4h0M359.3 1812.4h0M482 1812.5h0M503.9 1812.5h0M443.6 1812.6h0M339.7 1812.6h0M422.9 1812.7h0M380.2 1812.9h0M545.3 1812.9h0M492.6 1812.9h0M503.1 1812.9h0M455 1813h0M693.2 1813.2h0M726.5 1813.2h0M505.8 1813.2h0M398.8 1813.2h0M500.7 1813.4h0M431.6 1813.6h0M346.4 1813.6h0M422.8 1813.8h0M399 1813.8h0M371.9 1813.9h0M457.8 1814h0M478.1 1814.1h0M398.7 1814.2h0M471.8 1814.3h0M435.1 1814.4h0M407.6 1814.5h0M405.9 1814.5h0M440.1 1814.6h0M397.6 1814.7h0M429 1814.9h0M459 1815h0M451.9 1815.3h0M455.8 1815.3h0" stroke="#0000ff" stroke-width="8.40" stroke-linecap="round" fill="none"/>
<path d="M377.7 1815.3h0M353.8 1815.5h0M359.8 1815.5h0M373.2 1815.5h0M321.3 1815.6h0M416.9 1815.6h0M424 1815.6h0M652.7 1815.8h0M804.1 1815.8h0M441.1 1815.9h0M507.9 1816h0M519.3 1816h0M621.2 1816h0M649.9 1816h0M315.6 1816h0M284.4 1816.1h0M467.3 1816.1h0M341.2 1816.4h0M344.4 1816.5h0M402.8 1816.6h0M455.8 1816.6h0M402.3 1816.9h0M440.9 1816.9h0M341.9 1817h0M434.4 1817.1h0M443.7 1817.5h0M476.5 1817.7h0M443.6 1817.7h0M339 1817.9h0M379 1817.9h0M387.8 1818.1h0M323 1818.2h0M395.9 1818.3h0M379.2 1818.5h0M364.3 1818.6h0M569 1818.6h0M596.6 1818.6h0M460.7 1818.7h0M357.6 1818.8h0M464.7 1819h0M432.9 1819h0M335.4 1819h0M330.9 1819.1h0M412 1819.4h0M294.4 1819.4h0M407.8 1819.4h0M427.4 1819.5h0M413.6 1819.6h0M298.6 1819.7h0M375.5 1819.8h0M374.5 1820h0M352.6 1820.1h0M442.2 1820.1h0M423.6 1820.4h0M382.5 1820.7h0M434.3 1820.7h0M384.4 1820.9h0M429.8 1821.1h0M393.2 1821.3h0M710 1821.4h0M308.5 1821.5h0M315.8 1821.6h0M342.9 1821.7h0M384 1821.7h0M353.6 1821.8h0M365.5 1821.9h0M329.9 1822.2h0M427.4 1822.2h0M362.9 1822.4h0M282.9 1822.4h0M398.9 1822.6h0M429.2 1822.9h0M332.3 1823.1h0M341.3 1823.1h0M366.8 1823.2h0M370.2 1823.3h0M405.4 1823.3h0M400.3 1823.3h0M382.7 1823.4h0M378.9 1823.5h0M378.3 1823.5h0M399.6 1823.7h0M391 1823.8h0M386.4 1823.9h0M319.4 1824h0M367.3 1824.1h0M358.6 1824.3h0M370.9 1824.5h0M366.5 1824.6h0M350.6 1825.1h0M384.3 1825.1h0M318.8 1825.2h0M389.7 1825.3h0M392.9 1825.3h0M390.5 1825.3h0M351.6 1825.4h0M369.8 1825.5h0M376.1 1825.5h0M365.9 1825.7h0M378.6 1825.9h0M344 1826h0M281.4 1826h0M393 1826.3h0M220.6 1826.6h0M240 1826.6h0M256.6 1826.6h0M453 1826.6h0M521.9 1826.6h0M569 1826.6h0M374.8 1826.7h0M273.1 1826.7h0M933.8 1826.7h0M274.1 1827h0M374.9 1827.4h0M338.6 1827.6h0M367.4 1828.1h0M344.1 1828.3h0M317.7 1828.3h0M336.8 1828.5h0M516.6 1829.3h0M332.3 1829.4h0M314.6 1829.7h0M319.2 1829.8h0M352.2 1829.9h0M290.7 1830.2h0M341 1830.3h0M295.5 1830.4h0M399.1 1830.6h0M397.9 1831.3h0M366.7 1831.5h0M366.5 1831.9h0M370.3 1832h0M306.1 1832h0M338.3 1832.2h0M472.6 1832.3h0M618.6 1832.3h0M249.6 1832.4h0M392.2 1832.8h0M349.7 1833h0M249.9 1833.1h0M391 1833.2h0M374.7 1833.5h0M399.1 1833.8h0M281.7 1834h0M398.1 1834.2h0M322.2 1834.2h0M372.7 1834.3h0M256.7 1834.3h0M330.4 1834.6h0M241.6 1835h0M202 1835h0M376.7 1835.1h0M293.5 1835.1h0M340.2 1835.2h0M341.2 1835.3h0M300.2 1835.4h0M362.7 1835.5h0M314.9 1835.6h0M367.9 1835.8h0M324.4 1836.1h0M349.9 1836.3h0M287.7 1836.5h0M336.8 1836.7h0M365.6 1836.8h0M389 1836.9h0M349.4 1836.9h0M345.8 1837h0M384.7 1837.1h0M384.4 1837.2h0M318.1 1837.6h0M411.3 1837.7h0M425.3 1837.7h0M302.5 1837.9h0M387.4 1838h0M342.3 1838.2h0M343.8 1838.7h0M359.1 1838.8h0M239.5 1838.9h0M330.3 1839.1h0M395.6 1839.6h0M388.6 1840.2h0M275.6 1840.6h0M480.6 1840.6h0M343.5 1840.8h0M356.5 1841.1h0M323.8 1841.1h0M256.5 1841.3h0M353.7 1841.3h0M395.8 1841.4h0M359.7 1841.4h0M306 1841.4h0M315.6 1841.7h0M342.6 1841.9h0M314 1842.2h0M369 1842.2h0M304 1842.2h0M362.6 1842.3h0M239.8 1842.4h0M397.5 1842.5h0M370.7 1842.7h0M292.2 1842.9h0M365.9 1842.9h0M320.6 1843h0M397.6 1843.1h0M388.7 1843.1h0M347.1 1843.3h0M337.7 1843.4h0M266.4 1843.5h0M640.5 1843.5h0M377.1 1843.6h0M354.9 1843.6h0M386.7 1843.7h0M346.1 1843.7h0M357.5 1843.8h0M353.4 1844.2h0M298 1844.4h0M337.9 1844.4h0M343.1 1844.7h0M313.2 1844.7h0M325.5 1844.7h0M384.2 1844.9h0M366 1845.1h0M236.9 1845.2h0M378.9 1845.4h0M257 1845.7h0M383.6 1845.7h0M311.5 1845.9h0M313.5 1846h0M315.2 1846h0M375.4 1846.1h0M316.1 1846.1h0M241.7 1846.2h0M489 1846.2h0M338.6 1846.4h0M355.7 1846.4h0M384.4 1846.5h0M373.1 1846.5h0M387.1 1846.6h0M377.8 1846.7h0M339.5 1846.8h0M285.6 1847.1h0M345.1 1847.3h0M388 1847.4h0M315.2 1847.4h0M387.4 1847.4h0M317.3 1847.5h0M412.4 1847.8h0M475.3 1847.9h0M367 1848.1h0M342.2 1848.2h0M339.9 1848.3h0M366.7 1848.4h0M393.1 1848.8h0M426.6 1848.8h0M325.6 1848.9h0M414.5 1849h0M416.7 1849.1h0M440.2 1849.1h0M395.2 1849.3h0M414.4 1849.6h0M457.5 1849.6h0M425.9 1849.8h0M381.4 1849.8h0M441.9 1849.8h0M337.7 1849.9h0M387.6 1850.8h0M384.6 1850.8h0M400 1850.9h0M347.8 1851.3h0M226.3 1851.3h0M316.2 1851.4h0M208.3 1851.4h0M360.4 1851.5h0M269.9 1851.6h0M317.5 1851.8h0M467.1 1851.8h0M413.7 1851.8h0M767.8 1851.8h0M446.9 1852h0M280 1852h0M279.4 1852h0M257.3 1852h0M426.1 1852.1h0M450.8 1852.2h0M420 1852.2h0M237.6 1852.3h0M449.6 1852.3h0M294.3 1852.4h0M292.7 1852.4h0M424.9 1852.5h0M264.1 1852.8h0M252.1 1852.8h0M319.3 1852.8h0M384.1 1852.8h0M264.7 1853h0M410.6 1853h0M403.8 1853.3h0M386 1853.4h0M316 1853.6h0M252.9 1853.8h0M261.9 1853.8h0M464.1 1853.9h0M351.5 1854h0M262.9 1854.1h0M444 1854.1h0M442.4 1854.3h0M333.5 1854.3h0M388.1 1854.4h0M652.7 1854.5h0M293.3 1854.5h0M250.4 1854.5h0M426.2 1854.6h0M507.9 1854.6h0M519.3 1854.6h0M649.9 1854.6h0M269.4 1854.7h0M227.2 1854.7h0M433.2 1854.7h0M317 1854.7h0M363.8 1854.8h0M328.8 1855.1h0M355.1 1855.1h0M214.2 1855.1h0M381 1855.3h0M460.5 1855.4h0M262.8 1855.4h0M346.2 1855.5h0M248.4 1855.6h0M278.4 1855.7h0M278.9 1855.7h0M234 1855.9h0M238 1855.9h0M349.1 1856h0M459.3 1856h0M447.8 1856.1h0M326.6 1856.2h0M358.2 1856.2h0M232.4 1856.3h0M429.8 1856.3h0M359.5 1856.3h0M325.4 1856.4h0M211.3 1856.4h0M447.1 1856.7h0M352.5 1856.7h0M402.3 1857h0M339.6 1857h0M293.8 1857.1h0M220.3 1857.1h0M209.6 1857.2h0M618.6 1857.3h0M623.9 1857.3h0M428.7 1857.3h0M353 1857.3h0M287.5 1857.4h0M293.7 1857.4h0M470.4 1857.5h0M230.3 1857.6h0M258.7 1857.7h0M330.1 1857.7h0M355.4 1857.9h0M394.4 1858h0M324.9 1858h0M449.6 1858.1h0M352.1 1858.2h0M349.2 1858.2h0M406.4 1858.3h0M222.6 1858.3h0M222.2 1858.3h0M418.6 1858.4h0M321.9 1858.5h0M383.7 1858.8h0M326.3 1858.8h0M331.3 1859h0M301.7 1859h0M231.3 1859.1h0M418.4 1859.2h0M435.9 1859.2h0M297.7 1859.5h0M449.3 1859.6h0M289 1859.7h0M338.5 1859.7h0M263.3 1859.8h0M354 1859.9h0M279.3 1859.9h0M563.5 1859.9h0M588.2 1859.9h0M405.4 1860.1h0M406.5 1860.2h0M393.3 1860.3h0M444.1 1860.4h0M229.8 1860.7h0M261.9 1860.8h0M428.2 1860.8h0M250.2 1860.8h0M335.1 1860.8h0M456.2 1861.2h0M250.2 1861.2h0M439.3 1861.3h0M216 1861.4h0M367.7 1861.4h0" stroke="#0000ff" stroke-width="8.40" stroke-linecap="round" fill="none"/>
<path d="M453.4 1861.5h0M214 1861.5h0M416.4 1861.6h0M245.2 1861.6h0M466.1 1861.9h0M356.2 1862h0M444.2 1862.1h0M227.2 1862.2h0M413.8 1862.4h0M230.5 1862.5h0M402.8 1862.7h0M232.5 1862.7h0M281.5 1862.7h0M690.5 1862.7h0M264.5 1862.8h0M257.1 1862.9h0M279.8 1862.9h0M282.7 1863h0M393.8 1863.2h0M437.4 1863.5h0M433 1863.6h0M425.5 1863.6h0M196 1863.6h0M382.5 1863.8h0M390.6 1864h0M364.2 1865.1h0M289 1865.4h0M213.6 1865.6h0M378.6 1866h0M300.7 1866.1h0M309.1 1866.4h0M377.6 1866.6h0M192.6 1867.5h0M193.3 1867.9h0M436.4 1868.2h0M360.2 1868.8h0M302.4 1869.3h0M370.6 1871h0M400 1871h0M483.3 1871h0M213.2 1871.8h0M442.8 1871.8h0M299.4 1871.8h0M435.2 1871.9h0M299.7 1872.1h0M313 1872.4h0M197 1872.5h0M325.5 1872.6h0M437.9 1873.2h0M585.5 1873.7h0M216.7 1874.5h0M397.4 1874.9h0M442.4 1875h0M378.1 1875.6h0M195.8 1875.9h0M302.5 1876.3h0M211.9 1876.5h0M411.3 1876.6h0M513.9 1876.6h0M908.5 1876.6h0M1016.5 1876.6h0M320 1877.4h0M434.7 1877.6h0M1262.6 1877.7h0M209.8 1878.5h0M347.3 1878.7h0M269.1 1878.8h0M464 1879.3h0M502.6 1879.3h0M560.6 1879.3h0M704.6 1879.3h0M208.2 1879.4h0M332.9 1879.7h0M437.3 1879.8h0M271.9 1879.9h0M441.6 1879.9h0M389.5 1880.2h0M221.3 1880.2h0M344 1880.3h0M190.4 1880.4h0M364.6 1880.8h0M286.8 1880.9h0M385.7 1880.9h0M263.9 1881.4h0M266.2 1883.1h0M251.5 1883.6h0M220 1883.7h0M217 1883.9h0M268.1 1883.9h0M248.1 1884h0M251.5 1884.1h0M334.3 1884.4h0M387.4 1884.6h0M820.6 1884.6h0M250 1884.6h0M239.4 1884.8h0M373 1884.9h0M241.1 1885h0M239.2 1885.2h0M283.8 1885.3h0M256.9 1885.3h0M259.4 1885.4h0M252.9 1885.5h0M211.8 1885.6h0M238.6 1885.6h0M271.7 1885.9h0M371.9 1886.1h0M234.2 1886.1h0M382 1886.2h0M241.3 1886.5h0M266.4 1886.8h0M209.4 1886.8h0M250.1 1886.8h0M284 1887.7h0M950.4 1887.8h0M242.3 1888h0M200.4 1888.1h0M240.6 1888.3h0M265.2 1888.3h0M191.7 1888.5h0M233.3 1888.5h0M244.6 1888.8h0M394.3 1889h0M254.3 1889.2h0M260.8 1889.7h0M270 1889.7h0M269.1 1889.8h0M248.2 1890h0M254.9 1890.4h0M277.6 1890.4h0M273.6 1891h0M331.9 1891h0M221.3 1891.2h0M235.4 1891.2h0M255.7 1891.2h0M194.8 1891.2h0M327.9 1891.8h0M234.2 1891.9h0M291.7 1892h0M247.9 1892h0M247.3 1892.1h0M236.6 1892.4h0M254.3 1892.4h0M216.9 1892.4h0M255.5 1892.7h0M235.3 1892.8h0M494.6 1892.8h0M569 1892.8h0M259.6 1892.9h0M238.4 1893h0M231.6 1893.2h0M242.9 1893.9h0M234 1893.9h0M326.3 1894.1h0M231.2 1894.1h0M281.4 1894.4h0M270.1 1894.9h0M210.2 1895.2h0M240.7 1895.2h0M232.1 1895.2h0M240.7 1895.4h0M269.4 1895.4h0M265.3 1895.5h0M228.8 1895.6h0M478 1895.9h0M489 1895.9h0M263.6 1896.2h0M242.2 1896.3h0M310.3 1896.5h0M272.5 1896.8h0M268.9 1897h0M243.4 1897.6h0M260.7 1897.8h0M283.7 1897.9h0M293.7 1898.2h0M271 1898.2h0M337.9 1898.3h0M723.8 1898.7h0M224.9 1898.8h0M265.9 1898.8h0M218.8 1898.8h0M275.6 1899h0M332.2 1899h0M235.2 1899.1h0M222.4 1899.2h0M315.6 1899.2h0M310.3 1899.6h0M240.8 1899.9h0M270.9 1900.3h0M275.6 1900.4h0M203.1 1900.7h0M224 1900.7h0M252 1900.7h0M385.8 1900.8h0M275.8 1900.9h0M219.2 1901h0M425.3 1901.2h0M450.4 1901.2h0M198.4 1901.3h0M187.7 1901.6h0M198.9 1901.7h0M247.3 1901.9h0M255 1901.9h0M238.5 1902.2h0M226.9 1902.3h0M195.8 1902.4h0M269.4 1902.4h0M249.8 1902.5h0M259.8 1902.7h0M259.9 1903.3h0M386.1 1903.4h0M207.5 1903.6h0M635.2 1903.9h0M258.2 1904.1h0M231.4 1904.1h0M232.4 1904.1h0M342.1 1904.2h0M248.6 1904.8h0M288.6 1904.9h0M231.7 1905.6h0M248.1 1905.7h0M310.5 1905.8h0M392.4 1906h0M267.5 1906h0M263.3 1907h0M238.4 1907.1h0M324.7 1907.3h0M254.4 1907.3h0M203.7 1907.7h0M271.9 1907.7h0M312.2 1907.8h0M278.6 1907.8h0M225.1 1908.4h0M269 1908.5h0M227.6 1908.9h0M254.7 1909.1h0M249.2 1909.1h0M231.1 1909.1h0M367.8 1909.2h0M458.6 1909.2h0M228.4 1909.2h0M222.8 1909.3h0M269.1 1909.5h0M674 1909.9h0M233.6 1910.3h0M229.1 1910.3h0M249.8 1910.4h0M241.9 1910.4h0M240 1910.5h0M230.2 1910.6h0M269.8 1910.8h0M266.1 1910.8h0M252.1 1911.1h0M232.9 1911.2h0M248.5 1911.4h0M308.7 1911.4h0M219.2 1911.6h0M232.1 1911.8h0M261.7 1911.9h0M442 1911.9h0M228.2 1912.2h0M233.5 1912.4h0M197.9 1912.5h0M208.3 1912.8h0M236.4 1912.8h0M273.5 1912.9h0M312.4 1913.1h0M270.4 1913.1h0M300.9 1913.2h0M255 1913.3h0M244.4 1913.8h0M222.3 1913.8h0M287.2 1913.9h0M259.2 1913.9h0M262.5 1914h0M208.5 1914h0M232.1 1914.8h0M275.8 1915.2h0M174 1915.2h0M417.3 1915.2h0M781.9 1915.2h0M368.1 1915.3h0M337.7 1915.6h0M190.3 1915.6h0M332.2 1915.8h0M194.2 1915.9h0M273.6 1916h0M220.6 1916.2h0M262.7 1916.5h0M210.4 1916.9h0M232.5 1917.2h0M323 1917.3h0M277.2 1917.3h0M300 1917.4h0M258.9 1917.7h0M205.2 1917.8h0M269.3 1918h0M208.2 1918.3h0M270.2 1918.7h0M202.9 1918.8h0M231.8 1918.9h0M216.3 1919.1h0M210.9 1919.2h0M209.5 1919.3h0M250.7 1919.5h0M253.7 1919.6h0M232.2 1919.6h0M238.7 1919.7h0M272 1919.7h0M207.6 1920h0M247.6 1920.3h0M276.6 1920.4h0M364.3 1920.4h0M219.3 1920.4h0M235.9 1920.7h0M288.1 1920.8h0M188.6 1920.8h0M267.3 1920.9h0M302.3 1921.3h0M248.6 1921.3h0M244.2 1921.3h0M227.3 1921.7h0M317.3 1921.8h0M185.6 1921.8h0M257.5 1921.9h0M230.4 1922.3h0M274.9 1922.4h0M257.8 1922.4h0M218.2 1922.9h0M244.9 1922.9h0M229.1 1922.9h0M439.3 1923.2h0M261 1923.3h0M268.3 1923.5h0M275.7 1923.8h0M197.1 1923.9h0M275.6 1924.2h0M266.4 1924.3h0M251.1 1924.4h0M262.7 1924.4h0M272.1 1924.6h0M248.9 1924.7h0M181.1 1924.8h0M208.3 1925.6h0M385.5 1925.6h0M207 1925.8h0M403.3 1925.9h0M220.5 1925.9h0M274.8 1925.9h0M245.7 1926.2h0M399.2 1926.2h0M179.1 1926.3h0M207.2 1926.9h0M234.1 1927h0M263.2 1927.5h0M183.8 1927.5h0M230.8 1927.6h0M182.8 1927.9h0M263.7 1927.9h0M327.7 1928.1h0M276.5 1928.1h0M184.8 1928.1h0M253.7 1928.3h0M270.5 1928.4h0M358.8 1928.5h0M188 1928.5h0M212.3 1928.6h0M189.5 1928.7h0M198.2 1929h0M226.4 1929.2h0M181 1929.2h0M226.5 1929.4h0M223.4 1929.4h0M230.3 1929.5h0M267.6 1929.6h0M179.9 1929.6h0M220.5 1929.8h0M244.2 1929.8h0M206.8 1930.2h0M205.4 1930.3h0M252.3 1930.4h0M311.9 1930.5h0M257.7 1930.5h0M264.1 1930.5h0M272.7 1930.7h0M185.8 1930.8h0M210 1931h0M199 1931h0M212.6 1931.1h0M207.9 1931.2h0M173.3 1931.2h0M228.7 1931.9h0M195.4 1932.2h0M192 1932.2h0M326 1932.3h0M181.5 1932.3h0M277.5 1932.3h0M293.5 1932.4h0M212.3 1932.6h0M266.3 1932.8h0" stroke="#0000ff" stroke-width="8.40" stroke-linecap="round" fill="none"/>
<path d="M266.9 1932.8h0M342.2 1932.9h0M212.9 1933h0M183.5 1933h0M191.3 1933.1h0M334.2 1933.1h0M194.7 1933.2h0M212.9 1933.3h0M226.1 1933.3h0M378.5 1933.4h0M217.3 1933.5h0M233.9 1933.5h0M265.3 1933.6h0M219.8 1933.8h0M330.2 1933.9h0M253.2 1934.1h0M226.5 1934.2h0M208.6 1934.5h0M169.6 1934.6h0M257.4 1934.6h0M207.1 1934.8h0M192.6 1934.9h0M193.3 1935h0M208.9 1935h0M374.4 1935.1h0M249.1 1935.1h0M231.8 1935.4h0M213.5 1935.5h0M267.1 1935.5h0M273.5 1935.7h0M233.1 1935.9h0M169.4 1935.9h0M273.4 1936.1h0M234.6 1936.4h0M224.8 1936.4h0M197.2 1936.4h0M369.9 1936.5h0M376.5 1936.7h0M174.1 1936.8h0M288.5 1936.9h0M231.9 1937h0M287.5 1937.2h0M264.5 1937.2h0M190.8 1937.4h0M268.4 1937.5h0M181.6 1938h0M179.5 1938.1h0M231.1 1938.1h0M237.7 1938.3h0M278.2 1938.4h0M264.3 1938.4h0M282.4 1938.6h0M264 1938.7h0M178.4 1939h0M236.2 1939.1h0M233.6 1939.6h0M291.1 1939.7h0M218.8 1939.9h0M280.9 1940h0M251.1 1940.1h0M466.6 1940.2h0M292.3 1940.2h0M188 1940.2h0M192.8 1940.3h0M277.4 1940.3h0M189.6 1940.6h0M237.3 1940.8h0M289.3 1940.9h0M178.5 1941.1h0M237.8 1941.1h0M172.9 1941.1h0M173.1 1941.3h0M193.1 1941.7h0M251.1 1941.9h0M265.8 1942h0M178 1942.1h0M196.7 1942.1h0M207.7 1942.1h0M243.1 1942.1h0M218.9 1942.1h0M206.1 1942.1h0M291.2 1942.2h0M213.8 1942.2h0M274 1942.2h0M249.5 1942.2h0M277.1 1942.3h0M265.5 1942.3h0M182.7 1942.3h0M284.9 1942.3h0M207.2 1942.3h0M235.2 1942.4h0M174.5 1942.4h0M168.5 1942.4h0M241.2 1942.5h0M183.8 1942.5h0M270.5 1942.5h0M286.6 1942.5h0M204.3 1942.5h0M178.2 1942.6h0M195.6 1942.6h0M274.9 1942.6h0M241.3 1942.7h0M176.9 1942.7h0M268.7 1942.8h0M206.6 1942.8h0M225.3 1942.8h0M322.8 1942.8h0M383.9 1942.8h0M399.9 1942.8h0M405.3 1942.8h0M579.9 1942.8h0M590.8 1942.8h0M215.1 1942.8h0M217.7 1942.9h0M252.3 1942.9h0M214.2 1942.9h0M247.4 1942.9h0M280 1943h0M228.9 1943h0M185.5 1943h0M267.3 1943.1h0M197.9 1943.2h0M283.1 1943.2h0M257.6 1943.3h0M179.6 1943.4h0M261.4 1943.5h0M289.8 1943.6h0M215.8 1943.6h0M286 1943.6h0M251.1 1944h0M205.8 1944.1h0M216 1944.1h0M276.5 1944.1h0M191.7 1944.2h0M175.5 1944.3h0M265.4 1944.3h0M243.1 1944.3h0M245.4 1944.6h0M180.1 1944.7h0M232.4 1944.7h0M261.5 1944.8h0M238.3 1945h0M197.5 1945h0" stroke="#0000ff" stroke-width="8.40" stroke-linecap="round" fill="none"/>
<line x1="124.20" y1="2009.10" x2="1257.07" y2="1272.25" stroke="#000" stroke-width="3.94" stroke-dasharray="15.34 6.64"/>
</g>
<rect x="124.20" y="1108.80" width="1851.10" height="900.30" fill="none" stroke="#1c1c1c" stroke-width="2.76"/>
<path d="M124.20 2009.10v9.90M355.59 2009.10v9.90M586.98 2009.10v9.90M818.36 2009.10v9.90M1049.75 2009.10v9.90M1281.14 2009.10v9.90M1512.53 2009.10v9.90M1743.91 2009.10v9.90M1975.30 2009.10v9.90M124.20 2009.10h-9.90M124.20 1859.05h-9.90M124.20 1709.00h-9.90M124.20 1558.95h-9.90M124.20 1408.90h-9.90M124.20 1258.85h-9.90M124.20 1108.80h-9.90" stroke="#1c1c1c" stroke-width="2.76" fill="none"/>
<text x="124.20" y="2049.10" text-anchor="middle" textLength="16.4" lengthAdjust="spacingAndGlyphs">0</text>
<text x="355.59" y="2049.10" text-anchor="middle" textLength="49.3" lengthAdjust="spacingAndGlyphs">100</text>
<text x="586.98" y="2049.10" text-anchor="middle" textLength="49.3" lengthAdjust="spacingAndGlyphs">200</text>
<text x="818.36" y="2049.10" text-anchor="middle" textLength="49.3" lengthAdjust="spacingAndGlyphs">300</text>
<text x="1049.75" y="2049.10" text-anchor="middle" textLength="49.3" lengthAdjust="spacingAndGlyphs">400</text>
<text x="1281.14" y="2049.10" text-anchor="middle" textLength="49.3" lengthAdjust="spacingAndGlyphs">500</text>
<text x="1512.53" y="2049.10" text-anchor="middle" textLength="49.3" lengthAdjust="spacingAndGlyphs">600</text>
<text x="1743.91" y="2049.10" text-anchor="middle" textLength="49.3" lengthAdjust="spacingAndGlyphs">700</text>
<text x="1975.30" y="2049.10" text-anchor="middle" textLength="49.3" lengthAdjust="spacingAndGlyphs">800</text>
<text x="103.20" y="2019.10" text-anchor="end" textLength="16.4" lengthAdjust="spacingAndGlyphs">0</text>
<text x="103.20" y="1869.05" text-anchor="end" textLength="49.3" lengthAdjust="spacingAndGlyphs">100</text>
<text x="103.20" y="1719.00" text-anchor="end" textLength="49.3" lengthAdjust="spacingAndGlyphs">200</text>
<text x="103.20" y="1568.95" text-anchor="end" textLength="49.3" lengthAdjust="spacingAndGlyphs">300</text>
<text x="103.20" y="1418.90" text-anchor="end" textLength="49.3" lengthAdjust="spacingAndGlyphs">400</text>
<text x="103.20" y="1268.85" text-anchor="end" textLength="49.3" lengthAdjust="spacingAndGlyphs">500</text>
<text x="103.20" y="1118.80" text-anchor="end" textLength="49.3" lengthAdjust="spacingAndGlyphs">600</text>
<text x="1049.75" y="2088.10" text-anchor="middle" textLength="372.8" lengthAdjust="spacingAndGlyphs">Observed Discharge (m³/s)</text>
<text transform="translate(33.00 1558.95) rotate(-90)" text-anchor="middle" textLength="370.7" lengthAdjust="spacingAndGlyphs">Predicted Discharge (m³/s)</text>
<rect x="1690.00" y="1122.60" width="272.00" height="50.10" rx="6.08" fill="#fff" fill-opacity="0.8" stroke="#cccccc" stroke-width="2.76"/>
<circle cx="1728.00" cy="1147.70" r="4.20" fill="#0000ff"/>
<text x="1778.50" y="1154.30" textLength="170.2" lengthAdjust="spacingAndGlyphs">Testing Data</text>
<rect x="1684.80" y="1182.90" width="277.20" height="210.50" fill="#fff" fill-opacity="0.8" stroke="#1a1a1a" stroke-width="2.76"/>
<text x="1697.60" y="1216.80" textLength="199.9" lengthAdjust="spacingAndGlyphs">Test R^2: 0.69</text>
<text x="1697.60" y="1248.80" textLength="234.3" lengthAdjust="spacingAndGlyphs">Test RMSE: 78.29</text>
<text x="1697.60" y="1280.80" textLength="217.1" lengthAdjust="spacingAndGlyphs">Test MAE: 54.90</text>
<text x="1697.60" y="1312.80" textLength="249.6" lengthAdjust="spacingAndGlyphs">Test MSE: 6129.37</text>
<text x="1697.60" y="1344.80" textLength="233.1" lengthAdjust="spacingAndGlyphs">Test MAPE: 32.76</text>
<text x="1697.60" y="1376.80" textLength="236.3" lengthAdjust="spacingAndGlyphs">Test PBIAS: 13.75</text>
</g></svg></body></html>
